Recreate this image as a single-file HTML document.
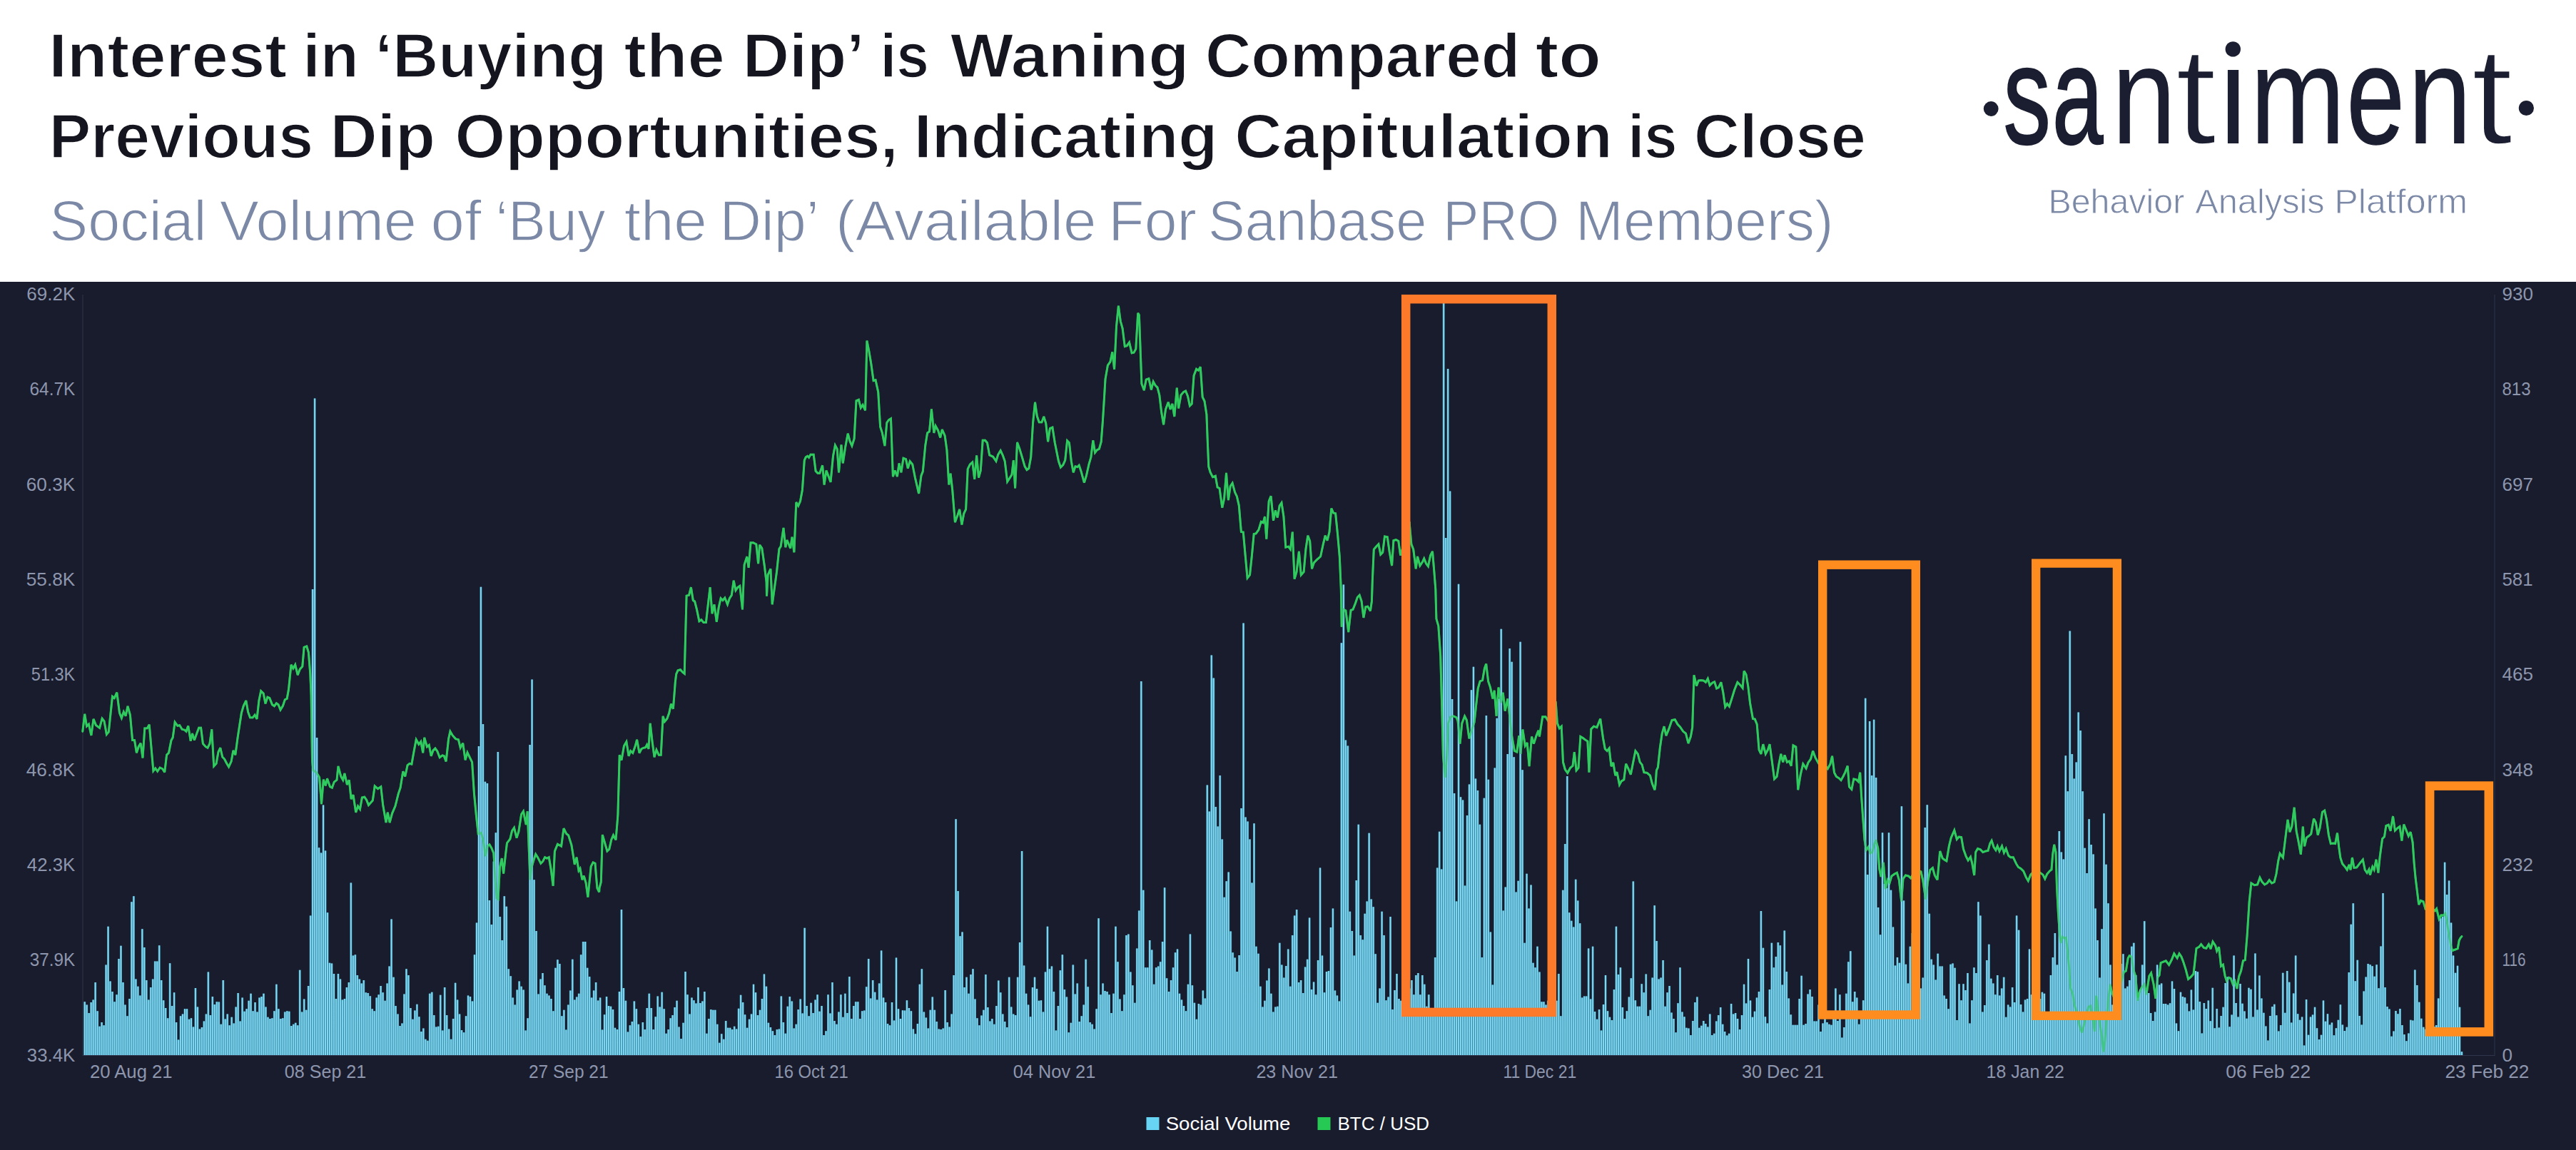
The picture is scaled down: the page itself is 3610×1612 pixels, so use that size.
<!DOCTYPE html>
<html><head><meta charset="utf-8"><title>Santiment chart</title>
<style>
html,body{margin:0;padding:0;background:#fff;}
body{width:3610px;height:1612px;overflow:hidden;font-family:"Liberation Sans",sans-serif;}
svg{display:block}
text{font-family:"Liberation Sans",sans-serif;}
.ax{font-size:26px;fill:#8d96ad;}
</style></head><body>
<svg width="3610" height="1612" viewBox="0 0 3610 1612">
<rect x="0" y="0" width="3610" height="395" fill="#ffffff"/>
<rect x="0" y="395" width="3610" height="1217" fill="#191c2d"/>
<!-- header -->
<text x="68.33" y="108" font-size="87" font-weight="700" fill="#14151f" stroke="#ffffff" stroke-width="1.6" textLength="333.73" lengthAdjust="spacingAndGlyphs">Interest</text>
<text x="424.3" y="108" font-size="87" font-weight="700" fill="#14151f" stroke="#ffffff" stroke-width="1.6" textLength="78.62" lengthAdjust="spacingAndGlyphs">in</text>
<text x="525.59" y="108" font-size="87" font-weight="700" fill="#14151f" stroke="#ffffff" stroke-width="1.6" textLength="324.92" lengthAdjust="spacingAndGlyphs">‘Buying</text>
<text x="874.62" y="108" font-size="87" font-weight="700" fill="#14151f" stroke="#ffffff" stroke-width="1.6" textLength="141.17" lengthAdjust="spacingAndGlyphs">the</text>
<text x="1040.66" y="108" font-size="87" font-weight="700" fill="#14151f" stroke="#ffffff" stroke-width="1.6" textLength="170.77" lengthAdjust="spacingAndGlyphs">Dip’</text>
<text x="1233.44" y="108" font-size="87" font-weight="700" fill="#14151f" stroke="#ffffff" stroke-width="1.6" textLength="68.42" lengthAdjust="spacingAndGlyphs">is</text>
<text x="1331.7" y="108" font-size="87" font-weight="700" fill="#14151f" stroke="#ffffff" stroke-width="1.6" textLength="334.73" lengthAdjust="spacingAndGlyphs">Waning</text>
<text x="1688.9" y="108" font-size="87" font-weight="700" fill="#14151f" stroke="#ffffff" stroke-width="1.6" textLength="441.42" lengthAdjust="spacingAndGlyphs">Compared</text>
<text x="2151.88" y="108" font-size="87" font-weight="700" fill="#14151f" stroke="#ffffff" stroke-width="1.6" textLength="92.02" lengthAdjust="spacingAndGlyphs">to</text>
<text x="68.65" y="221" font-size="87" font-weight="700" fill="#14151f" stroke="#ffffff" stroke-width="1.6" textLength="370.48" lengthAdjust="spacingAndGlyphs">Previous</text>
<text x="462.48" y="221" font-size="87" font-weight="700" fill="#14151f" stroke="#ffffff" stroke-width="1.6" textLength="147.65" lengthAdjust="spacingAndGlyphs">Dip</text>
<text x="637.62" y="221" font-size="87" font-weight="700" fill="#14151f" stroke="#ffffff" stroke-width="1.6" textLength="621.21" lengthAdjust="spacingAndGlyphs">Opportunities,</text>
<text x="1280.78" y="221" font-size="87" font-weight="700" fill="#14151f" stroke="#ffffff" stroke-width="1.6" textLength="425.57" lengthAdjust="spacingAndGlyphs">Indicating</text>
<text x="1730.29" y="221" font-size="87" font-weight="700" fill="#14151f" stroke="#ffffff" stroke-width="1.6" textLength="529.56" lengthAdjust="spacingAndGlyphs">Capitulation</text>
<text x="2281.17" y="221" font-size="87" font-weight="700" fill="#14151f" stroke="#ffffff" stroke-width="1.6" textLength="69.34" lengthAdjust="spacingAndGlyphs">is</text>
<text x="2374.14" y="221" font-size="87" font-weight="700" fill="#14151f" stroke="#ffffff" stroke-width="1.6" textLength="240.73" lengthAdjust="spacingAndGlyphs">Close</text>
<text x="69.26" y="337" font-size="80" font-weight="400" fill="#7b89a6" stroke="#ffffff" stroke-width="1.4" textLength="220.3" lengthAdjust="spacingAndGlyphs">Social</text>
<text x="307.77" y="337" font-size="80" font-weight="400" fill="#7b89a6" stroke="#ffffff" stroke-width="1.4" textLength="276.11" lengthAdjust="spacingAndGlyphs">Volume</text>
<text x="603.6" y="337" font-size="80" font-weight="400" fill="#7b89a6" stroke="#ffffff" stroke-width="1.4" textLength="71.1" lengthAdjust="spacingAndGlyphs">of</text>
<text x="694.45" y="337" font-size="80" font-weight="400" fill="#7b89a6" stroke="#ffffff" stroke-width="1.4" textLength="154.07" lengthAdjust="spacingAndGlyphs">‘Buy</text>
<text x="874.66" y="337" font-size="80" font-weight="400" fill="#7b89a6" stroke="#ffffff" stroke-width="1.4" textLength="116.21" lengthAdjust="spacingAndGlyphs">the</text>
<text x="1008.42" y="337" font-size="80" font-weight="400" fill="#7b89a6" stroke="#ffffff" stroke-width="1.4" textLength="139.45" lengthAdjust="spacingAndGlyphs">Dip’</text>
<text x="1170.97" y="337" font-size="80" font-weight="400" fill="#7b89a6" stroke="#ffffff" stroke-width="1.4" textLength="365.64" lengthAdjust="spacingAndGlyphs">(Available</text>
<text x="1553.39" y="337" font-size="80" font-weight="400" fill="#7b89a6" stroke="#ffffff" stroke-width="1.4" textLength="123.54" lengthAdjust="spacingAndGlyphs">For</text>
<text x="1693.12" y="337" font-size="80" font-weight="400" fill="#7b89a6" stroke="#ffffff" stroke-width="1.4" textLength="306.39" lengthAdjust="spacingAndGlyphs">Sanbase</text>
<text x="2022.22" y="337" font-size="80" font-weight="400" fill="#7b89a6" stroke="#ffffff" stroke-width="1.4" textLength="163.04" lengthAdjust="spacingAndGlyphs">PRO</text>
<text x="2208.07" y="337" font-size="80" font-weight="400" fill="#7b89a6" stroke="#ffffff" stroke-width="1.4" textLength="361.5" lengthAdjust="spacingAndGlyphs">Members)</text>
<text x="2870.47" y="298.7" font-size="48" font-weight="400" fill="#7b89a6" stroke="#ffffff" stroke-width="0.8" textLength="190.78" lengthAdjust="spacingAndGlyphs">Behavior</text>
<text x="3076.2" y="298.7" font-size="48" font-weight="400" fill="#7b89a6" stroke="#ffffff" stroke-width="0.8" textLength="181.56" lengthAdjust="spacingAndGlyphs">Analysis</text>
<text x="3271.32" y="298.7" font-size="48" font-weight="400" fill="#7b89a6" stroke="#ffffff" stroke-width="0.8" textLength="186.82" lengthAdjust="spacingAndGlyphs">Platform</text>
<text x="2807.5" y="200.6" font-size="194" font-weight="400" fill="#1b1e31" stroke="#1b1e31" stroke-width="2.4" textLength="66.28" lengthAdjust="spacingAndGlyphs">s</text>
<text x="2876.11" y="200.6" font-size="194" font-weight="400" fill="#1b1e31" stroke="#1b1e31" stroke-width="2.4" textLength="71.33" lengthAdjust="spacingAndGlyphs">a</text>
<text x="2959.31" y="200.6" font-size="194" font-weight="400" fill="#1b1e31" textLength="90.4" lengthAdjust="spacingAndGlyphs">n</text>
<text x="3048.36" y="200.6" font-size="194" font-weight="400" fill="#1b1e31" stroke="#ffffff" stroke-width="3.5" textLength="58.2" lengthAdjust="spacingAndGlyphs">t</text>
<text x="3105.41" y="200.6" font-size="194" font-weight="400" fill="#1b1e31" textLength="48.2" lengthAdjust="spacingAndGlyphs">ı</text>
<text x="3153.27" y="200.6" font-size="194" font-weight="400" fill="#1b1e31" textLength="133.45" lengthAdjust="spacingAndGlyphs">m</text>
<text x="3288.47" y="200.6" font-size="194" font-weight="400" fill="#1b1e31" stroke="#1b1e31" stroke-width="1.4" textLength="81.34" lengthAdjust="spacingAndGlyphs">e</text>
<text x="3374.2" y="200.6" font-size="194" font-weight="400" fill="#1b1e31" textLength="89.61" lengthAdjust="spacingAndGlyphs">n</text>
<text x="3463.03" y="200.6" font-size="194" font-weight="400" fill="#1b1e31" stroke="#ffffff" stroke-width="3.5" textLength="58.75" lengthAdjust="spacingAndGlyphs">t</text>
<!-- logo -->
<g fill="#1b1e31">
<circle cx="2790.2" cy="152.5" r="10.4"/>
<circle cx="3540.4" cy="151.5" r="10.6"/>
<circle cx="3129.3" cy="68.9" r="10.7"/>
</g>
<!-- axes -->
<rect x="115.5" y="413" width="1" height="1066" fill="#30354b"/>
<rect x="3495.5" y="413" width="1" height="1066" fill="#30354b"/>
<rect x="115.5" y="1479" width="3381" height="1" fill="#30354b"/>

<text class="ax" x="37.3" y="420.8" textLength="68.0" lengthAdjust="spacingAndGlyphs">69.2K</text>
<text class="ax" x="41.5" y="554.2" textLength="63.8" lengthAdjust="spacingAndGlyphs">64.7K</text>
<text class="ax" x="36.8" y="687.5" textLength="68.5" lengthAdjust="spacingAndGlyphs">60.3K</text>
<text class="ax" x="36.8" y="820.9" textLength="68.5" lengthAdjust="spacingAndGlyphs">55.8K</text>
<text class="ax" x="43.8" y="954.2" textLength="61.5" lengthAdjust="spacingAndGlyphs">51.3K</text>
<text class="ax" x="36.8" y="1087.6" textLength="68.5" lengthAdjust="spacingAndGlyphs">46.8K</text>
<text class="ax" x="37.8" y="1221.0" textLength="67.5" lengthAdjust="spacingAndGlyphs">42.3K</text>
<text class="ax" x="41.8" y="1354.3" textLength="63.5" lengthAdjust="spacingAndGlyphs">37.9K</text>
<text class="ax" x="37.8" y="1487.7" textLength="67.5" lengthAdjust="spacingAndGlyphs">33.4K</text>
<text class="ax" x="3506.5" y="420.8">930</text>
<text class="ax" x="3506.5" y="554.2" textLength="40.0" lengthAdjust="spacingAndGlyphs">813</text>
<text class="ax" x="3506.5" y="687.5">697</text>
<text class="ax" x="3506.5" y="820.9" textLength="43.0" lengthAdjust="spacingAndGlyphs">581</text>
<text class="ax" x="3506.5" y="954.2">465</text>
<text class="ax" x="3506.5" y="1087.6">348</text>
<text class="ax" x="3506.5" y="1221.0">232</text>
<text class="ax" x="3506.5" y="1354.3" textLength="33.1" lengthAdjust="spacingAndGlyphs">116</text>
<text class="ax" x="3506.5" y="1487.7">0</text>
<text class="ax" x="126" y="1510.6" textLength="115.6" lengthAdjust="spacingAndGlyphs">20 Aug 21</text>
<text class="ax" x="398.8" y="1510.6" textLength="114.5" lengthAdjust="spacingAndGlyphs">08 Sep 21</text>
<text class="ax" x="741" y="1510.6" textLength="111.5" lengthAdjust="spacingAndGlyphs">27 Sep 21</text>
<text class="ax" x="1085.4" y="1510.6" textLength="103.3" lengthAdjust="spacingAndGlyphs">16 Oct 21</text>
<text class="ax" x="1419.8" y="1510.6" textLength="115.5" lengthAdjust="spacingAndGlyphs">04 Nov 21</text>
<text class="ax" x="1760.4" y="1510.6" textLength="114.6" lengthAdjust="spacingAndGlyphs">23 Nov 21</text>
<text class="ax" x="2106.4" y="1510.6" textLength="102.8" lengthAdjust="spacingAndGlyphs">11 Dec 21</text>
<text class="ax" x="2441" y="1510.6" textLength="115.0" lengthAdjust="spacingAndGlyphs">30 Dec 21</text>
<text class="ax" x="2783.6" y="1510.6" textLength="109.2" lengthAdjust="spacingAndGlyphs">18 Jan 22</text>
<text class="ax" x="3119.3" y="1510.6" textLength="118.9" lengthAdjust="spacingAndGlyphs">06 Feb 22</text>
<text class="ax" x="3426.5" y="1510.6" textLength="117.9" lengthAdjust="spacingAndGlyphs">23 Feb 22</text>
<path d="M115.8 1025.2 L118.7 1000.8 L121.5 1018.0 L124.4 1015.1 L127.9 1030.9 L131.0 1007.9 L134.5 1016.6 L139.6 1020.3 L143.1 1007.1 L146.0 1010.8 L149.4 1029.5 L152.3 1026.0 L157.5 976.3 L160.3 978.4 L163.8 970.6 L167.5 999.3 L170.4 1006.5 L173.3 997.9 L176.1 1003.6 L179.0 989.8 L182.4 1002.2 L185.6 1037.5 L188.5 1037.5 L191.4 1055.3 L194.2 1046.7 L197.1 1041.6 L200.0 1062.5 L202.8 1020.9 L206.3 1020.9 L209.2 1015.7 L214.9 1080.6 L217.8 1076.9 L220.7 1081.2 L224.1 1076.0 L227.8 1077.8 L230.7 1082.6 L233.6 1058.2 L236.5 1055.3 L239.9 1038.1 L242.2 1033.8 L245.1 1012.3 L248.8 1017.4 L251.7 1016.6 L255.1 1022.3 L258.6 1023.2 L260.9 1025.2 L263.7 1017.4 L267.2 1038.7 L269.5 1028.1 L272.4 1037.5 L275.8 1028.1 L278.7 1020.3 L281.6 1020.3 L284.4 1042.4 L288.2 1046.7 L291.0 1048.2 L293.9 1042.4 L296.8 1022.3 L299.7 1074.0 L303.1 1070.3 L306.0 1053.9 L308.8 1048.2 L311.7 1061.1 L314.6 1064.0 L317.5 1069.7 L320.6 1074.9 L324.1 1067.4 L326.9 1051.9 L329.8 1058.2 L333.3 1032.4 L338.4 999.3 L341.3 989.3 L344.8 982.1 L347.6 997.9 L350.5 1005.9 L354.2 1005.9 L357.1 1002.2 L360.0 1007.9 L362.9 982.1 L365.7 968.6 L369.2 972.0 L372.0 986.4 L374.9 977.2 L377.8 978.4 L381.5 987.8 L384.4 989.8 L387.3 985.8 L390.1 987.8 L393.0 995.0 L396.5 989.3 L399.3 980.7 L402.2 979.2 L404.5 966.3 L408.0 931.8 L410.8 937.0 L413.7 931.8 L417.2 946.2 L420.3 938.1 L423.8 934.1 L426.1 907.4 L429.8 906.0 L432.4 914.6 L434.7 943.3 L436.1 974.9 L437.5 1066.8 L439.0 1079.8 L443.3 1082.6 L447.6 1089.8 L450.5 1127.2 L453.3 1092.7 L456.2 1101.3 L458.5 1091.3 L462.5 1102.7 L465.4 1104.2 L468.3 1096.1 L472.0 1093.3 L474.0 1074.0 L477.8 1088.4 L480.6 1093.3 L482.9 1084.1 L486.4 1099.9 L489.3 1093.3 L492.1 1120.0 L495.0 1114.2 L498.7 1138.7 L501.6 1130.0 L504.5 1134.3 L507.4 1118.0 L510.8 1117.1 L513.7 1121.4 L516.5 1128.6 L522.3 1122.0 L525.2 1101.9 L529.5 1105.6 L533.8 1102.7 L536.7 1128.6 L541.0 1153.0 L543.3 1138.7 L546.1 1153.0 L549.6 1140.1 L553.9 1130.0 L558.2 1112.8 L561.1 1104.2 L564.8 1081.2 L567.7 1088.4 L571.1 1072.6 L574.0 1070.3 L576.9 1071.1 L579.7 1055.3 L583.2 1036.7 L586.9 1043.3 L589.8 1039.5 L592.7 1055.3 L594.7 1033.8 L598.4 1046.7 L601.3 1044.4 L604.2 1059.7 L607.0 1051.9 L609.9 1049.0 L612.8 1053.0 L616.2 1061.7 L620.0 1058.8 L622.3 1059.7 L625.1 1067.4 L628.6 1035.8 L630.9 1025.2 L634.3 1030.9 L638.6 1035.8 L642.4 1036.7 L645.2 1048.2 L648.7 1041.6 L652.1 1065.4 L655.0 1054.8 L661.6 1068.3 L664.5 1112.8 L667.4 1143.0 L670.2 1168.8 L674.5 1167.4 L677.4 1178.9 L680.3 1200.3 L683.2 1185.9 L686.0 1183.9 L688.9 1188.8 L691.8 1196.0 L694.1 1233.3 L696.1 1259.2 L698.1 1260.6 L700.4 1216.1 L703.3 1203.1 L705.6 1224.7 L708.4 1198.8 L710.5 1181.7 L714.8 1176.0 L717.6 1164.5 L720.5 1160.2 L724.0 1174.6 L726.8 1165.9 L730.6 1141.5 L733.4 1137.2 L737.2 1155.9 L739.2 1137.2 L741.2 1189.9 L742.9 1233.3 L744.9 1216.1 L747.8 1206.0 L750.7 1197.4 L753.5 1201.7 L757.9 1210.3 L760.7 1207.5 L763.6 1201.7 L766.5 1203.1 L769.3 1201.7 L772.2 1218.9 L775.1 1241.9 L777.4 1193.1 L781.4 1183.2 L786.6 1186.1 L790.0 1161.1 L793.8 1168.8 L796.6 1170.8 L800.9 1184.6 L805.3 1211.8 L808.1 1201.7 L811.0 1220.4 L813.0 1217.5 L815.9 1233.3 L818.2 1227.6 L821.1 1237.6 L823.9 1257.7 L826.2 1234.7 L828.2 1214.6 L831.1 1208.9 L834.0 1210.3 L836.9 1244.8 L839.7 1250.5 L840.0 1244.8 L842.3 1236.2 L844.3 1170.1 L847.2 1180.2 L850.9 1193.1 L853.8 1190.2 L856.7 1177.3 L859.5 1170.7 L863.0 1177.3 L865.3 1150.0 L865.9 1141.7 L868.2 1058.4 L871.0 1065.6 L874.5 1045.5 L877.9 1039.7 L881.1 1059.8 L883.7 1052.6 L886.8 1055.5 L890.3 1045.5 L892.6 1036.8 L896.0 1055.5 L898.9 1049.8 L901.8 1048.3 L904.6 1047.8 L906.6 1044.0 L908.9 1049.8 L911.2 1013.9 L914.1 1039.7 L917.0 1061.3 L919.9 1051.2 L923.3 1058.4 L926.2 1058.4 L929.1 1003.8 L931.4 1011.6 L934.8 1007.5 L937.7 999.5 L940.5 986.6 L943.4 993.7 L946.3 956.4 L947.7 944.9 L950.0 939.7 L953.5 938.6 L956.3 942.0 L959.2 944.3 L962.1 835.2 L965.5 834.3 L968.4 823.2 L971.3 841.5 L973.6 842.9 L976.5 854.4 L979.9 870.8 L982.8 868.8 L985.9 872.5 L989.4 872.5 L992.3 847.2 L995.1 823.2 L998.0 860.2 L1000.9 847.2 L1004.3 871.7 L1007.2 851.5 L1010.1 838.6 L1012.9 841.5 L1015.8 838.0 L1019.5 847.2 L1022.4 838.6 L1025.3 834.3 L1028.2 813.7 L1031.0 827.5 L1033.9 823.2 L1036.8 821.2 L1040.5 854.4 L1042.0 816.0 L1043.1 791.6 L1046.8 780.1 L1049.1 795.9 L1052.0 760.8 L1055.5 760.8 L1059.8 762.9 L1062.6 790.1 L1064.6 763.7 L1067.8 768.6 L1071.3 793.0 L1074.1 816.0 L1074.5 835.7 L1076.1 805.9 L1079.9 797.3 L1082.2 847.2 L1088.5 801.6 L1091.9 769.5 L1094.2 765.7 L1098.0 739.9 L1100.8 767.2 L1102.9 757.1 L1105.7 763.7 L1107.7 768.6 L1110.0 752.8 L1112.9 774.3 L1115.8 704.0 L1118.7 709.1 L1121.5 702.5 L1124.4 686.7 L1127.3 645.1 L1129.3 640.8 L1131.6 639.3 L1133.6 641.3 L1135.9 637.3 L1140.2 637.3 L1143.1 660.3 L1145.9 663.2 L1148.8 663.2 L1152.6 652.3 L1155.1 679.5 L1158.0 659.4 L1161.2 668.1 L1164.0 675.8 L1167.5 639.3 L1170.4 624.1 L1173.2 629.3 L1175.5 662.3 L1179.0 623.5 L1181.3 649.4 L1184.7 626.4 L1188.2 607.7 L1191.0 618.4 L1193.9 625.0 L1197.1 614.9 L1200.0 561.8 L1203.4 560.3 L1206.3 571.8 L1209.1 567.5 L1212.6 575.3 L1214.9 477.6 L1217.8 491.9 L1220.7 509.2 L1224.1 533.6 L1227.0 532.7 L1230.7 549.4 L1233.6 598.2 L1236.4 606.9 L1239.9 625.0 L1242.8 592.5 L1245.6 588.5 L1248.5 586.8 L1251.4 668.1 L1254.2 659.4 L1257.4 668.1 L1260.0 649.4 L1262.9 662.3 L1266.0 642.2 L1269.5 643.6 L1272.3 656.6 L1275.2 646.5 L1278.7 650.8 L1282.4 669.5 L1287.6 691.9 L1291.0 666.6 L1293.3 660.9 L1296.8 624.1 L1299.6 606.9 L1302.5 604.9 L1305.4 573.3 L1308.8 606.9 L1311.1 597.1 L1314.6 603.4 L1317.7 613.5 L1320.3 602.0 L1324.1 610.6 L1326.9 630.7 L1329.8 679.5 L1332.1 663.7 L1334.7 686.7 L1338.4 732.1 L1341.3 724.1 L1344.7 714.0 L1347.9 735.6 L1350.8 719.8 L1353.6 714.0 L1356.2 657.4 L1359.4 650.8 L1362.8 647.9 L1365.7 671.8 L1368.6 638.5 L1371.5 669.5 L1374.3 659.4 L1377.2 617.2 L1380.6 617.2 L1383.5 620.7 L1386.7 637.9 L1391.6 640.2 L1395.9 646.5 L1398.7 637.3 L1402.2 631.6 L1405.4 638.5 L1408.2 646.5 L1411.7 675.2 L1415.1 670.1 L1418.0 665.2 L1420.3 645.1 L1422.6 684.4 L1425.5 620.1 L1428.9 629.3 L1432.4 640.8 L1436.1 653.7 L1439.0 658.6 L1441.8 656.6 L1444.7 640.8 L1447.6 592.5 L1450.5 563.8 L1453.3 583.3 L1456.2 591.9 L1459.9 591.9 L1462.8 583.9 L1465.7 593.4 L1468.6 619.2 L1471.4 600.5 L1474.9 599.1 L1478.3 620.7 L1483.5 646.5 L1486.4 655.1 L1489.8 651.7 L1492.7 645.1 L1495.6 617.8 L1498.4 620.7 L1501.3 646.5 L1504.2 662.3 L1507.0 653.7 L1509.9 654.6 L1512.2 652.3 L1515.1 660.9 L1519.4 676.7 L1522.3 667.2 L1526.0 650.8 L1528.9 640.8 L1531.8 617.2 L1534.6 634.4 L1537.5 630.7 L1540.4 629.3 L1543.2 619.2 L1545.3 591.9 L1547.3 560.3 L1549.0 531.6 L1552.4 512.1 L1555.9 507.2 L1558.8 493.4 L1561.6 517.8 L1564.5 457.5 L1567.4 428.7 L1570.3 450.3 L1573.1 460.3 L1576.3 485.6 L1579.2 484.7 L1582.6 479.9 L1586.1 494.8 L1588.9 494.2 L1591.8 489.1 L1594.7 438.8 L1596.4 441.7 L1599.9 537.9 L1603.3 547.1 L1606.2 532.1 L1609.9 530.7 L1613.4 546.5 L1616.2 535.0 L1619.1 540.2 L1622.0 543.1 L1624.8 553.7 L1627.7 578.1 L1630.6 595.3 L1633.5 573.8 L1637.2 563.7 L1640.1 573.8 L1642.9 566.0 L1645.8 583.9 L1649.3 543.6 L1651.6 572.4 L1655.0 553.7 L1658.7 549.4 L1661.6 547.9 L1664.5 555.1 L1667.4 568.9 L1670.2 566.0 L1673.1 526.4 L1676.6 517.2 L1679.4 519.2 L1682.3 514.3 L1685.2 556.6 L1688.0 562.3 L1690.9 581.0 L1692.4 621.2 L1693.8 654.2 L1696.1 662.0 L1699.5 668.6 L1703.3 667.2 L1706.1 683.0 L1709.0 684.4 L1712.8 711.7 L1715.6 698.8 L1718.5 662.9 L1721.4 701.1 L1724.2 681.5 L1727.1 677.2 L1730.6 690.1 L1733.4 695.9 L1736.3 708.8 L1739.4 745.6 L1742.3 746.1 L1745.2 778.6 L1748.1 810.2 L1751.5 805.9 L1754.4 778.6 L1757.2 748.4 L1760.1 747.9 L1763.9 742.7 L1767.3 731.2 L1770.2 732.6 L1772.5 724.0 L1774.8 755.6 L1778.2 702.5 L1781.1 695.3 L1784.5 729.8 L1787.4 715.4 L1790.3 725.5 L1793.2 708.8 L1796.0 704.8 L1798.9 724.0 L1801.8 767.1 L1805.5 766.2 L1808.4 770.0 L1811.3 745.6 L1814.1 811.6 L1817.0 801.6 L1820.4 772.9 L1823.3 805.9 L1827.1 801.6 L1829.9 770.0 L1832.8 750.7 L1835.7 758.5 L1838.5 797.3 L1841.4 788.7 L1845.7 784.3 L1850.6 780.0 L1854.3 762.8 L1857.2 750.7 L1860.1 757.6 L1863.0 745.6 L1865.8 712.5 L1868.7 719.1 L1871.6 719.7 L1874.5 748.4 L1877.3 780.0 L1879.3 826.0 L1880.2 878.8 L1883.1 854.4 L1885.9 855.9 L1889.7 886.0 L1893.1 855.3 L1896.0 854.4 L1899.4 845.8 L1902.3 837.2 L1905.2 834.3 L1908.1 842.9 L1910.9 865.9 L1913.8 850.7 L1916.7 850.1 L1920.4 856.4 L1922.4 842.9 L1923.3 814.5 L1925.3 770.0 L1929.0 765.7 L1931.9 762.8 L1934.8 777.2 L1937.7 774.3 L1940.5 751.9 L1944.3 752.7 L1947.1 772.9 L1950.6 793.0 L1952.9 757.6 L1956.3 756.5 L1959.8 758.5 L1962.6 778.6 L1966.4 765.7 L1970.7 757.1 L1975.0 731.2 L1977.9 762.8 L1980.7 770.0 L1984.2 797.3 L1986.5 780.0 L1989.9 793.0 L1993.7 787.2 L1995.7 782.9 L1998.6 790.1 L2001.4 793.8 L2004.6 778.6 L2007.5 772.9 L2010.0 803.0 L2011.8 826.0 L2012.9 867.3 L2015.8 877.4 L2018.7 919.1 L2021.0 1002.4 L2022.4 1059.8 L2025.3 1090.0 L2027.6 1059.8 L2029.6 1013.9 L2032.5 1005.2 L2036.8 1003.8 L2041.1 1005.8 L2043.1 1011.0 L2046.0 1042.6 L2048.8 1013.9 L2052.6 1003.8 L2055.4 1009.5 L2058.9 1035.4 L2062.6 1023.0 L2066.1 1012.4 L2068.4 990.9 L2071.2 965.0 L2074.1 955.0 L2077.6 953.5 L2080.4 936.9 L2082.7 930.5 L2085.6 955.0 L2088.5 963.6 L2091.9 979.4 L2094.2 967.9 L2097.1 1003.8 L2100.0 963.6 L2103.4 985.1 L2106.3 970.8 L2109.2 996.6 L2112.9 979.4 L2115.8 1005.2 L2118.6 1031.1 L2122.4 1052.6 L2125.8 1054.1 L2128.7 1031.1 L2131.0 1056.9 L2133.9 1022.5 L2137.3 1045.5 L2140.2 1041.1 L2143.1 1074.2 L2146.5 1032.5 L2149.4 1042.6 L2153.1 1031.1 L2156.0 1023.9 L2157.4 1032.5 L2161.7 1004.7 L2166.0 1004.7 L2168.9 1009.5 L2174.7 993.7 L2180.4 986.6 L2182.4 1013.9 L2185.3 1021.0 L2188.2 1018.2 L2190.5 1068.4 L2193.3 1078.5 L2196.8 1083.4 L2200.5 1076.5 L2204.0 1073.6 L2206.3 1054.1 L2209.1 1079.9 L2212.0 1076.5 L2214.9 1032.5 L2218.3 1034.5 L2222.1 1037.4 L2224.9 1039.1 L2226.9 1082.8 L2229.8 1021.9 L2233.5 1018.2 L2237.9 1019.6 L2242.7 1007.5 L2246.5 1034.5 L2249.3 1049.8 L2252.2 1052.6 L2255.1 1048.9 L2258.0 1074.2 L2260.8 1069.0 L2263.7 1087.1 L2266.0 1082.2 L2269.5 1100.0 L2272.3 1094.9 L2275.8 1092.9 L2278.6 1070.7 L2282.4 1078.5 L2285.3 1085.7 L2289.0 1067.0 L2291.9 1052.6 L2295.3 1056.9 L2298.2 1068.4 L2301.1 1071.9 L2303.9 1082.8 L2308.2 1083.4 L2312.5 1087.1 L2315.4 1098.6 L2318.9 1107.2 L2320.0 1100.0 L2321.4 1079.9 L2323.4 1075.6 L2326.3 1048.3 L2329.2 1028.2 L2332.1 1018.2 L2334.9 1031.1 L2338.7 1021.9 L2343.0 1009.5 L2347.3 1008.7 L2351.0 1015.3 L2354.5 1019.0 L2358.8 1025.3 L2362.5 1028.2 L2366.0 1042.0 L2369.4 1032.5 L2371.7 1019.6 L2374.0 946.3 L2377.5 961.6 L2380.3 954.1 L2383.8 953.5 L2387.5 954.1 L2390.4 956.4 L2393.3 951.2 L2396.1 960.7 L2399.9 957.0 L2402.7 955.8 L2405.6 965.0 L2408.5 963.6 L2411.9 956.4 L2414.8 970.8 L2417.7 990.9 L2420.5 986.6 L2423.4 990.3 L2426.9 979.4 L2430.6 967.3 L2434.9 956.4 L2439.2 960.7 L2442.1 964.4 L2444.1 940.6 L2447.0 945.5 L2449.8 962.1 L2452.7 986.6 L2456.5 1007.5 L2459.3 1008.1 L2462.2 1015.3 L2465.1 1051.2 L2467.9 1056.9 L2470.8 1043.2 L2474.3 1056.9 L2477.4 1051.2 L2480.0 1043.2 L2482.9 1064.1 L2486.6 1092.0 L2490.1 1088.5 L2492.9 1071.3 L2495.8 1056.9 L2498.7 1068.4 L2501.0 1058.4 L2504.4 1068.4 L2507.3 1067.0 L2510.2 1073.6 L2513.0 1044.9 L2516.8 1046.9 L2519.7 1107.2 L2523.4 1085.1 L2526.8 1070.7 L2531.1 1077.1 L2534.0 1069.0 L2537.5 1064.1 L2540.6 1052.6 L2544.1 1062.1 L2548.4 1069.9 L2554.1 1068.4 L2561.3 1077.6 L2564.8 1071.3 L2567.6 1059.8 L2570.5 1082.8 L2573.4 1088.5 L2577.1 1090.8 L2580.0 1093.7 L2582.9 1088.5 L2585.7 1082.8 L2589.2 1073.6 L2591.5 1102.9 L2594.9 1106.4 L2597.8 1092.0 L2601.5 1092.9 L2604.4 1095.7 L2606.7 1082.8 L2608.7 1117.3 L2610.7 1146.0 L2613.0 1177.3 L2615.3 1191.7 L2618.2 1187.3 L2621.1 1196.0 L2623.9 1194.5 L2626.8 1183.0 L2628.8 1177.3 L2631.7 1188.8 L2633.7 1217.5 L2636.0 1229.0 L2639.4 1208.9 L2642.3 1246.2 L2645.2 1233.3 L2648.1 1237.6 L2650.9 1228.1 L2654.7 1225.3 L2658.4 1223.3 L2661.3 1233.3 L2664.7 1263.5 L2667.0 1231.9 L2670.5 1227.0 L2674.8 1228.1 L2677.7 1231.0 L2684.8 1218.9 L2692.0 1221.8 L2694.9 1234.7 L2698.6 1260.6 L2701.5 1236.2 L2704.9 1219.5 L2708.4 1216.6 L2711.3 1227.0 L2715.0 1233.3 L2718.7 1193.1 L2722.2 1203.1 L2725.1 1205.2 L2727.9 1206.9 L2731.4 1185.9 L2734.2 1174.4 L2738.8 1163.8 L2742.3 1176.4 L2745.2 1173.0 L2748.6 1173.6 L2751.5 1190.2 L2755.2 1200.3 L2758.1 1206.0 L2761.5 1201.1 L2763.8 1210.3 L2766.7 1227.0 L2768.7 1194.5 L2771.6 1189.6 L2775.3 1190.8 L2778.8 1194.5 L2782.5 1193.1 L2786.0 1192.5 L2788.8 1182.2 L2791.1 1178.2 L2794.0 1187.3 L2796.9 1191.7 L2799.2 1185.9 L2802.0 1193.1 L2805.5 1185.9 L2808.4 1195.4 L2811.2 1189.6 L2814.7 1199.4 L2817.6 1201.7 L2821.3 1201.7 L2825.6 1210.9 L2828.5 1215.5 L2831.9 1217.5 L2835.7 1221.2 L2839.4 1229.9 L2842.3 1234.7 L2845.7 1226.1 L2852.9 1218.9 L2860.1 1224.1 L2862.9 1226.1 L2865.8 1231.9 L2868.7 1225.3 L2872.1 1221.2 L2875.0 1218.9 L2876.7 1197.4 L2878.7 1183.9 L2881.0 1194.5 L2882.5 1244.8 L2884.5 1282.1 L2886.5 1310.9 L2888.2 1321.8 L2890.2 1313.2 L2893.1 1315.2 L2895.4 1314.3 L2897.4 1331.0 L2899.7 1356.8 L2901.7 1385.6 L2904.6 1392.7 L2907.5 1410.0 L2911.2 1421.5 L2914.1 1437.3 L2917.5 1447.3 L2920.4 1437.3 L2923.3 1424.3 L2926.7 1411.4 L2929.6 1410.0 L2932.5 1425.8 L2935.3 1445.9 L2937.6 1395.6 L2940.5 1417.2 L2942.8 1434.4 L2945.7 1454.5 L2947.7 1474.6 L2949.7 1460.3 L2952.0 1430.1 L2954.9 1397.6 L2957.2 1379.8 L2959.2 1389.9 L2962.1 1397.1 L2967.8 1385.6 L2973.5 1374.1 L2976.4 1362.6 L2979.3 1361.1 L2982.2 1343.0 L2984.2 1339.6 L2987.0 1341.0 L2989.9 1359.7 L2992.8 1368.3 L2995.7 1402.8 L2998.0 1391.3 L3001.4 1384.1 L3005.1 1379.8 L3008.0 1394.2 L3011.8 1368.3 L3014.6 1364.0 L3018.1 1379.8 L3020.9 1399.9 L3023.8 1369.8 L3026.1 1366.9 L3028.1 1349.7 L3031.9 1348.2 L3035.3 1346.8 L3039.6 1352.5 L3043.4 1345.3 L3046.8 1336.7 L3051.1 1343.0 L3054.0 1336.7 L3056.9 1341.0 L3059.7 1348.2 L3063.1 1358.9 L3066.6 1372.4 L3070.3 1369.5 L3074.0 1365.2 L3078.0 1329.3 L3081.8 1327.3 L3084.6 1323.6 L3088.4 1328.5 L3091.8 1329.3 L3095.3 1323.6 L3098.1 1330.2 L3101.0 1319.9 L3104.7 1325.6 L3106.7 1333.1 L3109.6 1327.3 L3112.5 1354.3 L3115.4 1352.3 L3118.2 1368.1 L3120.5 1375.3 L3123.4 1370.4 L3126.3 1371.5 L3129.1 1379.6 L3132.0 1375.3 L3134.9 1385.9 L3137.7 1368.7 L3140.6 1360.9 L3143.5 1346.6 L3146.3 1345.7 L3149.2 1310.5 L3152.1 1264.6 L3154.9 1237.9 L3159.3 1240.8 L3163.6 1240.0 L3167.0 1230.2 L3169.9 1235.9 L3173.6 1240.0 L3177.3 1237.9 L3180.2 1233.6 L3183.6 1237.9 L3187.1 1236.5 L3190.0 1225.0 L3192.8 1206.4 L3195.1 1196.3 L3199.4 1202.1 L3202.3 1178.6 L3206.0 1149.0 L3208.9 1166.2 L3211.8 1158.5 L3215.2 1131.8 L3218.1 1164.8 L3220.9 1178.6 L3224.4 1197.8 L3227.3 1158.5 L3229.6 1186.3 L3232.4 1174.0 L3235.3 1172.0 L3238.7 1169.1 L3242.5 1147.6 L3245.3 1152.7 L3248.2 1170.5 L3251.1 1160.5 L3254.5 1138.4 L3257.7 1136.1 L3260.5 1149.0 L3263.4 1170.5 L3266.3 1182.6 L3269.7 1182.0 L3272.6 1182.6 L3275.5 1167.6 L3277.8 1187.7 L3279.8 1202.1 L3282.6 1210.7 L3286.9 1215.9 L3289.2 1219.3 L3292.1 1212.1 L3294.1 1219.3 L3296.4 1202.1 L3299.0 1216.4 L3302.7 1215.9 L3307.0 1210.1 L3311.3 1204.9 L3314.2 1219.3 L3317.1 1223.6 L3319.9 1218.7 L3321.4 1226.5 L3324.8 1215.0 L3327.1 1219.3 L3330.0 1204.9 L3332.9 1223.6 L3335.2 1200.6 L3338.6 1175.7 L3341.5 1172.8 L3343.8 1157.6 L3347.2 1156.2 L3350.1 1164.8 L3353.5 1144.1 L3356.4 1164.2 L3360.1 1160.5 L3363.0 1158.5 L3365.9 1178.6 L3368.7 1155.6 L3371.6 1162.5 L3375.3 1172.0 L3378.2 1166.2 L3381.1 1180.6 L3383.1 1209.3 L3385.1 1230.8 L3387.4 1249.4 L3389.7 1268.1 L3392.5 1262.3 L3396.0 1263.8 L3398.9 1273.8 L3405.2 1270.9 L3412.3 1276.7 L3414.6 1273.8 L3418.1 1288.2 L3420.9 1283.0 L3424.7 1283.0 L3427.0 1280.1 L3429.0 1291.0 L3431.9 1309.7 L3434.7 1325.5 L3436.7 1332.6 L3440.5 1331.2 L3444.2 1329.8 L3446.2 1318.3 L3448.2 1314.6 L3449.9 1312.6" fill="none" stroke="#2fcb5e" stroke-width="2.9" stroke-linejoin="miter" stroke-miterlimit="3" stroke-linecap="round"/>
<path d="M117.23 1479.0v-74.8h3.005v74.8zM120.22 1479.0v-70.6h3.005v70.6zM123.20 1479.0v-59.0h3.005v59.0zM126.19 1479.0v-73.9h3.005v73.9zM129.17 1479.0v-77.6h3.005v77.6zM132.16 1479.0v-102.1h3.005v102.1zM135.14 1479.0v-61.8h3.005v61.8zM138.12 1479.0v-40.3h3.005v40.3zM141.11 1479.0v-46.0h3.005v46.0zM144.09 1479.0v-41.7h3.005v41.7zM147.08 1479.0v-126.5h3.005v126.5zM150.06 1479.0v-180.2h3.005v180.2zM153.05 1479.0v-103.5h3.005v103.5zM156.03 1479.0v-89.1h3.005v89.1zM159.02 1479.0v-74.8h3.005v74.8zM162.00 1479.0v-84.8h3.005v84.8zM164.99 1479.0v-135.1h3.005v135.1zM167.97 1479.0v-153.2h3.005v153.2zM170.96 1479.0v-102.1h3.005v102.1zM173.94 1479.0v-70.5h3.005v70.5zM176.93 1479.0v-54.7h3.005v54.7zM179.91 1479.0v-79.1h3.005v79.1zM182.90 1479.0v-214.7h3.005v214.7zM185.88 1479.0v-222.7h3.005v222.7zM188.87 1479.0v-106.4h3.005v106.4zM191.86 1479.0v-96.3h3.005v96.3zM194.84 1479.0v-83.4h3.005v83.4zM197.82 1479.0v-176.7h3.005v176.7zM200.81 1479.0v-150.9h3.005v150.9zM203.80 1479.0v-104.9h3.005v104.9zM206.78 1479.0v-77.6h3.005v77.6zM209.76 1479.0v-94.9h3.005v94.9zM212.75 1479.0v-106.4h3.005v106.4zM215.74 1479.0v-131.4h3.005v131.4zM218.72 1479.0v-131.4h3.005v131.4zM221.70 1479.0v-153.8h3.005v153.8zM224.69 1479.0v-104.9h3.005v104.9zM227.68 1479.0v-76.8h3.005v76.8zM230.66 1479.0v-66.1h3.005v66.1zM233.64 1479.0v-51.8h3.005v51.8zM236.63 1479.0v-128.8h3.005v128.8zM239.62 1479.0v-69.0h3.005v69.0zM242.60 1479.0v-87.7h3.005v87.7zM245.58 1479.0v-46.0h3.005v46.0zM248.57 1479.0v-21.6h3.005v21.6zM251.56 1479.0v-54.7h3.005v54.7zM254.54 1479.0v-57.5h3.005v57.5zM257.52 1479.0v-64.7h3.005v64.7zM260.51 1479.0v-64.7h3.005v64.7zM263.50 1479.0v-50.3h3.005v50.3zM266.48 1479.0v-51.8h3.005v51.8zM269.46 1479.0v-39.4h3.005v39.4zM272.45 1479.0v-94.0h3.005v94.0zM275.44 1479.0v-67.6h3.005v67.6zM278.42 1479.0v-36.6h3.005v36.6zM281.40 1479.0v-38.9h3.005v38.9zM284.39 1479.0v-47.5h3.005v47.5zM287.38 1479.0v-57.5h3.005v57.5zM290.36 1479.0v-116.4h3.005v116.4zM293.34 1479.0v-56.1h3.005v56.1zM296.33 1479.0v-81.9h3.005v81.9zM299.31 1479.0v-71.0h3.005v71.0zM302.30 1479.0v-74.8h3.005v74.8zM305.28 1479.0v-74.4h3.005v74.4zM308.27 1479.0v-43.2h3.005v43.2zM311.25 1479.0v-104.9h3.005v104.9zM314.24 1479.0v-50.6h3.005v50.6zM317.23 1479.0v-57.5h3.005v57.5zM320.21 1479.0v-41.7h3.005v41.7zM323.19 1479.0v-53.2h3.005v53.2zM326.18 1479.0v-44.6h3.005v44.6zM329.17 1479.0v-67.6h3.005v67.6zM332.15 1479.0v-87.1h3.005v87.1zM335.13 1479.0v-47.5h3.005v47.5zM338.12 1479.0v-80.5h3.005v80.5zM341.11 1479.0v-61.3h3.005v61.3zM344.09 1479.0v-64.7h3.005v64.7zM347.07 1479.0v-76.2h3.005v76.2zM350.06 1479.0v-86.3h3.005v86.3zM353.05 1479.0v-61.8h3.005v61.8zM356.03 1479.0v-73.9h3.005v73.9zM359.01 1479.0v-60.4h3.005v60.4zM362.00 1479.0v-80.5h3.005v80.5zM364.99 1479.0v-81.9h3.005v81.9zM367.97 1479.0v-86.3h3.005v86.3zM370.95 1479.0v-67.6h3.005v67.6zM373.94 1479.0v-53.2h3.005v53.2zM376.93 1479.0v-50.9h3.005v50.9zM379.91 1479.0v-51.8h3.005v51.8zM382.89 1479.0v-61.8h3.005v61.8zM385.88 1479.0v-99.2h3.005v99.2zM388.87 1479.0v-64.7h3.005v64.7zM391.85 1479.0v-50.9h3.005v50.9zM394.83 1479.0v-51.8h3.005v51.8zM397.82 1479.0v-60.4h3.005v60.4zM400.81 1479.0v-61.8h3.005v61.8zM403.79 1479.0v-61.3h3.005v61.3zM406.78 1479.0v-40.9h3.005v40.9zM409.76 1479.0v-43.2h3.005v43.2zM412.75 1479.0v-45.2h3.005v45.2zM415.73 1479.0v-41.7h3.005v41.7zM418.72 1479.0v-119.3h3.005v119.3zM421.70 1479.0v-60.4h3.005v60.4zM424.69 1479.0v-78.5h3.005v78.5zM427.67 1479.0v-63.3h3.005v63.3zM430.66 1479.0v-96.9h3.005v96.9zM433.64 1479.0v-195.4h3.005v195.4zM436.62 1479.0v-653.0h3.005v653.0zM439.61 1479.0v-920.5h3.005v920.5zM442.60 1479.0v-445.1h3.005v445.1zM445.58 1479.0v-290.8h3.005v290.8zM448.56 1479.0v-283.6h3.005v283.6zM451.55 1479.0v-350.5h3.005v350.5zM454.54 1479.0v-286.5h3.005v286.5zM457.52 1479.0v-199.7h3.005v199.7zM460.50 1479.0v-129.3h3.005v129.3zM463.49 1479.0v-128.5h3.005v128.5zM466.48 1479.0v-114.1h3.005v114.1zM469.46 1479.0v-79.1h3.005v79.1zM472.44 1479.0v-114.1h3.005v114.1zM475.43 1479.0v-106.4h3.005v106.4zM478.42 1479.0v-77.6h3.005v77.6zM481.40 1479.0v-79.1h3.005v79.1zM484.38 1479.0v-94.9h3.005v94.9zM487.37 1479.0v-102.1h3.005v102.1zM490.36 1479.0v-241.4h3.005v241.4zM493.34 1479.0v-139.4h3.005v139.4zM496.32 1479.0v-140.8h3.005v140.8zM499.31 1479.0v-112.1h3.005v112.1zM502.30 1479.0v-106.4h3.005v106.4zM505.28 1479.0v-100.6h3.005v100.6zM508.26 1479.0v-104.9h3.005v104.9zM511.25 1479.0v-87.7h3.005v87.7zM514.24 1479.0v-87.1h3.005v87.1zM517.22 1479.0v-82.8h3.005v82.8zM520.20 1479.0v-64.7h3.005v64.7zM523.19 1479.0v-61.8h3.005v61.8zM526.17 1479.0v-80.6h3.005v80.6zM529.16 1479.0v-84.8h3.005v84.8zM532.14 1479.0v-96.9h3.005v96.9zM535.13 1479.0v-87.7h3.005v87.7zM538.12 1479.0v-76.2h3.005v76.2zM541.10 1479.0v-100.6h3.005v100.6zM544.08 1479.0v-124.5h3.005v124.5zM547.07 1479.0v-190.5h3.005v190.5zM550.05 1479.0v-109.2h3.005v109.2zM553.04 1479.0v-69.0h3.005v69.0zM556.02 1479.0v-57.5h3.005v57.5zM559.01 1479.0v-40.9h3.005v40.9zM562.00 1479.0v-44.6h3.005v44.6zM564.98 1479.0v-85.4h3.005v85.4zM567.96 1479.0v-120.7h3.005v120.7zM570.95 1479.0v-112.1h3.005v112.1zM573.93 1479.0v-66.1h3.005v66.1zM576.92 1479.0v-50.3h3.005v50.3zM579.90 1479.0v-62.4h3.005v62.4zM582.89 1479.0v-71.3h3.005v71.3zM585.88 1479.0v-53.8h3.005v53.8zM588.86 1479.0v-33.1h3.005v33.1zM591.84 1479.0v-37.4h3.005v37.4zM594.83 1479.0v-22.2h3.005v22.2zM597.81 1479.0v-20.2h3.005v20.2zM600.80 1479.0v-86.3h3.005v86.3zM603.78 1479.0v-88.3h3.005v88.3zM606.77 1479.0v-56.1h3.005v56.1zM609.75 1479.0v-39.4h3.005v39.4zM612.74 1479.0v-40.3h3.005v40.3zM615.73 1479.0v-84.2h3.005v84.2zM618.71 1479.0v-34.5h3.005v34.5zM621.69 1479.0v-94.9h3.005v94.9zM624.68 1479.0v-56.1h3.005v56.1zM627.66 1479.0v-36.6h3.005v36.6zM630.65 1479.0v-22.2h3.005v22.2zM633.63 1479.0v-50.9h3.005v50.9zM636.62 1479.0v-101.2h3.005v101.2zM639.61 1479.0v-77.6h3.005v77.6zM642.59 1479.0v-57.5h3.005v57.5zM645.58 1479.0v-35.1h3.005v35.1zM648.56 1479.0v-31.7h3.005v31.7zM651.54 1479.0v-54.7h3.005v54.7zM654.53 1479.0v-83.4h3.005v83.4zM657.51 1479.0v-81.9h3.005v81.9zM660.50 1479.0v-75.6h3.005v75.6zM663.49 1479.0v-140.8h3.005v140.8zM666.47 1479.0v-185.4h3.005v185.4zM669.46 1479.0v-433.0h3.005v433.0zM672.44 1479.0v-656.2h3.005v656.2zM675.42 1479.0v-464.0h3.005v464.0zM678.41 1479.0v-383.3h3.005v383.3zM681.39 1479.0v-381.0h3.005v381.0zM684.38 1479.0v-217.0h3.005v217.0zM687.37 1479.0v-183.1h3.005v183.1zM690.35 1479.0v-271.5h3.005v271.5zM693.34 1479.0v-311.8h3.005v311.8zM696.32 1479.0v-424.9h3.005v424.9zM699.30 1479.0v-194.0h3.005v194.0zM702.29 1479.0v-160.9h3.005v160.9zM705.27 1479.0v-222.7h3.005v222.7zM708.26 1479.0v-208.3h3.005v208.3zM711.25 1479.0v-120.7h3.005v120.7zM714.23 1479.0v-110.7h3.005v110.7zM717.22 1479.0v-80.5h3.005v80.5zM720.20 1479.0v-70.5h3.005v70.5zM723.18 1479.0v-91.5h3.005v91.5zM726.17 1479.0v-103.5h3.005v103.5zM729.15 1479.0v-96.3h3.005v96.3zM732.14 1479.0v-91.5h3.005v91.5zM735.12 1479.0v-34.5h3.005v34.5zM738.11 1479.0v-51.8h3.005v51.8zM741.10 1479.0v-435.0h3.005v435.0zM744.08 1479.0v-526.6h3.005v526.6zM747.06 1479.0v-245.7h3.005v245.7zM750.05 1479.0v-173.9h3.005v173.9zM753.03 1479.0v-85.4h3.005v85.4zM756.02 1479.0v-106.4h3.005v106.4zM759.00 1479.0v-115.0h3.005v115.0zM761.99 1479.0v-97.7h3.005v97.7zM764.98 1479.0v-86.3h3.005v86.3zM767.96 1479.0v-83.4h3.005v83.4zM770.94 1479.0v-79.1h3.005v79.1zM773.93 1479.0v-61.8h3.005v61.8zM776.91 1479.0v-122.2h3.005v122.2zM779.90 1479.0v-133.7h3.005v133.7zM782.88 1479.0v-127.9h3.005v127.9zM785.87 1479.0v-54.7h3.005v54.7zM788.86 1479.0v-63.3h3.005v63.3zM791.84 1479.0v-35.4h3.005v35.4zM794.83 1479.0v-70.5h3.005v70.5zM797.81 1479.0v-90.6h3.005v90.6zM800.79 1479.0v-134.2h3.005v134.2zM803.78 1479.0v-77.6h3.005v77.6zM806.76 1479.0v-81.4h3.005v81.4zM809.75 1479.0v-86.3h3.005v86.3zM812.74 1479.0v-140.8h3.005v140.8zM815.72 1479.0v-158.9h3.005v158.9zM818.71 1479.0v-158.9h3.005v158.9zM821.69 1479.0v-122.2h3.005v122.2zM824.67 1479.0v-110.1h3.005v110.1zM827.66 1479.0v-80.5h3.005v80.5zM830.64 1479.0v-90.6h3.005v90.6zM833.63 1479.0v-102.1h3.005v102.1zM836.62 1479.0v-76.5h3.005v76.5zM839.60 1479.0v-80.5h3.005v80.5zM842.59 1479.0v-35.4h3.005v35.4zM845.57 1479.0v-56.7h3.005v56.7zM848.55 1479.0v-81.9h3.005v81.9zM851.54 1479.0v-69.0h3.005v69.0zM854.52 1479.0v-68.2h3.005v68.2zM857.51 1479.0v-64.1h3.005v64.1zM860.50 1479.0v-38.3h3.005v38.3zM863.48 1479.0v-36.0h3.005v36.0zM866.47 1479.0v-89.1h3.005v89.1zM869.45 1479.0v-204.0h3.005v204.0zM872.43 1479.0v-94.0h3.005v94.0zM875.42 1479.0v-76.2h3.005v76.2zM878.40 1479.0v-32.5h3.005v32.5zM881.39 1479.0v-41.7h3.005v41.7zM884.38 1479.0v-46.9h3.005v46.9zM887.36 1479.0v-75.6h3.005v75.6zM890.35 1479.0v-64.7h3.005v64.7zM893.33 1479.0v-43.2h3.005v43.2zM896.31 1479.0v-25.9h3.005v25.9zM899.30 1479.0v-46.0h3.005v46.0zM902.28 1479.0v-36.0h3.005v36.0zM905.27 1479.0v-66.1h3.005v66.1zM908.25 1479.0v-86.3h3.005v86.3zM911.24 1479.0v-66.1h3.005v66.1zM914.23 1479.0v-36.0h3.005v36.0zM917.21 1479.0v-53.8h3.005v53.8zM920.19 1479.0v-82.5h3.005v82.5zM923.18 1479.0v-67.6h3.005v67.6zM926.16 1479.0v-88.3h3.005v88.3zM929.15 1479.0v-64.7h3.005v64.7zM932.13 1479.0v-30.2h3.005v30.2zM935.12 1479.0v-36.0h3.005v36.0zM938.11 1479.0v-51.8h3.005v51.8zM941.09 1479.0v-56.1h3.005v56.1zM944.07 1479.0v-67.0h3.005v67.0zM947.06 1479.0v-76.2h3.005v76.2zM950.04 1479.0v-39.4h3.005v39.4zM953.03 1479.0v-23.1h3.005v23.1zM956.01 1479.0v-45.2h3.005v45.2zM959.00 1479.0v-117.0h3.005v117.0zM961.99 1479.0v-84.8h3.005v84.8zM964.97 1479.0v-57.5h3.005v57.5zM967.95 1479.0v-80.6h3.005v80.6zM970.94 1479.0v-76.8h3.005v76.8zM973.92 1479.0v-72.4h3.005v72.4zM976.91 1479.0v-94.9h3.005v94.9zM979.89 1479.0v-72.9h3.005v72.9zM982.88 1479.0v-75.6h3.005v75.6zM985.87 1479.0v-89.1h3.005v89.1zM988.85 1479.0v-30.2h3.005v30.2zM991.84 1479.0v-50.9h3.005v50.9zM994.82 1479.0v-64.1h3.005v64.1zM997.80 1479.0v-63.3h3.005v63.3zM1000.79 1479.0v-63.3h3.005v63.3zM1003.77 1479.0v-43.2h3.005v43.2zM1006.76 1479.0v-17.3h3.005v17.3zM1009.75 1479.0v-29.7h3.005v29.7zM1012.73 1479.0v-22.2h3.005v22.2zM1015.72 1479.0v-48.0h3.005v48.0zM1018.70 1479.0v-38.3h3.005v38.3zM1021.68 1479.0v-38.3h3.005v38.3zM1024.67 1479.0v-36.0h3.005v36.0zM1027.65 1479.0v-40.3h3.005v40.3zM1030.64 1479.0v-36.6h3.005v36.6zM1033.62 1479.0v-65.3h3.005v65.3zM1036.61 1479.0v-84.2h3.005v84.2zM1039.60 1479.0v-73.9h3.005v73.9zM1042.58 1479.0v-56.7h3.005v56.7zM1045.56 1479.0v-38.3h3.005v38.3zM1048.55 1479.0v-50.3h3.005v50.3zM1051.53 1479.0v-57.5h3.005v57.5zM1054.52 1479.0v-99.2h3.005v99.2zM1057.50 1479.0v-87.7h3.005v87.7zM1060.49 1479.0v-56.1h3.005v56.1zM1063.47 1479.0v-63.3h3.005v63.3zM1066.46 1479.0v-79.1h3.005v79.1zM1069.44 1479.0v-113.5h3.005v113.5zM1072.43 1479.0v-96.3h3.005v96.3zM1075.41 1479.0v-45.2h3.005v45.2zM1078.40 1479.0v-38.9h3.005v38.9zM1081.38 1479.0v-33.7h3.005v33.7zM1084.37 1479.0v-27.9h3.005v27.9zM1087.36 1479.0v-36.0h3.005v36.0zM1090.34 1479.0v-36.6h3.005v36.6zM1093.32 1479.0v-82.5h3.005v82.5zM1096.31 1479.0v-46.0h3.005v46.0zM1099.29 1479.0v-30.2h3.005v30.2zM1102.28 1479.0v-68.2h3.005v68.2zM1105.26 1479.0v-81.9h3.005v81.9zM1108.25 1479.0v-75.6h3.005v75.6zM1111.23 1479.0v-37.4h3.005v37.4zM1114.22 1479.0v-43.2h3.005v43.2zM1117.20 1479.0v-64.1h3.005v64.1zM1120.19 1479.0v-78.5h3.005v78.5zM1123.17 1479.0v-58.4h3.005v58.4zM1126.16 1479.0v-178.2h3.005v178.2zM1129.14 1479.0v-69.0h3.005v69.0zM1132.13 1479.0v-54.7h3.005v54.7zM1135.12 1479.0v-73.3h3.005v73.3zM1138.10 1479.0v-59.0h3.005v59.0zM1141.08 1479.0v-77.6h3.005v77.6zM1144.07 1479.0v-84.8h3.005v84.8zM1147.06 1479.0v-61.3h3.005v61.3zM1150.04 1479.0v-69.0h3.005v69.0zM1153.02 1479.0v-27.9h3.005v27.9zM1156.01 1479.0v-33.7h3.005v33.7zM1158.99 1479.0v-84.8h3.005v84.8zM1161.98 1479.0v-58.4h3.005v58.4zM1164.96 1479.0v-102.1h3.005v102.1zM1167.95 1479.0v-48.0h3.005v48.0zM1170.93 1479.0v-43.2h3.005v43.2zM1173.92 1479.0v-60.4h3.005v60.4zM1176.90 1479.0v-84.8h3.005v84.8zM1179.89 1479.0v-53.2h3.005v53.2zM1182.88 1479.0v-86.3h3.005v86.3zM1185.86 1479.0v-59.0h3.005v59.0zM1188.85 1479.0v-110.1h3.005v110.1zM1191.83 1479.0v-50.9h3.005v50.9zM1194.82 1479.0v-69.0h3.005v69.0zM1197.80 1479.0v-74.8h3.005v74.8zM1200.79 1479.0v-74.8h3.005v74.8zM1203.77 1479.0v-50.9h3.005v50.9zM1206.75 1479.0v-61.8h3.005v61.8zM1209.74 1479.0v-62.4h3.005v62.4zM1212.72 1479.0v-95.7h3.005v95.7zM1215.71 1479.0v-135.1h3.005v135.1zM1218.69 1479.0v-79.6h3.005v79.6zM1221.68 1479.0v-104.9h3.005v104.9zM1224.66 1479.0v-88.3h3.005v88.3zM1227.65 1479.0v-77.6h3.005v77.6zM1230.63 1479.0v-100.6h3.005v100.6zM1233.62 1479.0v-146.6h3.005v146.6zM1236.61 1479.0v-80.5h3.005v80.5zM1239.59 1479.0v-73.9h3.005v73.9zM1242.58 1479.0v-44.0h3.005v44.0zM1245.56 1479.0v-41.7h3.005v41.7zM1248.55 1479.0v-73.9h3.005v73.9zM1251.53 1479.0v-48.4h3.005v48.4zM1254.51 1479.0v-136.5h3.005v136.5zM1257.50 1479.0v-64.7h3.005v64.7zM1260.48 1479.0v-50.9h3.005v50.9zM1263.47 1479.0v-62.8h3.005v62.8zM1266.45 1479.0v-62.4h3.005v62.4zM1269.44 1479.0v-76.8h3.005v76.8zM1272.42 1479.0v-66.1h3.005v66.1zM1275.41 1479.0v-61.8h3.005v61.8zM1278.39 1479.0v-36.6h3.005v36.6zM1281.38 1479.0v-29.7h3.005v29.7zM1284.37 1479.0v-44.0h3.005v44.0zM1287.35 1479.0v-99.2h3.005v99.2zM1290.34 1479.0v-120.7h3.005v120.7zM1293.32 1479.0v-60.4h3.005v60.4zM1296.31 1479.0v-52.6h3.005v52.6zM1299.29 1479.0v-37.4h3.005v37.4zM1302.27 1479.0v-63.3h3.005v63.3zM1305.26 1479.0v-81.4h3.005v81.4zM1308.24 1479.0v-63.3h3.005v63.3zM1311.23 1479.0v-46.9h3.005v46.9zM1314.21 1479.0v-36.6h3.005v36.6zM1317.20 1479.0v-36.0h3.005v36.0zM1320.18 1479.0v-37.4h3.005v37.4zM1323.17 1479.0v-91.1h3.005v91.1zM1326.15 1479.0v-46.0h3.005v46.0zM1329.14 1479.0v-39.4h3.005v39.4zM1332.12 1479.0v-57.5h3.005v57.5zM1335.11 1479.0v-112.1h3.005v112.1zM1338.10 1479.0v-330.7h3.005v330.7zM1341.08 1479.0v-229.9h3.005v229.9zM1344.07 1479.0v-166.7h3.005v166.7zM1347.05 1479.0v-172.4h3.005v172.4zM1350.03 1479.0v-94.9h3.005v94.9zM1353.02 1479.0v-109.2h3.005v109.2zM1356.00 1479.0v-86.3h3.005v86.3zM1358.99 1479.0v-113.0h3.005v113.0zM1361.97 1479.0v-120.7h3.005v120.7zM1364.96 1479.0v-78.5h3.005v78.5zM1367.94 1479.0v-51.8h3.005v51.8zM1370.93 1479.0v-41.7h3.005v41.7zM1373.91 1479.0v-55.5h3.005v55.5zM1376.90 1479.0v-63.3h3.005v63.3zM1379.88 1479.0v-113.0h3.005v113.0zM1382.87 1479.0v-67.0h3.005v67.0zM1385.86 1479.0v-47.5h3.005v47.5zM1388.84 1479.0v-50.9h3.005v50.9zM1391.83 1479.0v-43.2h3.005v43.2zM1394.81 1479.0v-69.0h3.005v69.0zM1397.80 1479.0v-104.4h3.005v104.4zM1400.78 1479.0v-87.7h3.005v87.7zM1403.76 1479.0v-57.5h3.005v57.5zM1406.75 1479.0v-46.9h3.005v46.9zM1409.73 1479.0v-38.9h3.005v38.9zM1412.72 1479.0v-109.2h3.005v109.2zM1415.70 1479.0v-67.6h3.005v67.6zM1418.69 1479.0v-57.5h3.005v57.5zM1421.67 1479.0v-56.1h3.005v56.1zM1424.66 1479.0v-109.2h3.005v109.2zM1427.64 1479.0v-158.1h3.005v158.1zM1430.63 1479.0v-285.9h3.005v285.9zM1433.62 1479.0v-125.6h3.005v125.6zM1436.60 1479.0v-86.3h3.005v86.3zM1439.59 1479.0v-70.5h3.005v70.5zM1442.57 1479.0v-53.8h3.005v53.8zM1445.56 1479.0v-94.9h3.005v94.9zM1448.54 1479.0v-109.2h3.005v109.2zM1451.52 1479.0v-92.9h3.005v92.9zM1454.51 1479.0v-76.2h3.005v76.2zM1457.49 1479.0v-76.8h3.005v76.8zM1460.48 1479.0v-60.4h3.005v60.4zM1463.46 1479.0v-116.4h3.005v116.4zM1466.45 1479.0v-180.2h3.005v180.2zM1469.43 1479.0v-120.7h3.005v120.7zM1472.42 1479.0v-124.5h3.005v124.5zM1475.40 1479.0v-89.1h3.005v89.1zM1478.39 1479.0v-34.5h3.005v34.5zM1481.38 1479.0v-69.0h3.005v69.0zM1484.36 1479.0v-118.7h3.005v118.7zM1487.35 1479.0v-140.8h3.005v140.8zM1490.33 1479.0v-92.0h3.005v92.0zM1493.32 1479.0v-81.4h3.005v81.4zM1496.30 1479.0v-31.7h3.005v31.7zM1499.28 1479.0v-45.2h3.005v45.2zM1502.27 1479.0v-126.5h3.005v126.5zM1505.25 1479.0v-85.4h3.005v85.4zM1508.24 1479.0v-100.6h3.005v100.6zM1511.22 1479.0v-46.9h3.005v46.9zM1514.21 1479.0v-54.7h3.005v54.7zM1517.19 1479.0v-70.5h3.005v70.5zM1520.18 1479.0v-134.2h3.005v134.2zM1523.16 1479.0v-95.7h3.005v95.7zM1526.15 1479.0v-46.0h3.005v46.0zM1529.13 1479.0v-43.2h3.005v43.2zM1532.12 1479.0v-36.6h3.005v36.6zM1535.11 1479.0v-64.7h3.005v64.7zM1538.09 1479.0v-191.7h3.005v191.7zM1541.08 1479.0v-84.7h3.005v84.7zM1544.06 1479.0v-100.6h3.005v100.6zM1547.04 1479.0v-90.1h3.005v90.1zM1550.03 1479.0v-89.1h3.005v89.1zM1553.01 1479.0v-84.7h3.005v84.7zM1556.00 1479.0v-59.0h3.005v59.0zM1558.98 1479.0v-86.3h3.005v86.3zM1561.97 1479.0v-180.2h3.005v180.2zM1564.95 1479.0v-130.8h3.005v130.8zM1567.94 1479.0v-78.5h3.005v78.5zM1570.92 1479.0v-61.8h3.005v61.8zM1573.91 1479.0v-84.8h3.005v84.8zM1576.89 1479.0v-168.1h3.005v168.1zM1579.88 1479.0v-169.6h3.005v169.6zM1582.87 1479.0v-116.4h3.005v116.4zM1585.85 1479.0v-97.7h3.005v97.7zM1588.84 1479.0v-73.3h3.005v73.3zM1591.82 1479.0v-149.5h3.005v149.5zM1594.81 1479.0v-202.6h3.005v202.6zM1597.79 1479.0v-524.1h3.005v524.1zM1600.77 1479.0v-231.3h3.005v231.3zM1603.76 1479.0v-122.7h3.005v122.7zM1606.74 1479.0v-122.7h3.005v122.7zM1609.73 1479.0v-160.9h3.005v160.9zM1612.71 1479.0v-147.4h3.005v147.4zM1615.70 1479.0v-99.2h3.005v99.2zM1618.68 1479.0v-122.7h3.005v122.7zM1621.67 1479.0v-124.5h3.005v124.5zM1624.65 1479.0v-130.8h3.005v130.8zM1627.64 1479.0v-158.9h3.005v158.9zM1630.62 1479.0v-234.8h3.005v234.8zM1633.61 1479.0v-107.8h3.005v107.8zM1636.60 1479.0v-89.1h3.005v89.1zM1639.58 1479.0v-104.9h3.005v104.9zM1642.57 1479.0v-122.7h3.005v122.7zM1645.55 1479.0v-143.7h3.005v143.7zM1648.53 1479.0v-148.6h3.005v148.6zM1651.52 1479.0v-86.3h3.005v86.3zM1654.50 1479.0v-77.6h3.005v77.6zM1657.49 1479.0v-69.0h3.005v69.0zM1660.47 1479.0v-61.8h3.005v61.8zM1663.46 1479.0v-99.2h3.005v99.2zM1666.44 1479.0v-169.6h3.005v169.6zM1669.43 1479.0v-97.7h3.005v97.7zM1672.41 1479.0v-73.3h3.005v73.3zM1675.40 1479.0v-50.3h3.005v50.3zM1678.38 1479.0v-71.9h3.005v71.9zM1681.37 1479.0v-70.5h3.005v70.5zM1684.36 1479.0v-90.6h3.005v90.6zM1687.34 1479.0v-79.6h3.005v79.6zM1690.33 1479.0v-378.4h3.005v378.4zM1693.31 1479.0v-341.6h3.005v341.6zM1696.29 1479.0v-560.5h3.005v560.5zM1699.28 1479.0v-528.4h3.005v528.4zM1702.26 1479.0v-348.0h3.005v348.0zM1705.25 1479.0v-320.4h3.005v320.4zM1708.23 1479.0v-391.9h3.005v391.9zM1711.22 1479.0v-302.6h3.005v302.6zM1714.20 1479.0v-221.3h3.005v221.3zM1717.19 1479.0v-243.8h3.005v243.8zM1720.17 1479.0v-256.6h3.005v256.6zM1723.16 1479.0v-173.4h3.005v173.4zM1726.14 1479.0v-143.7h3.005v143.7zM1729.13 1479.0v-136.5h3.005v136.5zM1732.12 1479.0v-117.0h3.005v117.0zM1735.10 1479.0v-140.0h3.005v140.0zM1738.09 1479.0v-345.9h3.005v345.9zM1741.07 1479.0v-605.4h3.005v605.4zM1744.06 1479.0v-333.6h3.005v333.6zM1747.04 1479.0v-327.6h3.005v327.6zM1750.02 1479.0v-302.6h3.005v302.6zM1753.01 1479.0v-241.4h3.005v241.4zM1755.99 1479.0v-324.7h3.005v324.7zM1758.98 1479.0v-152.3h3.005v152.3zM1761.96 1479.0v-142.3h3.005v142.3zM1764.95 1479.0v-96.3h3.005v96.3zM1767.93 1479.0v-67.6h3.005v67.6zM1770.92 1479.0v-76.2h3.005v76.2zM1773.90 1479.0v-104.4h3.005v104.4zM1776.89 1479.0v-121.6h3.005v121.6zM1779.88 1479.0v-86.3h3.005v86.3zM1782.86 1479.0v-60.4h3.005v60.4zM1785.85 1479.0v-67.6h3.005v67.6zM1788.83 1479.0v-68.2h3.005v68.2zM1791.82 1479.0v-157.2h3.005v157.2zM1794.80 1479.0v-126.5h3.005v126.5zM1797.78 1479.0v-108.4h3.005v108.4zM1800.77 1479.0v-125.0h3.005v125.0zM1803.75 1479.0v-148.6h3.005v148.6zM1806.74 1479.0v-96.3h3.005v96.3zM1809.72 1479.0v-168.1h3.005v168.1zM1812.71 1479.0v-195.4h3.005v195.4zM1815.69 1479.0v-204.0h3.005v204.0zM1818.68 1479.0v-102.1h3.005v102.1zM1821.66 1479.0v-104.9h3.005v104.9zM1824.65 1479.0v-87.1h3.005v87.1zM1827.63 1479.0v-123.6h3.005v123.6zM1830.62 1479.0v-134.2h3.005v134.2zM1833.61 1479.0v-192.5h3.005v192.5zM1836.59 1479.0v-92.0h3.005v92.0zM1839.58 1479.0v-102.6h3.005v102.6zM1842.56 1479.0v-84.8h3.005v84.8zM1845.54 1479.0v-133.1h3.005v133.1zM1848.53 1479.0v-262.4h3.005v262.4zM1851.51 1479.0v-139.4h3.005v139.4zM1854.50 1479.0v-87.7h3.005v87.7zM1857.48 1479.0v-117.0h3.005v117.0zM1860.47 1479.0v-117.9h3.005v117.9zM1863.45 1479.0v-179.0h3.005v179.0zM1866.44 1479.0v-205.5h3.005v205.5zM1869.42 1479.0v-90.6h3.005v90.6zM1872.41 1479.0v-83.4h3.005v83.4zM1875.39 1479.0v-75.6h3.005v75.6zM1878.38 1479.0v-577.8h3.005v577.8zM1881.37 1479.0v-659.4h3.005v659.4zM1884.35 1479.0v-441.6h3.005v441.6zM1887.34 1479.0v-433.6h3.005v433.6zM1890.32 1479.0v-201.2h3.005v201.2zM1893.30 1479.0v-173.9h3.005v173.9zM1896.29 1479.0v-139.4h3.005v139.4zM1899.27 1479.0v-245.1h3.005v245.1zM1902.26 1479.0v-323.3h3.005v323.3zM1905.24 1479.0v-168.1h3.005v168.1zM1908.23 1479.0v-161.8h3.005v161.8zM1911.21 1479.0v-198.3h3.005v198.3zM1914.20 1479.0v-215.5h3.005v215.5zM1917.18 1479.0v-311.2h3.005v311.2zM1920.17 1479.0v-218.4h3.005v218.4zM1923.15 1479.0v-207.8h3.005v207.8zM1926.14 1479.0v-141.7h3.005v141.7zM1929.12 1479.0v-73.3h3.005v73.3zM1932.11 1479.0v-93.4h3.005v93.4zM1935.10 1479.0v-201.2h3.005v201.2zM1938.08 1479.0v-168.1h3.005v168.1zM1941.07 1479.0v-76.8h3.005v76.8zM1944.05 1479.0v-81.4h3.005v81.4zM1947.03 1479.0v-194.0h3.005v194.0zM1950.02 1479.0v-64.1h3.005v64.1zM1953.00 1479.0v-91.1h3.005v91.1zM1955.99 1479.0v-114.1h3.005v114.1zM1958.97 1479.0v-79.1h3.005v79.1zM1961.96 1479.0v-76.2h3.005v76.2zM1964.94 1479.0v-81.9h3.005v81.9zM1967.93 1479.0v-70.5h3.005v70.5zM1970.91 1479.0v-79.1h3.005v79.1zM1973.90 1479.0v-93.4h3.005v93.4zM1976.88 1479.0v-104.9h3.005v104.9zM1979.87 1479.0v-84.8h3.005v84.8zM1982.86 1479.0v-112.1h3.005v112.1zM1985.84 1479.0v-115.0h3.005v115.0zM1988.83 1479.0v-84.8h3.005v84.8zM1991.81 1479.0v-112.1h3.005v112.1zM1994.79 1479.0v-99.2h3.005v99.2zM1997.78 1479.0v-68.2h3.005v68.2zM2000.76 1479.0v-84.8h3.005v84.8zM2003.75 1479.0v-61.8h3.005v61.8zM2006.73 1479.0v-61.8h3.005v61.8zM2009.72 1479.0v-137.1h3.005v137.1zM2012.70 1479.0v-262.4h3.005v262.4zM2015.69 1479.0v-313.2h3.005v313.2zM2018.67 1479.0v-260.6h3.005v260.6zM2021.66 1479.0v-1065.9h3.005v1065.9zM2024.64 1479.0v-724.9h3.005v724.9zM2027.63 1479.0v-961.9h3.005v961.9zM2030.62 1479.0v-790.4h3.005v790.4zM2033.60 1479.0v-499.1h3.005v499.1zM2036.59 1479.0v-366.9h3.005v366.9zM2039.57 1479.0v-215.5h3.005v215.5zM2042.55 1479.0v-660.2h3.005v660.2zM2045.54 1479.0v-361.7h3.005v361.7zM2048.52 1479.0v-357.4h3.005v357.4zM2051.51 1479.0v-237.6h3.005v237.6zM2054.49 1479.0v-335.9h3.005v335.9zM2057.48 1479.0v-379.6h3.005v379.6zM2060.46 1479.0v-511.7h3.005v511.7zM2063.45 1479.0v-544.2h3.005v544.2zM2066.43 1479.0v-387.6h3.005v387.6zM2069.42 1479.0v-370.9h3.005v370.9zM2072.40 1479.0v-323.3h3.005v323.3zM2075.39 1479.0v-137.1h3.005v137.1zM2078.38 1479.0v-360.3h3.005v360.3zM2081.36 1479.0v-476.1h3.005v476.1zM2084.34 1479.0v-386.2h3.005v386.2zM2087.33 1479.0v-172.4h3.005v172.4zM2090.31 1479.0v-98.6h3.005v98.6zM2093.30 1479.0v-402.5h3.005v402.5zM2096.28 1479.0v-472.3h3.005v472.3zM2099.27 1479.0v-499.6h3.005v499.6zM2102.25 1479.0v-597.3h3.005v597.3zM2105.24 1479.0v-202.6h3.005v202.6zM2108.22 1479.0v-235.6h3.005v235.6zM2111.21 1479.0v-422.1h3.005v422.1zM2114.19 1479.0v-570.0h3.005v570.0zM2117.18 1479.0v-551.3h3.005v551.3zM2120.16 1479.0v-417.8h3.005v417.8zM2123.15 1479.0v-228.5h3.005v228.5zM2126.13 1479.0v-244.3h3.005v244.3zM2129.12 1479.0v-579.2h3.005v579.2zM2132.11 1479.0v-399.7h3.005v399.7zM2135.09 1479.0v-157.2h3.005v157.2zM2138.07 1479.0v-254.3h3.005v254.3zM2141.06 1479.0v-205.5h3.005v205.5zM2144.04 1479.0v-238.5h3.005v238.5zM2147.03 1479.0v-129.3h3.005v129.3zM2150.01 1479.0v-122.7h3.005v122.7zM2153.00 1479.0v-152.3h3.005v152.3zM2155.98 1479.0v-116.4h3.005v116.4zM2158.97 1479.0v-74.8h3.005v74.8zM2161.95 1479.0v-74.8h3.005v74.8zM2164.94 1479.0v-70.5h3.005v70.5zM2167.92 1479.0v-76.2h3.005v76.2zM2170.91 1479.0v-67.6h3.005v67.6zM2173.89 1479.0v-73.3h3.005v73.3zM2176.88 1479.0v-70.5h3.005v70.5zM2179.86 1479.0v-76.2h3.005v76.2zM2182.85 1479.0v-114.1h3.005v114.1zM2185.84 1479.0v-54.7h3.005v54.7zM2188.82 1479.0v-231.3h3.005v231.3zM2191.80 1479.0v-296.0h3.005v296.0zM2194.79 1479.0v-391.1h3.005v391.1zM2197.78 1479.0v-199.7h3.005v199.7zM2200.76 1479.0v-188.2h3.005v188.2zM2203.74 1479.0v-179.6h3.005v179.6zM2206.73 1479.0v-246.3h3.005v246.3zM2209.72 1479.0v-216.4h3.005v216.4zM2212.70 1479.0v-184.8h3.005v184.8zM2215.68 1479.0v-80.5h3.005v80.5zM2218.67 1479.0v-82.5h3.005v82.5zM2221.65 1479.0v-82.5h3.005v82.5zM2224.64 1479.0v-149.5h3.005v149.5zM2227.62 1479.0v-78.4h3.005v78.4zM2230.61 1479.0v-152.3h3.005v152.3zM2233.59 1479.0v-60.9h3.005v60.9zM2236.58 1479.0v-50.3h3.005v50.3zM2239.57 1479.0v-64.1h3.005v64.1zM2242.55 1479.0v-34.5h3.005v34.5zM2245.53 1479.0v-71.0h3.005v71.0zM2248.52 1479.0v-112.1h3.005v112.1zM2251.51 1479.0v-61.8h3.005v61.8zM2254.49 1479.0v-53.2h3.005v53.2zM2257.47 1479.0v-48.9h3.005v48.9zM2260.46 1479.0v-92.0h3.005v92.0zM2263.44 1479.0v-180.2h3.005v180.2zM2266.43 1479.0v-113.0h3.005v113.0zM2269.41 1479.0v-122.7h3.005v122.7zM2272.40 1479.0v-67.0h3.005v67.0zM2275.38 1479.0v-50.9h3.005v50.9zM2278.37 1479.0v-61.8h3.005v61.8zM2281.36 1479.0v-81.4h3.005v81.4zM2284.34 1479.0v-107.8h3.005v107.8zM2287.32 1479.0v-243.4h3.005v243.4zM2290.31 1479.0v-76.8h3.005v76.8zM2293.30 1479.0v-68.2h3.005v68.2zM2296.28 1479.0v-68.2h3.005v68.2zM2299.26 1479.0v-99.8h3.005v99.8zM2302.25 1479.0v-87.7h3.005v87.7zM2305.24 1479.0v-113.5h3.005v113.5zM2308.22 1479.0v-54.7h3.005v54.7zM2311.20 1479.0v-63.3h3.005v63.3zM2314.19 1479.0v-108.4h3.005v108.4zM2317.17 1479.0v-209.8h3.005v209.8zM2320.16 1479.0v-160.1h3.005v160.1zM2323.14 1479.0v-106.4h3.005v106.4zM2326.13 1479.0v-108.4h3.005v108.4zM2329.11 1479.0v-133.1h3.005v133.1zM2332.10 1479.0v-68.2h3.005v68.2zM2335.09 1479.0v-87.7h3.005v87.7zM2338.07 1479.0v-96.9h3.005v96.9zM2341.05 1479.0v-59.5h3.005v59.5zM2344.04 1479.0v-50.9h3.005v50.9zM2347.03 1479.0v-31.7h3.005v31.7zM2350.01 1479.0v-72.8h3.005v72.8zM2352.99 1479.0v-122.7h3.005v122.7zM2355.98 1479.0v-60.4h3.005v60.4zM2358.97 1479.0v-53.8h3.005v53.8zM2361.95 1479.0v-38.3h3.005v38.3zM2364.93 1479.0v-37.4h3.005v37.4zM2367.92 1479.0v-27.9h3.005v27.9zM2370.90 1479.0v-48.0h3.005v48.0zM2373.89 1479.0v-73.9h3.005v73.9zM2376.88 1479.0v-81.4h3.005v81.4zM2379.86 1479.0v-38.3h3.005v38.3zM2382.84 1479.0v-41.2h3.005v41.2zM2385.83 1479.0v-48.0h3.005v48.0zM2388.82 1479.0v-44.0h3.005v44.0zM2391.80 1479.0v-39.4h3.005v39.4zM2394.78 1479.0v-57.5h3.005v57.5zM2397.77 1479.0v-27.9h3.005v27.9zM2400.76 1479.0v-30.2h3.005v30.2zM2403.74 1479.0v-47.5h3.005v47.5zM2406.72 1479.0v-56.1h3.005v56.1zM2409.71 1479.0v-67.0h3.005v67.0zM2412.69 1479.0v-43.2h3.005v43.2zM2415.68 1479.0v-33.1h3.005v33.1zM2418.66 1479.0v-27.4h3.005v27.4zM2421.65 1479.0v-30.2h3.005v30.2zM2424.63 1479.0v-71.9h3.005v71.9zM2427.62 1479.0v-57.5h3.005v57.5zM2430.61 1479.0v-59.0h3.005v59.0zM2433.59 1479.0v-50.9h3.005v50.9zM2436.57 1479.0v-36.0h3.005v36.0zM2439.56 1479.0v-56.0h3.005v56.0zM2442.55 1479.0v-99.2h3.005v99.2zM2445.53 1479.0v-72.4h3.005v72.4zM2448.51 1479.0v-135.1h3.005v135.1zM2451.50 1479.0v-76.5h3.005v76.5zM2454.49 1479.0v-53.2h3.005v53.2zM2457.47 1479.0v-61.3h3.005v61.3zM2460.45 1479.0v-80.5h3.005v80.5zM2463.44 1479.0v-89.1h3.005v89.1zM2466.42 1479.0v-202.0h3.005v202.0zM2469.41 1479.0v-150.3h3.005v150.3zM2472.39 1479.0v-53.8h3.005v53.8zM2475.38 1479.0v-44.6h3.005v44.6zM2478.36 1479.0v-92.0h3.005v92.0zM2481.35 1479.0v-157.2h3.005v157.2zM2484.34 1479.0v-122.7h3.005v122.7zM2487.32 1479.0v-138.0h3.005v138.0zM2490.30 1479.0v-158.1h3.005v158.1zM2493.29 1479.0v-153.8h3.005v153.8zM2496.28 1479.0v-98.6h3.005v98.6zM2499.26 1479.0v-174.4h3.005v174.4zM2502.24 1479.0v-117.0h3.005v117.0zM2505.23 1479.0v-79.6h3.005v79.6zM2508.22 1479.0v-56.7h3.005v56.7zM2511.20 1479.0v-42.3h3.005v42.3zM2514.18 1479.0v-42.3h3.005v42.3zM2517.17 1479.0v-42.3h3.005v42.3zM2520.15 1479.0v-79.1h3.005v79.1zM2523.14 1479.0v-111.2h3.005v111.2zM2526.12 1479.0v-42.3h3.005v42.3zM2529.11 1479.0v-44.0h3.005v44.0zM2532.09 1479.0v-85.4h3.005v85.4zM2535.08 1479.0v-92.0h3.005v92.0zM2538.07 1479.0v-81.9h3.005v81.9zM2541.05 1479.0v-47.5h3.005v47.5zM2544.03 1479.0v-47.5h3.005v47.5zM2547.02 1479.0v-70.5h3.005v70.5zM2550.01 1479.0v-33.1h3.005v33.1zM2552.99 1479.0v-44.6h3.005v44.6zM2555.97 1479.0v-53.2h3.005v53.2zM2558.96 1479.0v-46.0h3.005v46.0zM2561.94 1479.0v-43.2h3.005v43.2zM2564.93 1479.0v-42.3h3.005v42.3zM2567.91 1479.0v-59.0h3.005v59.0zM2570.90 1479.0v-93.4h3.005v93.4zM2573.88 1479.0v-48.1h3.005v48.1zM2576.87 1479.0v-84.8h3.005v84.8zM2579.86 1479.0v-24.5h3.005v24.5zM2582.84 1479.0v-38.9h3.005v38.9zM2585.82 1479.0v-86.3h3.005v86.3zM2588.81 1479.0v-130.8h3.005v130.8zM2591.80 1479.0v-145.7h3.005v145.7zM2594.78 1479.0v-74.8h3.005v74.8zM2597.76 1479.0v-89.1h3.005v89.1zM2600.75 1479.0v-80.5h3.005v80.5zM2603.74 1479.0v-43.2h3.005v43.2zM2606.72 1479.0v-61.8h3.005v61.8zM2609.70 1479.0v-76.8h3.005v76.8zM2612.69 1479.0v-500.2h3.005v500.2zM2615.67 1479.0v-252.9h3.005v252.9zM2618.66 1479.0v-468.0h3.005v468.0zM2621.64 1479.0v-391.9h3.005v391.9zM2624.63 1479.0v-470.3h3.005v470.3zM2627.61 1479.0v-389.0h3.005v389.0zM2630.60 1479.0v-206.9h3.005v206.9zM2633.59 1479.0v-168.7h3.005v168.7zM2636.57 1479.0v-311.8h3.005v311.8zM2639.55 1479.0v-239.9h3.005v239.9zM2642.54 1479.0v-234.2h3.005v234.2zM2645.53 1479.0v-311.8h3.005v311.8zM2648.51 1479.0v-231.3h3.005v231.3zM2651.49 1479.0v-179.6h3.005v179.6zM2654.48 1479.0v-125.6h3.005v125.6zM2657.46 1479.0v-137.1h3.005v137.1zM2660.45 1479.0v-129.3h3.005v129.3zM2663.43 1479.0v-348.8h3.005v348.8zM2666.42 1479.0v-216.4h3.005v216.4zM2669.40 1479.0v-127.3h3.005v127.3zM2672.39 1479.0v-100.6h3.005v100.6zM2675.38 1479.0v-152.3h3.005v152.3zM2678.36 1479.0v-171.0h3.005v171.0zM2681.34 1479.0v-122.2h3.005v122.2zM2684.33 1479.0v-99.2h3.005v99.2zM2687.32 1479.0v-110.7h3.005v110.7zM2690.30 1479.0v-93.4h3.005v93.4zM2693.28 1479.0v-108.4h3.005v108.4zM2696.27 1479.0v-318.9h3.005v318.9zM2699.26 1479.0v-350.8h3.005v350.8zM2702.24 1479.0v-198.3h3.005v198.3zM2705.22 1479.0v-134.2h3.005v134.2zM2708.21 1479.0v-126.5h3.005v126.5zM2711.19 1479.0v-105.5h3.005v105.5zM2714.18 1479.0v-142.3h3.005v142.3zM2717.16 1479.0v-124.5h3.005v124.5zM2720.15 1479.0v-124.5h3.005v124.5zM2723.13 1479.0v-83.4h3.005v83.4zM2726.12 1479.0v-79.1h3.005v79.1zM2729.11 1479.0v-64.7h3.005v64.7zM2732.09 1479.0v-127.3h3.005v127.3zM2735.07 1479.0v-128.5h3.005v128.5zM2738.06 1479.0v-122.2h3.005v122.2zM2741.05 1479.0v-48.9h3.005v48.9zM2744.03 1479.0v-99.8h3.005v99.8zM2747.01 1479.0v-76.8h3.005v76.8zM2750.00 1479.0v-99.8h3.005v99.8zM2752.99 1479.0v-91.1h3.005v91.1zM2755.97 1479.0v-115.0h3.005v115.0zM2758.95 1479.0v-44.6h3.005v44.6zM2761.94 1479.0v-76.8h3.005v76.8zM2764.92 1479.0v-122.7h3.005v122.7zM2767.91 1479.0v-115.0h3.005v115.0zM2770.89 1479.0v-214.7h3.005v214.7zM2773.88 1479.0v-195.4h3.005v195.4zM2776.86 1479.0v-60.4h3.005v60.4zM2779.85 1479.0v-69.9h3.005v69.9zM2782.84 1479.0v-133.1h3.005v133.1zM2785.82 1479.0v-155.2h3.005v155.2zM2788.80 1479.0v-107.2h3.005v107.2zM2791.79 1479.0v-100.6h3.005v100.6zM2794.78 1479.0v-84.8h3.005v84.8zM2797.76 1479.0v-112.1h3.005v112.1zM2800.74 1479.0v-83.4h3.005v83.4zM2803.73 1479.0v-93.4h3.005v93.4zM2806.71 1479.0v-109.2h3.005v109.2zM2809.70 1479.0v-53.2h3.005v53.2zM2812.68 1479.0v-70.5h3.005v70.5zM2815.67 1479.0v-67.6h3.005v67.6zM2818.65 1479.0v-94.9h3.005v94.9zM2821.64 1479.0v-73.9h3.005v73.9zM2824.62 1479.0v-195.4h3.005v195.4zM2827.61 1479.0v-175.3h3.005v175.3zM2830.59 1479.0v-71.0h3.005v71.0zM2833.58 1479.0v-60.4h3.005v60.4zM2836.57 1479.0v-77.6h3.005v77.6zM2839.55 1479.0v-79.1h3.005v79.1zM2842.53 1479.0v-148.6h3.005v148.6zM2845.52 1479.0v-84.8h3.005v84.8zM2848.51 1479.0v-76.2h3.005v76.2zM2851.49 1479.0v-81.9h3.005v81.9zM2854.47 1479.0v-73.3h3.005v73.3zM2857.46 1479.0v-79.1h3.005v79.1zM2860.44 1479.0v-88.3h3.005v88.3zM2863.43 1479.0v-86.3h3.005v86.3zM2866.41 1479.0v-56.1h3.005v56.1zM2869.40 1479.0v-59.0h3.005v59.0zM2872.38 1479.0v-112.1h3.005v112.1zM2875.37 1479.0v-137.1h3.005v137.1zM2878.36 1479.0v-171.0h3.005v171.0zM2881.34 1479.0v-126.5h3.005v126.5zM2884.32 1479.0v-314.1h3.005v314.1zM2887.31 1479.0v-284.5h3.005v284.5zM2890.30 1479.0v-274.4h3.005v274.4zM2893.28 1479.0v-419.8h3.005v419.8zM2896.26 1479.0v-369.8h3.005v369.8zM2899.25 1479.0v-594.4h3.005v594.4zM2902.24 1479.0v-422.1h3.005v422.1zM2905.22 1479.0v-387.6h3.005v387.6zM2908.20 1479.0v-410.6h3.005v410.6zM2911.19 1479.0v-480.4h3.005v480.4zM2914.17 1479.0v-455.1h3.005v455.1zM2917.16 1479.0v-369.8h3.005v369.8zM2920.14 1479.0v-290.2h3.005v290.2zM2923.13 1479.0v-254.9h3.005v254.9zM2926.11 1479.0v-330.7h3.005v330.7zM2929.10 1479.0v-295.1h3.005v295.1zM2932.09 1479.0v-281.6h3.005v281.6zM2935.07 1479.0v-205.5h3.005v205.5zM2938.05 1479.0v-160.9h3.005v160.9zM2941.04 1479.0v-108.4h3.005v108.4zM2944.03 1479.0v-176.7h3.005v176.7zM2947.01 1479.0v-338.8h3.005v338.8zM2949.99 1479.0v-267.2h3.005v267.2zM2952.98 1479.0v-212.7h3.005v212.7zM2955.96 1479.0v-126.5h3.005v126.5zM2958.95 1479.0v-70.5h3.005v70.5zM2961.93 1479.0v-76.2h3.005v76.2zM2964.92 1479.0v-87.7h3.005v87.7zM2967.90 1479.0v-99.2h3.005v99.2zM2970.89 1479.0v-127.9h3.005v127.9zM2973.88 1479.0v-141.7h3.005v141.7zM2976.86 1479.0v-93.4h3.005v93.4zM2979.84 1479.0v-96.3h3.005v96.3zM2982.83 1479.0v-104.9h3.005v104.9zM2985.82 1479.0v-152.3h3.005v152.3zM2988.80 1479.0v-157.2h3.005v157.2zM2991.78 1479.0v-112.1h3.005v112.1zM2994.77 1479.0v-80.5h3.005v80.5zM2997.76 1479.0v-92.0h3.005v92.0zM3000.74 1479.0v-126.5h3.005v126.5zM3003.72 1479.0v-187.7h3.005v187.7zM3006.71 1479.0v-91.1h3.005v91.1zM3009.69 1479.0v-87.1h3.005v87.1zM3012.68 1479.0v-59.0h3.005v59.0zM3015.66 1479.0v-48.0h3.005v48.0zM3018.65 1479.0v-60.4h3.005v60.4zM3021.63 1479.0v-126.5h3.005v126.5zM3024.62 1479.0v-98.6h3.005v98.6zM3027.61 1479.0v-100.6h3.005v100.6zM3030.59 1479.0v-71.9h3.005v71.9zM3033.57 1479.0v-71.9h3.005v71.9zM3036.56 1479.0v-70.5h3.005v70.5zM3039.55 1479.0v-72.8h3.005v72.8zM3042.53 1479.0v-103.5h3.005v103.5zM3045.51 1479.0v-92.9h3.005v92.9zM3048.50 1479.0v-44.6h3.005v44.6zM3051.48 1479.0v-33.7h3.005v33.7zM3054.47 1479.0v-88.3h3.005v88.3zM3057.45 1479.0v-81.9h3.005v81.9zM3060.44 1479.0v-80.8h3.005v80.8zM3063.42 1479.0v-72.2h3.005v72.2zM3066.41 1479.0v-61.6h3.005v61.6zM3069.39 1479.0v-91.4h3.005v91.4zM3072.38 1479.0v-63.6h3.005v63.6zM3075.36 1479.0v-118.1h3.005v118.1zM3078.35 1479.0v-116.7h3.005v116.7zM3081.34 1479.0v-75.1h3.005v75.1zM3084.32 1479.0v-30.6h3.005v30.6zM3087.30 1479.0v-73.0h3.005v73.0zM3090.29 1479.0v-65.0h3.005v65.0zM3093.28 1479.0v-76.5h3.005v76.5zM3096.26 1479.0v-47.8h3.005v47.8zM3099.24 1479.0v-94.3h3.005v94.3zM3102.23 1479.0v-37.8h3.005v37.8zM3105.21 1479.0v-65.0h3.005v65.0zM3108.20 1479.0v-38.6h3.005v38.6zM3111.18 1479.0v-55.0h3.005v55.0zM3114.17 1479.0v-67.3h3.005v67.3zM3117.15 1479.0v-100.9h3.005v100.9zM3120.14 1479.0v-109.5h3.005v109.5zM3123.12 1479.0v-39.8h3.005v39.8zM3126.11 1479.0v-56.4h3.005v56.4zM3129.09 1479.0v-139.6h3.005v139.6zM3132.08 1479.0v-73.0h3.005v73.0zM3135.07 1479.0v-53.5h3.005v53.5zM3138.05 1479.0v-100.0h3.005v100.0zM3141.03 1479.0v-72.2h3.005v72.2zM3144.02 1479.0v-61.6h3.005v61.6zM3147.01 1479.0v-51.2h3.005v51.2zM3149.99 1479.0v-94.3h3.005v94.3zM3152.97 1479.0v-92.3h3.005v92.3zM3155.96 1479.0v-53.5h3.005v53.5zM3158.94 1479.0v-142.5h3.005v142.5zM3161.93 1479.0v-63.6h3.005v63.6zM3164.91 1479.0v-111.5h3.005v111.5zM3167.90 1479.0v-79.4h3.005v79.4zM3170.88 1479.0v-59.3h3.005v59.3zM3173.87 1479.0v-40.6h3.005v40.6zM3176.86 1479.0v-20.5h3.005v20.5zM3179.84 1479.0v-55.0h3.005v55.0zM3182.82 1479.0v-67.9h3.005v67.9zM3185.81 1479.0v-71.3h3.005v71.3zM3188.80 1479.0v-55.8h3.005v55.8zM3191.78 1479.0v-33.4h3.005v33.4zM3194.76 1479.0v-42.1h3.005v42.1zM3197.75 1479.0v-115.2h3.005v115.2zM3200.73 1479.0v-59.3h3.005v59.3zM3203.72 1479.0v-118.1h3.005v118.1zM3206.70 1479.0v-102.3h3.005v102.3zM3209.69 1479.0v-45.5h3.005v45.5zM3212.67 1479.0v-86.5h3.005v86.5zM3215.66 1479.0v-139.6h3.005v139.6zM3218.64 1479.0v-57.8h3.005v57.8zM3221.63 1479.0v-49.2h3.005v49.2zM3224.61 1479.0v-53.5h3.005v53.5zM3227.60 1479.0v-13.4h3.005v13.4zM3230.59 1479.0v-77.9h3.005v77.9zM3233.57 1479.0v-28.3h3.005v28.3zM3236.55 1479.0v-53.5h3.005v53.5zM3239.54 1479.0v-56.4h3.005v56.4zM3242.53 1479.0v-67.3h3.005v67.3zM3245.51 1479.0v-37.8h3.005v37.8zM3248.49 1479.0v-22.0h3.005v22.0zM3251.48 1479.0v-28.3h3.005v28.3zM3254.46 1479.0v-76.5h3.005v76.5zM3257.45 1479.0v-47.2h3.005v47.2zM3260.43 1479.0v-57.8h3.005v57.8zM3263.42 1479.0v-42.6h3.005v42.6zM3266.40 1479.0v-45.5h3.005v45.5zM3269.39 1479.0v-27.7h3.005v27.7zM3272.38 1479.0v-37.8h3.005v37.8zM3275.36 1479.0v-49.2h3.005v49.2zM3278.34 1479.0v-70.8h3.005v70.8zM3281.33 1479.0v-42.6h3.005v42.6zM3284.32 1479.0v-34.0h3.005v34.0zM3287.30 1479.0v-39.2h3.005v39.2zM3290.28 1479.0v-116.1h3.005v116.1zM3293.27 1479.0v-183.2h3.005v183.2zM3296.26 1479.0v-212.8h3.005v212.8zM3299.24 1479.0v-103.7h3.005v103.7zM3302.22 1479.0v-133.3h3.005v133.3zM3305.21 1479.0v-55.0h3.005v55.0zM3308.19 1479.0v-42.6h3.005v42.6zM3311.18 1479.0v-89.4h3.005v89.4zM3314.16 1479.0v-109.5h3.005v109.5zM3317.15 1479.0v-128.1h3.005v128.1zM3320.13 1479.0v-126.7h3.005v126.7zM3323.12 1479.0v-124.7h3.005v124.7zM3326.11 1479.0v-110.3h3.005v110.3zM3329.09 1479.0v-126.7h3.005v126.7zM3332.07 1479.0v-93.7h3.005v93.7zM3335.06 1479.0v-152.5h3.005v152.5zM3338.05 1479.0v-227.1h3.005v227.1zM3341.03 1479.0v-95.1h3.005v95.1zM3344.01 1479.0v-67.9h3.005v67.9zM3347.00 1479.0v-64.4h3.005v64.4zM3349.98 1479.0v-26.3h3.005v26.3zM3352.97 1479.0v-33.4h3.005v33.4zM3355.95 1479.0v-62.1h3.005v62.1zM3358.94 1479.0v-57.8h3.005v57.8zM3361.92 1479.0v-65.0h3.005v65.0zM3364.91 1479.0v-42.1h3.005v42.1zM3367.89 1479.0v-29.1h3.005v29.1zM3370.88 1479.0v-19.7h3.005v19.7zM3373.86 1479.0v-30.6h3.005v30.6zM3376.85 1479.0v-49.2h3.005v49.2zM3379.84 1479.0v-48.4h3.005v48.4zM3382.82 1479.0v-119.5h3.005v119.5zM3385.80 1479.0v-98.0h3.005v98.0zM3388.79 1479.0v-74.2h3.005v74.2zM3391.78 1479.0v-51.2h3.005v51.2zM3394.76 1479.0v-39.2h3.005v39.2zM3397.74 1479.0v-36.3h3.005v36.3zM3400.73 1479.0v-42.1h3.005v42.1zM3403.71 1479.0v-33.4h3.005v33.4zM3406.70 1479.0v-39.2h3.005v39.2zM3409.68 1479.0v-40.0h3.005v40.0zM3412.67 1479.0v-42.1h3.005v42.1zM3415.65 1479.0v-79.4h3.005v79.4zM3418.64 1479.0v-191.8h3.005v191.8zM3421.62 1479.0v-194.1h3.005v194.1zM3424.61 1479.0v-270.2h3.005v270.2zM3427.59 1479.0v-225.1h3.005v225.1zM3430.58 1479.0v-244.4h3.005v244.4zM3433.57 1479.0v-185.5h3.005v185.5zM3436.55 1479.0v-139.6h3.005v139.6zM3439.53 1479.0v-115.2h3.005v115.2zM3442.52 1479.0v-125.3h3.005v125.3zM3445.50 1479.0v-67.3h3.005v67.3zM3448.49 1479.0v-4.8h3.005v4.8z" fill="#2f88a6"/>
<path d="M117.72 1479.0v-74.8h2.0v74.8zM120.71 1479.0v-70.6h2.0v70.6zM123.69 1479.0v-59.0h2.0v59.0zM126.68 1479.0v-73.9h2.0v73.9zM129.66 1479.0v-77.6h2.0v77.6zM132.65 1479.0v-102.1h2.0v102.1zM135.63 1479.0v-61.8h2.0v61.8zM138.62 1479.0v-40.3h2.0v40.3zM141.60 1479.0v-46.0h2.0v46.0zM144.59 1479.0v-41.7h2.0v41.7zM147.57 1479.0v-126.5h2.0v126.5zM150.56 1479.0v-180.2h2.0v180.2zM153.54 1479.0v-103.5h2.0v103.5zM156.53 1479.0v-89.1h2.0v89.1zM159.51 1479.0v-74.8h2.0v74.8zM162.50 1479.0v-84.8h2.0v84.8zM165.48 1479.0v-135.1h2.0v135.1zM168.47 1479.0v-153.2h2.0v153.2zM171.45 1479.0v-102.1h2.0v102.1zM174.44 1479.0v-70.5h2.0v70.5zM177.42 1479.0v-54.7h2.0v54.7zM180.41 1479.0v-79.1h2.0v79.1zM183.39 1479.0v-214.7h2.0v214.7zM186.38 1479.0v-222.7h2.0v222.7zM189.36 1479.0v-106.4h2.0v106.4zM192.35 1479.0v-96.3h2.0v96.3zM195.33 1479.0v-83.4h2.0v83.4zM198.32 1479.0v-176.7h2.0v176.7zM201.30 1479.0v-150.9h2.0v150.9zM204.29 1479.0v-104.9h2.0v104.9zM207.27 1479.0v-77.6h2.0v77.6zM210.26 1479.0v-94.9h2.0v94.9zM213.24 1479.0v-106.4h2.0v106.4zM216.23 1479.0v-131.4h2.0v131.4zM219.21 1479.0v-131.4h2.0v131.4zM222.20 1479.0v-153.8h2.0v153.8zM225.18 1479.0v-104.9h2.0v104.9zM228.17 1479.0v-76.8h2.0v76.8zM231.15 1479.0v-66.1h2.0v66.1zM234.14 1479.0v-51.8h2.0v51.8zM237.12 1479.0v-128.8h2.0v128.8zM240.11 1479.0v-69.0h2.0v69.0zM243.09 1479.0v-87.7h2.0v87.7zM246.08 1479.0v-46.0h2.0v46.0zM249.06 1479.0v-21.6h2.0v21.6zM252.05 1479.0v-54.7h2.0v54.7zM255.03 1479.0v-57.5h2.0v57.5zM258.02 1479.0v-64.7h2.0v64.7zM261.00 1479.0v-64.7h2.0v64.7zM263.99 1479.0v-50.3h2.0v50.3zM266.97 1479.0v-51.8h2.0v51.8zM269.96 1479.0v-39.4h2.0v39.4zM272.94 1479.0v-94.0h2.0v94.0zM275.93 1479.0v-67.6h2.0v67.6zM278.91 1479.0v-36.6h2.0v36.6zM281.90 1479.0v-38.9h2.0v38.9zM284.88 1479.0v-47.5h2.0v47.5zM287.87 1479.0v-57.5h2.0v57.5zM290.85 1479.0v-116.4h2.0v116.4zM293.84 1479.0v-56.1h2.0v56.1zM296.82 1479.0v-81.9h2.0v81.9zM299.81 1479.0v-71.0h2.0v71.0zM302.79 1479.0v-74.8h2.0v74.8zM305.78 1479.0v-74.4h2.0v74.4zM308.76 1479.0v-43.2h2.0v43.2zM311.75 1479.0v-104.9h2.0v104.9zM314.73 1479.0v-50.6h2.0v50.6zM317.72 1479.0v-57.5h2.0v57.5zM320.70 1479.0v-41.7h2.0v41.7zM323.69 1479.0v-53.2h2.0v53.2zM326.67 1479.0v-44.6h2.0v44.6zM329.66 1479.0v-67.6h2.0v67.6zM332.64 1479.0v-87.1h2.0v87.1zM335.63 1479.0v-47.5h2.0v47.5zM338.61 1479.0v-80.5h2.0v80.5zM341.60 1479.0v-61.3h2.0v61.3zM344.58 1479.0v-64.7h2.0v64.7zM347.57 1479.0v-76.2h2.0v76.2zM350.55 1479.0v-86.3h2.0v86.3zM353.54 1479.0v-61.8h2.0v61.8zM356.52 1479.0v-73.9h2.0v73.9zM359.51 1479.0v-60.4h2.0v60.4zM362.49 1479.0v-80.5h2.0v80.5zM365.48 1479.0v-81.9h2.0v81.9zM368.46 1479.0v-86.3h2.0v86.3zM371.45 1479.0v-67.6h2.0v67.6zM374.43 1479.0v-53.2h2.0v53.2zM377.42 1479.0v-50.9h2.0v50.9zM380.40 1479.0v-51.8h2.0v51.8zM383.39 1479.0v-61.8h2.0v61.8zM386.37 1479.0v-99.2h2.0v99.2zM389.36 1479.0v-64.7h2.0v64.7zM392.34 1479.0v-50.9h2.0v50.9zM395.33 1479.0v-51.8h2.0v51.8zM398.31 1479.0v-60.4h2.0v60.4zM401.30 1479.0v-61.8h2.0v61.8zM404.28 1479.0v-61.3h2.0v61.3zM407.27 1479.0v-40.9h2.0v40.9zM410.25 1479.0v-43.2h2.0v43.2zM413.24 1479.0v-45.2h2.0v45.2zM416.22 1479.0v-41.7h2.0v41.7zM419.21 1479.0v-119.3h2.0v119.3zM422.19 1479.0v-60.4h2.0v60.4zM425.18 1479.0v-78.5h2.0v78.5zM428.16 1479.0v-63.3h2.0v63.3zM431.15 1479.0v-96.9h2.0v96.9zM434.13 1479.0v-195.4h2.0v195.4zM437.12 1479.0v-653.0h2.0v653.0zM440.10 1479.0v-920.5h2.0v920.5zM443.09 1479.0v-445.1h2.0v445.1zM446.07 1479.0v-290.8h2.0v290.8zM449.06 1479.0v-283.6h2.0v283.6zM452.04 1479.0v-350.5h2.0v350.5zM455.03 1479.0v-286.5h2.0v286.5zM458.01 1479.0v-199.7h2.0v199.7zM461.00 1479.0v-129.3h2.0v129.3zM463.98 1479.0v-128.5h2.0v128.5zM466.97 1479.0v-114.1h2.0v114.1zM469.95 1479.0v-79.1h2.0v79.1zM472.94 1479.0v-114.1h2.0v114.1zM475.92 1479.0v-106.4h2.0v106.4zM478.91 1479.0v-77.6h2.0v77.6zM481.89 1479.0v-79.1h2.0v79.1zM484.88 1479.0v-94.9h2.0v94.9zM487.86 1479.0v-102.1h2.0v102.1zM490.85 1479.0v-241.4h2.0v241.4zM493.83 1479.0v-139.4h2.0v139.4zM496.82 1479.0v-140.8h2.0v140.8zM499.80 1479.0v-112.1h2.0v112.1zM502.79 1479.0v-106.4h2.0v106.4zM505.77 1479.0v-100.6h2.0v100.6zM508.76 1479.0v-104.9h2.0v104.9zM511.74 1479.0v-87.7h2.0v87.7zM514.73 1479.0v-87.1h2.0v87.1zM517.71 1479.0v-82.8h2.0v82.8zM520.70 1479.0v-64.7h2.0v64.7zM523.68 1479.0v-61.8h2.0v61.8zM526.67 1479.0v-80.6h2.0v80.6zM529.65 1479.0v-84.8h2.0v84.8zM532.64 1479.0v-96.9h2.0v96.9zM535.62 1479.0v-87.7h2.0v87.7zM538.61 1479.0v-76.2h2.0v76.2zM541.59 1479.0v-100.6h2.0v100.6zM544.58 1479.0v-124.5h2.0v124.5zM547.56 1479.0v-190.5h2.0v190.5zM550.55 1479.0v-109.2h2.0v109.2zM553.53 1479.0v-69.0h2.0v69.0zM556.52 1479.0v-57.5h2.0v57.5zM559.50 1479.0v-40.9h2.0v40.9zM562.49 1479.0v-44.6h2.0v44.6zM565.47 1479.0v-85.4h2.0v85.4zM568.46 1479.0v-120.7h2.0v120.7zM571.44 1479.0v-112.1h2.0v112.1zM574.43 1479.0v-66.1h2.0v66.1zM577.41 1479.0v-50.3h2.0v50.3zM580.40 1479.0v-62.4h2.0v62.4zM583.38 1479.0v-71.3h2.0v71.3zM586.37 1479.0v-53.8h2.0v53.8zM589.35 1479.0v-33.1h2.0v33.1zM592.34 1479.0v-37.4h2.0v37.4zM595.32 1479.0v-22.2h2.0v22.2zM598.31 1479.0v-20.2h2.0v20.2zM601.29 1479.0v-86.3h2.0v86.3zM604.28 1479.0v-88.3h2.0v88.3zM607.26 1479.0v-56.1h2.0v56.1zM610.25 1479.0v-39.4h2.0v39.4zM613.23 1479.0v-40.3h2.0v40.3zM616.22 1479.0v-84.2h2.0v84.2zM619.20 1479.0v-34.5h2.0v34.5zM622.19 1479.0v-94.9h2.0v94.9zM625.17 1479.0v-56.1h2.0v56.1zM628.16 1479.0v-36.6h2.0v36.6zM631.14 1479.0v-22.2h2.0v22.2zM634.13 1479.0v-50.9h2.0v50.9zM637.11 1479.0v-101.2h2.0v101.2zM640.10 1479.0v-77.6h2.0v77.6zM643.08 1479.0v-57.5h2.0v57.5zM646.07 1479.0v-35.1h2.0v35.1zM649.05 1479.0v-31.7h2.0v31.7zM652.04 1479.0v-54.7h2.0v54.7zM655.02 1479.0v-83.4h2.0v83.4zM658.01 1479.0v-81.9h2.0v81.9zM660.99 1479.0v-75.6h2.0v75.6zM663.98 1479.0v-140.8h2.0v140.8zM666.96 1479.0v-185.4h2.0v185.4zM669.95 1479.0v-433.0h2.0v433.0zM672.93 1479.0v-656.2h2.0v656.2zM675.92 1479.0v-464.0h2.0v464.0zM678.90 1479.0v-383.3h2.0v383.3zM681.89 1479.0v-381.0h2.0v381.0zM684.87 1479.0v-217.0h2.0v217.0zM687.86 1479.0v-183.1h2.0v183.1zM690.84 1479.0v-271.5h2.0v271.5zM693.83 1479.0v-311.8h2.0v311.8zM696.81 1479.0v-424.9h2.0v424.9zM699.80 1479.0v-194.0h2.0v194.0zM702.78 1479.0v-160.9h2.0v160.9zM705.77 1479.0v-222.7h2.0v222.7zM708.75 1479.0v-208.3h2.0v208.3zM711.74 1479.0v-120.7h2.0v120.7zM714.72 1479.0v-110.7h2.0v110.7zM717.71 1479.0v-80.5h2.0v80.5zM720.69 1479.0v-70.5h2.0v70.5zM723.68 1479.0v-91.5h2.0v91.5zM726.66 1479.0v-103.5h2.0v103.5zM729.65 1479.0v-96.3h2.0v96.3zM732.63 1479.0v-91.5h2.0v91.5zM735.62 1479.0v-34.5h2.0v34.5zM738.60 1479.0v-51.8h2.0v51.8zM741.59 1479.0v-435.0h2.0v435.0zM744.57 1479.0v-526.6h2.0v526.6zM747.56 1479.0v-245.7h2.0v245.7zM750.54 1479.0v-173.9h2.0v173.9zM753.53 1479.0v-85.4h2.0v85.4zM756.51 1479.0v-106.4h2.0v106.4zM759.50 1479.0v-115.0h2.0v115.0zM762.48 1479.0v-97.7h2.0v97.7zM765.47 1479.0v-86.3h2.0v86.3zM768.45 1479.0v-83.4h2.0v83.4zM771.44 1479.0v-79.1h2.0v79.1zM774.42 1479.0v-61.8h2.0v61.8zM777.41 1479.0v-122.2h2.0v122.2zM780.39 1479.0v-133.7h2.0v133.7zM783.38 1479.0v-127.9h2.0v127.9zM786.36 1479.0v-54.7h2.0v54.7zM789.35 1479.0v-63.3h2.0v63.3zM792.33 1479.0v-35.4h2.0v35.4zM795.32 1479.0v-70.5h2.0v70.5zM798.30 1479.0v-90.6h2.0v90.6zM801.29 1479.0v-134.2h2.0v134.2zM804.27 1479.0v-77.6h2.0v77.6zM807.26 1479.0v-81.4h2.0v81.4zM810.24 1479.0v-86.3h2.0v86.3zM813.23 1479.0v-140.8h2.0v140.8zM816.21 1479.0v-158.9h2.0v158.9zM819.20 1479.0v-158.9h2.0v158.9zM822.18 1479.0v-122.2h2.0v122.2zM825.17 1479.0v-110.1h2.0v110.1zM828.15 1479.0v-80.5h2.0v80.5zM831.14 1479.0v-90.6h2.0v90.6zM834.12 1479.0v-102.1h2.0v102.1zM837.11 1479.0v-76.5h2.0v76.5zM840.09 1479.0v-80.5h2.0v80.5zM843.08 1479.0v-35.4h2.0v35.4zM846.06 1479.0v-56.7h2.0v56.7zM849.05 1479.0v-81.9h2.0v81.9zM852.03 1479.0v-69.0h2.0v69.0zM855.02 1479.0v-68.2h2.0v68.2zM858.00 1479.0v-64.1h2.0v64.1zM860.99 1479.0v-38.3h2.0v38.3zM863.97 1479.0v-36.0h2.0v36.0zM866.96 1479.0v-89.1h2.0v89.1zM869.94 1479.0v-204.0h2.0v204.0zM872.93 1479.0v-94.0h2.0v94.0zM875.91 1479.0v-76.2h2.0v76.2zM878.90 1479.0v-32.5h2.0v32.5zM881.88 1479.0v-41.7h2.0v41.7zM884.87 1479.0v-46.9h2.0v46.9zM887.85 1479.0v-75.6h2.0v75.6zM890.84 1479.0v-64.7h2.0v64.7zM893.82 1479.0v-43.2h2.0v43.2zM896.81 1479.0v-25.9h2.0v25.9zM899.79 1479.0v-46.0h2.0v46.0zM902.78 1479.0v-36.0h2.0v36.0zM905.76 1479.0v-66.1h2.0v66.1zM908.75 1479.0v-86.3h2.0v86.3zM911.73 1479.0v-66.1h2.0v66.1zM914.72 1479.0v-36.0h2.0v36.0zM917.70 1479.0v-53.8h2.0v53.8zM920.69 1479.0v-82.5h2.0v82.5zM923.67 1479.0v-67.6h2.0v67.6zM926.66 1479.0v-88.3h2.0v88.3zM929.64 1479.0v-64.7h2.0v64.7zM932.63 1479.0v-30.2h2.0v30.2zM935.61 1479.0v-36.0h2.0v36.0zM938.60 1479.0v-51.8h2.0v51.8zM941.58 1479.0v-56.1h2.0v56.1zM944.57 1479.0v-67.0h2.0v67.0zM947.55 1479.0v-76.2h2.0v76.2zM950.54 1479.0v-39.4h2.0v39.4zM953.52 1479.0v-23.1h2.0v23.1zM956.51 1479.0v-45.2h2.0v45.2zM959.49 1479.0v-117.0h2.0v117.0zM962.48 1479.0v-84.8h2.0v84.8zM965.46 1479.0v-57.5h2.0v57.5zM968.45 1479.0v-80.6h2.0v80.6zM971.43 1479.0v-76.8h2.0v76.8zM974.42 1479.0v-72.4h2.0v72.4zM977.40 1479.0v-94.9h2.0v94.9zM980.39 1479.0v-72.9h2.0v72.9zM983.37 1479.0v-75.6h2.0v75.6zM986.36 1479.0v-89.1h2.0v89.1zM989.34 1479.0v-30.2h2.0v30.2zM992.33 1479.0v-50.9h2.0v50.9zM995.31 1479.0v-64.1h2.0v64.1zM998.30 1479.0v-63.3h2.0v63.3zM1001.28 1479.0v-63.3h2.0v63.3zM1004.27 1479.0v-43.2h2.0v43.2zM1007.25 1479.0v-17.3h2.0v17.3zM1010.24 1479.0v-29.7h2.0v29.7zM1013.22 1479.0v-22.2h2.0v22.2zM1016.21 1479.0v-48.0h2.0v48.0zM1019.19 1479.0v-38.3h2.0v38.3zM1022.18 1479.0v-38.3h2.0v38.3zM1025.16 1479.0v-36.0h2.0v36.0zM1028.15 1479.0v-40.3h2.0v40.3zM1031.13 1479.0v-36.6h2.0v36.6zM1034.12 1479.0v-65.3h2.0v65.3zM1037.10 1479.0v-84.2h2.0v84.2zM1040.09 1479.0v-73.9h2.0v73.9zM1043.07 1479.0v-56.7h2.0v56.7zM1046.06 1479.0v-38.3h2.0v38.3zM1049.04 1479.0v-50.3h2.0v50.3zM1052.03 1479.0v-57.5h2.0v57.5zM1055.01 1479.0v-99.2h2.0v99.2zM1058.00 1479.0v-87.7h2.0v87.7zM1060.98 1479.0v-56.1h2.0v56.1zM1063.97 1479.0v-63.3h2.0v63.3zM1066.95 1479.0v-79.1h2.0v79.1zM1069.94 1479.0v-113.5h2.0v113.5zM1072.92 1479.0v-96.3h2.0v96.3zM1075.91 1479.0v-45.2h2.0v45.2zM1078.89 1479.0v-38.9h2.0v38.9zM1081.88 1479.0v-33.7h2.0v33.7zM1084.86 1479.0v-27.9h2.0v27.9zM1087.85 1479.0v-36.0h2.0v36.0zM1090.83 1479.0v-36.6h2.0v36.6zM1093.82 1479.0v-82.5h2.0v82.5zM1096.80 1479.0v-46.0h2.0v46.0zM1099.79 1479.0v-30.2h2.0v30.2zM1102.77 1479.0v-68.2h2.0v68.2zM1105.76 1479.0v-81.9h2.0v81.9zM1108.74 1479.0v-75.6h2.0v75.6zM1111.73 1479.0v-37.4h2.0v37.4zM1114.71 1479.0v-43.2h2.0v43.2zM1117.70 1479.0v-64.1h2.0v64.1zM1120.68 1479.0v-78.5h2.0v78.5zM1123.67 1479.0v-58.4h2.0v58.4zM1126.65 1479.0v-178.2h2.0v178.2zM1129.64 1479.0v-69.0h2.0v69.0zM1132.62 1479.0v-54.7h2.0v54.7zM1135.61 1479.0v-73.3h2.0v73.3zM1138.59 1479.0v-59.0h2.0v59.0zM1141.58 1479.0v-77.6h2.0v77.6zM1144.56 1479.0v-84.8h2.0v84.8zM1147.55 1479.0v-61.3h2.0v61.3zM1150.53 1479.0v-69.0h2.0v69.0zM1153.52 1479.0v-27.9h2.0v27.9zM1156.50 1479.0v-33.7h2.0v33.7zM1159.49 1479.0v-84.8h2.0v84.8zM1162.47 1479.0v-58.4h2.0v58.4zM1165.46 1479.0v-102.1h2.0v102.1zM1168.44 1479.0v-48.0h2.0v48.0zM1171.43 1479.0v-43.2h2.0v43.2zM1174.41 1479.0v-60.4h2.0v60.4zM1177.40 1479.0v-84.8h2.0v84.8zM1180.38 1479.0v-53.2h2.0v53.2zM1183.37 1479.0v-86.3h2.0v86.3zM1186.35 1479.0v-59.0h2.0v59.0zM1189.34 1479.0v-110.1h2.0v110.1zM1192.32 1479.0v-50.9h2.0v50.9zM1195.31 1479.0v-69.0h2.0v69.0zM1198.29 1479.0v-74.8h2.0v74.8zM1201.28 1479.0v-74.8h2.0v74.8zM1204.26 1479.0v-50.9h2.0v50.9zM1207.25 1479.0v-61.8h2.0v61.8zM1210.23 1479.0v-62.4h2.0v62.4zM1213.22 1479.0v-95.7h2.0v95.7zM1216.20 1479.0v-135.1h2.0v135.1zM1219.19 1479.0v-79.6h2.0v79.6zM1222.17 1479.0v-104.9h2.0v104.9zM1225.16 1479.0v-88.3h2.0v88.3zM1228.14 1479.0v-77.6h2.0v77.6zM1231.13 1479.0v-100.6h2.0v100.6zM1234.11 1479.0v-146.6h2.0v146.6zM1237.10 1479.0v-80.5h2.0v80.5zM1240.08 1479.0v-73.9h2.0v73.9zM1243.07 1479.0v-44.0h2.0v44.0zM1246.05 1479.0v-41.7h2.0v41.7zM1249.04 1479.0v-73.9h2.0v73.9zM1252.02 1479.0v-48.4h2.0v48.4zM1255.01 1479.0v-136.5h2.0v136.5zM1257.99 1479.0v-64.7h2.0v64.7zM1260.98 1479.0v-50.9h2.0v50.9zM1263.96 1479.0v-62.8h2.0v62.8zM1266.95 1479.0v-62.4h2.0v62.4zM1269.93 1479.0v-76.8h2.0v76.8zM1272.92 1479.0v-66.1h2.0v66.1zM1275.90 1479.0v-61.8h2.0v61.8zM1278.89 1479.0v-36.6h2.0v36.6zM1281.87 1479.0v-29.7h2.0v29.7zM1284.86 1479.0v-44.0h2.0v44.0zM1287.84 1479.0v-99.2h2.0v99.2zM1290.83 1479.0v-120.7h2.0v120.7zM1293.81 1479.0v-60.4h2.0v60.4zM1296.80 1479.0v-52.6h2.0v52.6zM1299.78 1479.0v-37.4h2.0v37.4zM1302.77 1479.0v-63.3h2.0v63.3zM1305.75 1479.0v-81.4h2.0v81.4zM1308.74 1479.0v-63.3h2.0v63.3zM1311.72 1479.0v-46.9h2.0v46.9zM1314.71 1479.0v-36.6h2.0v36.6zM1317.69 1479.0v-36.0h2.0v36.0zM1320.68 1479.0v-37.4h2.0v37.4zM1323.66 1479.0v-91.1h2.0v91.1zM1326.65 1479.0v-46.0h2.0v46.0zM1329.63 1479.0v-39.4h2.0v39.4zM1332.62 1479.0v-57.5h2.0v57.5zM1335.60 1479.0v-112.1h2.0v112.1zM1338.59 1479.0v-330.7h2.0v330.7zM1341.57 1479.0v-229.9h2.0v229.9zM1344.56 1479.0v-166.7h2.0v166.7zM1347.54 1479.0v-172.4h2.0v172.4zM1350.53 1479.0v-94.9h2.0v94.9zM1353.51 1479.0v-109.2h2.0v109.2zM1356.50 1479.0v-86.3h2.0v86.3zM1359.48 1479.0v-113.0h2.0v113.0zM1362.47 1479.0v-120.7h2.0v120.7zM1365.45 1479.0v-78.5h2.0v78.5zM1368.44 1479.0v-51.8h2.0v51.8zM1371.42 1479.0v-41.7h2.0v41.7zM1374.41 1479.0v-55.5h2.0v55.5zM1377.39 1479.0v-63.3h2.0v63.3zM1380.38 1479.0v-113.0h2.0v113.0zM1383.36 1479.0v-67.0h2.0v67.0zM1386.35 1479.0v-47.5h2.0v47.5zM1389.33 1479.0v-50.9h2.0v50.9zM1392.32 1479.0v-43.2h2.0v43.2zM1395.30 1479.0v-69.0h2.0v69.0zM1398.29 1479.0v-104.4h2.0v104.4zM1401.27 1479.0v-87.7h2.0v87.7zM1404.26 1479.0v-57.5h2.0v57.5zM1407.24 1479.0v-46.9h2.0v46.9zM1410.23 1479.0v-38.9h2.0v38.9zM1413.21 1479.0v-109.2h2.0v109.2zM1416.20 1479.0v-67.6h2.0v67.6zM1419.18 1479.0v-57.5h2.0v57.5zM1422.17 1479.0v-56.1h2.0v56.1zM1425.15 1479.0v-109.2h2.0v109.2zM1428.14 1479.0v-158.1h2.0v158.1zM1431.12 1479.0v-285.9h2.0v285.9zM1434.11 1479.0v-125.6h2.0v125.6zM1437.09 1479.0v-86.3h2.0v86.3zM1440.08 1479.0v-70.5h2.0v70.5zM1443.06 1479.0v-53.8h2.0v53.8zM1446.05 1479.0v-94.9h2.0v94.9zM1449.03 1479.0v-109.2h2.0v109.2zM1452.02 1479.0v-92.9h2.0v92.9zM1455.00 1479.0v-76.2h2.0v76.2zM1457.99 1479.0v-76.8h2.0v76.8zM1460.97 1479.0v-60.4h2.0v60.4zM1463.96 1479.0v-116.4h2.0v116.4zM1466.94 1479.0v-180.2h2.0v180.2zM1469.93 1479.0v-120.7h2.0v120.7zM1472.91 1479.0v-124.5h2.0v124.5zM1475.90 1479.0v-89.1h2.0v89.1zM1478.88 1479.0v-34.5h2.0v34.5zM1481.87 1479.0v-69.0h2.0v69.0zM1484.85 1479.0v-118.7h2.0v118.7zM1487.84 1479.0v-140.8h2.0v140.8zM1490.82 1479.0v-92.0h2.0v92.0zM1493.81 1479.0v-81.4h2.0v81.4zM1496.79 1479.0v-31.7h2.0v31.7zM1499.78 1479.0v-45.2h2.0v45.2zM1502.76 1479.0v-126.5h2.0v126.5zM1505.75 1479.0v-85.4h2.0v85.4zM1508.73 1479.0v-100.6h2.0v100.6zM1511.72 1479.0v-46.9h2.0v46.9zM1514.70 1479.0v-54.7h2.0v54.7zM1517.69 1479.0v-70.5h2.0v70.5zM1520.67 1479.0v-134.2h2.0v134.2zM1523.66 1479.0v-95.7h2.0v95.7zM1526.64 1479.0v-46.0h2.0v46.0zM1529.63 1479.0v-43.2h2.0v43.2zM1532.61 1479.0v-36.6h2.0v36.6zM1535.60 1479.0v-64.7h2.0v64.7zM1538.58 1479.0v-191.7h2.0v191.7zM1541.57 1479.0v-84.7h2.0v84.7zM1544.55 1479.0v-100.6h2.0v100.6zM1547.54 1479.0v-90.1h2.0v90.1zM1550.52 1479.0v-89.1h2.0v89.1zM1553.51 1479.0v-84.7h2.0v84.7zM1556.49 1479.0v-59.0h2.0v59.0zM1559.48 1479.0v-86.3h2.0v86.3zM1562.46 1479.0v-180.2h2.0v180.2zM1565.45 1479.0v-130.8h2.0v130.8zM1568.43 1479.0v-78.5h2.0v78.5zM1571.42 1479.0v-61.8h2.0v61.8zM1574.40 1479.0v-84.8h2.0v84.8zM1577.39 1479.0v-168.1h2.0v168.1zM1580.37 1479.0v-169.6h2.0v169.6zM1583.36 1479.0v-116.4h2.0v116.4zM1586.34 1479.0v-97.7h2.0v97.7zM1589.33 1479.0v-73.3h2.0v73.3zM1592.31 1479.0v-149.5h2.0v149.5zM1595.30 1479.0v-202.6h2.0v202.6zM1598.28 1479.0v-524.1h2.0v524.1zM1601.27 1479.0v-231.3h2.0v231.3zM1604.25 1479.0v-122.7h2.0v122.7zM1607.24 1479.0v-122.7h2.0v122.7zM1610.22 1479.0v-160.9h2.0v160.9zM1613.21 1479.0v-147.4h2.0v147.4zM1616.19 1479.0v-99.2h2.0v99.2zM1619.18 1479.0v-122.7h2.0v122.7zM1622.16 1479.0v-124.5h2.0v124.5zM1625.15 1479.0v-130.8h2.0v130.8zM1628.13 1479.0v-158.9h2.0v158.9zM1631.12 1479.0v-234.8h2.0v234.8zM1634.10 1479.0v-107.8h2.0v107.8zM1637.09 1479.0v-89.1h2.0v89.1zM1640.07 1479.0v-104.9h2.0v104.9zM1643.06 1479.0v-122.7h2.0v122.7zM1646.04 1479.0v-143.7h2.0v143.7zM1649.03 1479.0v-148.6h2.0v148.6zM1652.01 1479.0v-86.3h2.0v86.3zM1655.00 1479.0v-77.6h2.0v77.6zM1657.98 1479.0v-69.0h2.0v69.0zM1660.97 1479.0v-61.8h2.0v61.8zM1663.95 1479.0v-99.2h2.0v99.2zM1666.94 1479.0v-169.6h2.0v169.6zM1669.92 1479.0v-97.7h2.0v97.7zM1672.91 1479.0v-73.3h2.0v73.3zM1675.89 1479.0v-50.3h2.0v50.3zM1678.88 1479.0v-71.9h2.0v71.9zM1681.86 1479.0v-70.5h2.0v70.5zM1684.85 1479.0v-90.6h2.0v90.6zM1687.83 1479.0v-79.6h2.0v79.6zM1690.82 1479.0v-378.4h2.0v378.4zM1693.80 1479.0v-341.6h2.0v341.6zM1696.79 1479.0v-560.5h2.0v560.5zM1699.77 1479.0v-528.4h2.0v528.4zM1702.76 1479.0v-348.0h2.0v348.0zM1705.74 1479.0v-320.4h2.0v320.4zM1708.73 1479.0v-391.9h2.0v391.9zM1711.71 1479.0v-302.6h2.0v302.6zM1714.70 1479.0v-221.3h2.0v221.3zM1717.68 1479.0v-243.8h2.0v243.8zM1720.67 1479.0v-256.6h2.0v256.6zM1723.65 1479.0v-173.4h2.0v173.4zM1726.64 1479.0v-143.7h2.0v143.7zM1729.62 1479.0v-136.5h2.0v136.5zM1732.61 1479.0v-117.0h2.0v117.0zM1735.59 1479.0v-140.0h2.0v140.0zM1738.58 1479.0v-345.9h2.0v345.9zM1741.56 1479.0v-605.4h2.0v605.4zM1744.55 1479.0v-333.6h2.0v333.6zM1747.53 1479.0v-327.6h2.0v327.6zM1750.52 1479.0v-302.6h2.0v302.6zM1753.50 1479.0v-241.4h2.0v241.4zM1756.49 1479.0v-324.7h2.0v324.7zM1759.47 1479.0v-152.3h2.0v152.3zM1762.46 1479.0v-142.3h2.0v142.3zM1765.44 1479.0v-96.3h2.0v96.3zM1768.43 1479.0v-67.6h2.0v67.6zM1771.41 1479.0v-76.2h2.0v76.2zM1774.40 1479.0v-104.4h2.0v104.4zM1777.38 1479.0v-121.6h2.0v121.6zM1780.37 1479.0v-86.3h2.0v86.3zM1783.35 1479.0v-60.4h2.0v60.4zM1786.34 1479.0v-67.6h2.0v67.6zM1789.32 1479.0v-68.2h2.0v68.2zM1792.31 1479.0v-157.2h2.0v157.2zM1795.29 1479.0v-126.5h2.0v126.5zM1798.28 1479.0v-108.4h2.0v108.4zM1801.26 1479.0v-125.0h2.0v125.0zM1804.25 1479.0v-148.6h2.0v148.6zM1807.23 1479.0v-96.3h2.0v96.3zM1810.22 1479.0v-168.1h2.0v168.1zM1813.20 1479.0v-195.4h2.0v195.4zM1816.19 1479.0v-204.0h2.0v204.0zM1819.17 1479.0v-102.1h2.0v102.1zM1822.16 1479.0v-104.9h2.0v104.9zM1825.14 1479.0v-87.1h2.0v87.1zM1828.13 1479.0v-123.6h2.0v123.6zM1831.11 1479.0v-134.2h2.0v134.2zM1834.10 1479.0v-192.5h2.0v192.5zM1837.08 1479.0v-92.0h2.0v92.0zM1840.07 1479.0v-102.6h2.0v102.6zM1843.05 1479.0v-84.8h2.0v84.8zM1846.04 1479.0v-133.1h2.0v133.1zM1849.02 1479.0v-262.4h2.0v262.4zM1852.01 1479.0v-139.4h2.0v139.4zM1854.99 1479.0v-87.7h2.0v87.7zM1857.98 1479.0v-117.0h2.0v117.0zM1860.96 1479.0v-117.9h2.0v117.9zM1863.95 1479.0v-179.0h2.0v179.0zM1866.93 1479.0v-205.5h2.0v205.5zM1869.92 1479.0v-90.6h2.0v90.6zM1872.90 1479.0v-83.4h2.0v83.4zM1875.89 1479.0v-75.6h2.0v75.6zM1878.87 1479.0v-577.8h2.0v577.8zM1881.86 1479.0v-659.4h2.0v659.4zM1884.84 1479.0v-441.6h2.0v441.6zM1887.83 1479.0v-433.6h2.0v433.6zM1890.81 1479.0v-201.2h2.0v201.2zM1893.80 1479.0v-173.9h2.0v173.9zM1896.78 1479.0v-139.4h2.0v139.4zM1899.77 1479.0v-245.1h2.0v245.1zM1902.75 1479.0v-323.3h2.0v323.3zM1905.74 1479.0v-168.1h2.0v168.1zM1908.72 1479.0v-161.8h2.0v161.8zM1911.71 1479.0v-198.3h2.0v198.3zM1914.69 1479.0v-215.5h2.0v215.5zM1917.68 1479.0v-311.2h2.0v311.2zM1920.66 1479.0v-218.4h2.0v218.4zM1923.65 1479.0v-207.8h2.0v207.8zM1926.63 1479.0v-141.7h2.0v141.7zM1929.62 1479.0v-73.3h2.0v73.3zM1932.60 1479.0v-93.4h2.0v93.4zM1935.59 1479.0v-201.2h2.0v201.2zM1938.57 1479.0v-168.1h2.0v168.1zM1941.56 1479.0v-76.8h2.0v76.8zM1944.54 1479.0v-81.4h2.0v81.4zM1947.53 1479.0v-194.0h2.0v194.0zM1950.51 1479.0v-64.1h2.0v64.1zM1953.50 1479.0v-91.1h2.0v91.1zM1956.48 1479.0v-114.1h2.0v114.1zM1959.47 1479.0v-79.1h2.0v79.1zM1962.45 1479.0v-76.2h2.0v76.2zM1965.44 1479.0v-81.9h2.0v81.9zM1968.42 1479.0v-70.5h2.0v70.5zM1971.41 1479.0v-79.1h2.0v79.1zM1974.39 1479.0v-93.4h2.0v93.4zM1977.38 1479.0v-104.9h2.0v104.9zM1980.36 1479.0v-84.8h2.0v84.8zM1983.35 1479.0v-112.1h2.0v112.1zM1986.33 1479.0v-115.0h2.0v115.0zM1989.32 1479.0v-84.8h2.0v84.8zM1992.30 1479.0v-112.1h2.0v112.1zM1995.29 1479.0v-99.2h2.0v99.2zM1998.27 1479.0v-68.2h2.0v68.2zM2001.26 1479.0v-84.8h2.0v84.8zM2004.24 1479.0v-61.8h2.0v61.8zM2007.23 1479.0v-61.8h2.0v61.8zM2010.21 1479.0v-137.1h2.0v137.1zM2013.20 1479.0v-262.4h2.0v262.4zM2016.18 1479.0v-313.2h2.0v313.2zM2019.17 1479.0v-260.6h2.0v260.6zM2022.15 1479.0v-1065.9h2.0v1065.9zM2025.14 1479.0v-724.9h2.0v724.9zM2028.12 1479.0v-961.9h2.0v961.9zM2031.11 1479.0v-790.4h2.0v790.4zM2034.09 1479.0v-499.1h2.0v499.1zM2037.08 1479.0v-366.9h2.0v366.9zM2040.06 1479.0v-215.5h2.0v215.5zM2043.05 1479.0v-660.2h2.0v660.2zM2046.03 1479.0v-361.7h2.0v361.7zM2049.02 1479.0v-357.4h2.0v357.4zM2052.00 1479.0v-237.6h2.0v237.6zM2054.99 1479.0v-335.9h2.0v335.9zM2057.97 1479.0v-379.6h2.0v379.6zM2060.96 1479.0v-511.7h2.0v511.7zM2063.94 1479.0v-544.2h2.0v544.2zM2066.93 1479.0v-387.6h2.0v387.6zM2069.91 1479.0v-370.9h2.0v370.9zM2072.90 1479.0v-323.3h2.0v323.3zM2075.88 1479.0v-137.1h2.0v137.1zM2078.87 1479.0v-360.3h2.0v360.3zM2081.85 1479.0v-476.1h2.0v476.1zM2084.84 1479.0v-386.2h2.0v386.2zM2087.82 1479.0v-172.4h2.0v172.4zM2090.81 1479.0v-98.6h2.0v98.6zM2093.79 1479.0v-402.5h2.0v402.5zM2096.78 1479.0v-472.3h2.0v472.3zM2099.76 1479.0v-499.6h2.0v499.6zM2102.75 1479.0v-597.3h2.0v597.3zM2105.73 1479.0v-202.6h2.0v202.6zM2108.72 1479.0v-235.6h2.0v235.6zM2111.70 1479.0v-422.1h2.0v422.1zM2114.69 1479.0v-570.0h2.0v570.0zM2117.67 1479.0v-551.3h2.0v551.3zM2120.66 1479.0v-417.8h2.0v417.8zM2123.64 1479.0v-228.5h2.0v228.5zM2126.63 1479.0v-244.3h2.0v244.3zM2129.61 1479.0v-579.2h2.0v579.2zM2132.60 1479.0v-399.7h2.0v399.7zM2135.58 1479.0v-157.2h2.0v157.2zM2138.57 1479.0v-254.3h2.0v254.3zM2141.55 1479.0v-205.5h2.0v205.5zM2144.54 1479.0v-238.5h2.0v238.5zM2147.52 1479.0v-129.3h2.0v129.3zM2150.51 1479.0v-122.7h2.0v122.7zM2153.49 1479.0v-152.3h2.0v152.3zM2156.48 1479.0v-116.4h2.0v116.4zM2159.46 1479.0v-74.8h2.0v74.8zM2162.45 1479.0v-74.8h2.0v74.8zM2165.43 1479.0v-70.5h2.0v70.5zM2168.42 1479.0v-76.2h2.0v76.2zM2171.40 1479.0v-67.6h2.0v67.6zM2174.39 1479.0v-73.3h2.0v73.3zM2177.37 1479.0v-70.5h2.0v70.5zM2180.36 1479.0v-76.2h2.0v76.2zM2183.34 1479.0v-114.1h2.0v114.1zM2186.33 1479.0v-54.7h2.0v54.7zM2189.31 1479.0v-231.3h2.0v231.3zM2192.30 1479.0v-296.0h2.0v296.0zM2195.28 1479.0v-391.1h2.0v391.1zM2198.27 1479.0v-199.7h2.0v199.7zM2201.25 1479.0v-188.2h2.0v188.2zM2204.24 1479.0v-179.6h2.0v179.6zM2207.22 1479.0v-246.3h2.0v246.3zM2210.21 1479.0v-216.4h2.0v216.4zM2213.19 1479.0v-184.8h2.0v184.8zM2216.18 1479.0v-80.5h2.0v80.5zM2219.16 1479.0v-82.5h2.0v82.5zM2222.15 1479.0v-82.5h2.0v82.5zM2225.13 1479.0v-149.5h2.0v149.5zM2228.12 1479.0v-78.4h2.0v78.4zM2231.10 1479.0v-152.3h2.0v152.3zM2234.09 1479.0v-60.9h2.0v60.9zM2237.07 1479.0v-50.3h2.0v50.3zM2240.06 1479.0v-64.1h2.0v64.1zM2243.04 1479.0v-34.5h2.0v34.5zM2246.03 1479.0v-71.0h2.0v71.0zM2249.01 1479.0v-112.1h2.0v112.1zM2252.00 1479.0v-61.8h2.0v61.8zM2254.98 1479.0v-53.2h2.0v53.2zM2257.97 1479.0v-48.9h2.0v48.9zM2260.95 1479.0v-92.0h2.0v92.0zM2263.94 1479.0v-180.2h2.0v180.2zM2266.92 1479.0v-113.0h2.0v113.0zM2269.91 1479.0v-122.7h2.0v122.7zM2272.89 1479.0v-67.0h2.0v67.0zM2275.88 1479.0v-50.9h2.0v50.9zM2278.86 1479.0v-61.8h2.0v61.8zM2281.85 1479.0v-81.4h2.0v81.4zM2284.83 1479.0v-107.8h2.0v107.8zM2287.82 1479.0v-243.4h2.0v243.4zM2290.80 1479.0v-76.8h2.0v76.8zM2293.79 1479.0v-68.2h2.0v68.2zM2296.77 1479.0v-68.2h2.0v68.2zM2299.76 1479.0v-99.8h2.0v99.8zM2302.74 1479.0v-87.7h2.0v87.7zM2305.73 1479.0v-113.5h2.0v113.5zM2308.71 1479.0v-54.7h2.0v54.7zM2311.70 1479.0v-63.3h2.0v63.3zM2314.68 1479.0v-108.4h2.0v108.4zM2317.67 1479.0v-209.8h2.0v209.8zM2320.65 1479.0v-160.1h2.0v160.1zM2323.64 1479.0v-106.4h2.0v106.4zM2326.62 1479.0v-108.4h2.0v108.4zM2329.61 1479.0v-133.1h2.0v133.1zM2332.59 1479.0v-68.2h2.0v68.2zM2335.58 1479.0v-87.7h2.0v87.7zM2338.56 1479.0v-96.9h2.0v96.9zM2341.55 1479.0v-59.5h2.0v59.5zM2344.53 1479.0v-50.9h2.0v50.9zM2347.52 1479.0v-31.7h2.0v31.7zM2350.50 1479.0v-72.8h2.0v72.8zM2353.49 1479.0v-122.7h2.0v122.7zM2356.47 1479.0v-60.4h2.0v60.4zM2359.46 1479.0v-53.8h2.0v53.8zM2362.44 1479.0v-38.3h2.0v38.3zM2365.43 1479.0v-37.4h2.0v37.4zM2368.41 1479.0v-27.9h2.0v27.9zM2371.40 1479.0v-48.0h2.0v48.0zM2374.38 1479.0v-73.9h2.0v73.9zM2377.37 1479.0v-81.4h2.0v81.4zM2380.35 1479.0v-38.3h2.0v38.3zM2383.34 1479.0v-41.2h2.0v41.2zM2386.32 1479.0v-48.0h2.0v48.0zM2389.31 1479.0v-44.0h2.0v44.0zM2392.29 1479.0v-39.4h2.0v39.4zM2395.28 1479.0v-57.5h2.0v57.5zM2398.26 1479.0v-27.9h2.0v27.9zM2401.25 1479.0v-30.2h2.0v30.2zM2404.23 1479.0v-47.5h2.0v47.5zM2407.22 1479.0v-56.1h2.0v56.1zM2410.20 1479.0v-67.0h2.0v67.0zM2413.19 1479.0v-43.2h2.0v43.2zM2416.17 1479.0v-33.1h2.0v33.1zM2419.16 1479.0v-27.4h2.0v27.4zM2422.14 1479.0v-30.2h2.0v30.2zM2425.13 1479.0v-71.9h2.0v71.9zM2428.11 1479.0v-57.5h2.0v57.5zM2431.10 1479.0v-59.0h2.0v59.0zM2434.08 1479.0v-50.9h2.0v50.9zM2437.07 1479.0v-36.0h2.0v36.0zM2440.05 1479.0v-56.0h2.0v56.0zM2443.04 1479.0v-99.2h2.0v99.2zM2446.02 1479.0v-72.4h2.0v72.4zM2449.01 1479.0v-135.1h2.0v135.1zM2451.99 1479.0v-76.5h2.0v76.5zM2454.98 1479.0v-53.2h2.0v53.2zM2457.96 1479.0v-61.3h2.0v61.3zM2460.95 1479.0v-80.5h2.0v80.5zM2463.93 1479.0v-89.1h2.0v89.1zM2466.92 1479.0v-202.0h2.0v202.0zM2469.90 1479.0v-150.3h2.0v150.3zM2472.89 1479.0v-53.8h2.0v53.8zM2475.87 1479.0v-44.6h2.0v44.6zM2478.86 1479.0v-92.0h2.0v92.0zM2481.84 1479.0v-157.2h2.0v157.2zM2484.83 1479.0v-122.7h2.0v122.7zM2487.81 1479.0v-138.0h2.0v138.0zM2490.80 1479.0v-158.1h2.0v158.1zM2493.78 1479.0v-153.8h2.0v153.8zM2496.77 1479.0v-98.6h2.0v98.6zM2499.75 1479.0v-174.4h2.0v174.4zM2502.74 1479.0v-117.0h2.0v117.0zM2505.72 1479.0v-79.6h2.0v79.6zM2508.71 1479.0v-56.7h2.0v56.7zM2511.69 1479.0v-42.3h2.0v42.3zM2514.68 1479.0v-42.3h2.0v42.3zM2517.66 1479.0v-42.3h2.0v42.3zM2520.65 1479.0v-79.1h2.0v79.1zM2523.63 1479.0v-111.2h2.0v111.2zM2526.62 1479.0v-42.3h2.0v42.3zM2529.60 1479.0v-44.0h2.0v44.0zM2532.59 1479.0v-85.4h2.0v85.4zM2535.57 1479.0v-92.0h2.0v92.0zM2538.56 1479.0v-81.9h2.0v81.9zM2541.54 1479.0v-47.5h2.0v47.5zM2544.53 1479.0v-47.5h2.0v47.5zM2547.51 1479.0v-70.5h2.0v70.5zM2550.50 1479.0v-33.1h2.0v33.1zM2553.48 1479.0v-44.6h2.0v44.6zM2556.47 1479.0v-53.2h2.0v53.2zM2559.45 1479.0v-46.0h2.0v46.0zM2562.44 1479.0v-43.2h2.0v43.2zM2565.42 1479.0v-42.3h2.0v42.3zM2568.41 1479.0v-59.0h2.0v59.0zM2571.39 1479.0v-93.4h2.0v93.4zM2574.38 1479.0v-48.1h2.0v48.1zM2577.36 1479.0v-84.8h2.0v84.8zM2580.35 1479.0v-24.5h2.0v24.5zM2583.33 1479.0v-38.9h2.0v38.9zM2586.32 1479.0v-86.3h2.0v86.3zM2589.30 1479.0v-130.8h2.0v130.8zM2592.29 1479.0v-145.7h2.0v145.7zM2595.27 1479.0v-74.8h2.0v74.8zM2598.26 1479.0v-89.1h2.0v89.1zM2601.24 1479.0v-80.5h2.0v80.5zM2604.23 1479.0v-43.2h2.0v43.2zM2607.21 1479.0v-61.8h2.0v61.8zM2610.20 1479.0v-76.8h2.0v76.8zM2613.18 1479.0v-500.2h2.0v500.2zM2616.17 1479.0v-252.9h2.0v252.9zM2619.15 1479.0v-468.0h2.0v468.0zM2622.14 1479.0v-391.9h2.0v391.9zM2625.12 1479.0v-470.3h2.0v470.3zM2628.11 1479.0v-389.0h2.0v389.0zM2631.09 1479.0v-206.9h2.0v206.9zM2634.08 1479.0v-168.7h2.0v168.7zM2637.06 1479.0v-311.8h2.0v311.8zM2640.05 1479.0v-239.9h2.0v239.9zM2643.03 1479.0v-234.2h2.0v234.2zM2646.02 1479.0v-311.8h2.0v311.8zM2649.00 1479.0v-231.3h2.0v231.3zM2651.99 1479.0v-179.6h2.0v179.6zM2654.97 1479.0v-125.6h2.0v125.6zM2657.96 1479.0v-137.1h2.0v137.1zM2660.94 1479.0v-129.3h2.0v129.3zM2663.93 1479.0v-348.8h2.0v348.8zM2666.91 1479.0v-216.4h2.0v216.4zM2669.90 1479.0v-127.3h2.0v127.3zM2672.88 1479.0v-100.6h2.0v100.6zM2675.87 1479.0v-152.3h2.0v152.3zM2678.85 1479.0v-171.0h2.0v171.0zM2681.84 1479.0v-122.2h2.0v122.2zM2684.82 1479.0v-99.2h2.0v99.2zM2687.81 1479.0v-110.7h2.0v110.7zM2690.79 1479.0v-93.4h2.0v93.4zM2693.78 1479.0v-108.4h2.0v108.4zM2696.76 1479.0v-318.9h2.0v318.9zM2699.75 1479.0v-350.8h2.0v350.8zM2702.73 1479.0v-198.3h2.0v198.3zM2705.72 1479.0v-134.2h2.0v134.2zM2708.70 1479.0v-126.5h2.0v126.5zM2711.69 1479.0v-105.5h2.0v105.5zM2714.67 1479.0v-142.3h2.0v142.3zM2717.66 1479.0v-124.5h2.0v124.5zM2720.64 1479.0v-124.5h2.0v124.5zM2723.63 1479.0v-83.4h2.0v83.4zM2726.61 1479.0v-79.1h2.0v79.1zM2729.60 1479.0v-64.7h2.0v64.7zM2732.58 1479.0v-127.3h2.0v127.3zM2735.57 1479.0v-128.5h2.0v128.5zM2738.55 1479.0v-122.2h2.0v122.2zM2741.54 1479.0v-48.9h2.0v48.9zM2744.52 1479.0v-99.8h2.0v99.8zM2747.51 1479.0v-76.8h2.0v76.8zM2750.49 1479.0v-99.8h2.0v99.8zM2753.48 1479.0v-91.1h2.0v91.1zM2756.46 1479.0v-115.0h2.0v115.0zM2759.45 1479.0v-44.6h2.0v44.6zM2762.43 1479.0v-76.8h2.0v76.8zM2765.42 1479.0v-122.7h2.0v122.7zM2768.40 1479.0v-115.0h2.0v115.0zM2771.39 1479.0v-214.7h2.0v214.7zM2774.37 1479.0v-195.4h2.0v195.4zM2777.36 1479.0v-60.4h2.0v60.4zM2780.34 1479.0v-69.9h2.0v69.9zM2783.33 1479.0v-133.1h2.0v133.1zM2786.31 1479.0v-155.2h2.0v155.2zM2789.30 1479.0v-107.2h2.0v107.2zM2792.28 1479.0v-100.6h2.0v100.6zM2795.27 1479.0v-84.8h2.0v84.8zM2798.25 1479.0v-112.1h2.0v112.1zM2801.24 1479.0v-83.4h2.0v83.4zM2804.22 1479.0v-93.4h2.0v93.4zM2807.21 1479.0v-109.2h2.0v109.2zM2810.19 1479.0v-53.2h2.0v53.2zM2813.18 1479.0v-70.5h2.0v70.5zM2816.16 1479.0v-67.6h2.0v67.6zM2819.15 1479.0v-94.9h2.0v94.9zM2822.13 1479.0v-73.9h2.0v73.9zM2825.12 1479.0v-195.4h2.0v195.4zM2828.10 1479.0v-175.3h2.0v175.3zM2831.09 1479.0v-71.0h2.0v71.0zM2834.07 1479.0v-60.4h2.0v60.4zM2837.06 1479.0v-77.6h2.0v77.6zM2840.04 1479.0v-79.1h2.0v79.1zM2843.03 1479.0v-148.6h2.0v148.6zM2846.01 1479.0v-84.8h2.0v84.8zM2849.00 1479.0v-76.2h2.0v76.2zM2851.98 1479.0v-81.9h2.0v81.9zM2854.97 1479.0v-73.3h2.0v73.3zM2857.95 1479.0v-79.1h2.0v79.1zM2860.94 1479.0v-88.3h2.0v88.3zM2863.92 1479.0v-86.3h2.0v86.3zM2866.91 1479.0v-56.1h2.0v56.1zM2869.89 1479.0v-59.0h2.0v59.0zM2872.88 1479.0v-112.1h2.0v112.1zM2875.86 1479.0v-137.1h2.0v137.1zM2878.85 1479.0v-171.0h2.0v171.0zM2881.83 1479.0v-126.5h2.0v126.5zM2884.82 1479.0v-314.1h2.0v314.1zM2887.80 1479.0v-284.5h2.0v284.5zM2890.79 1479.0v-274.4h2.0v274.4zM2893.77 1479.0v-419.8h2.0v419.8zM2896.76 1479.0v-369.8h2.0v369.8zM2899.74 1479.0v-594.4h2.0v594.4zM2902.73 1479.0v-422.1h2.0v422.1zM2905.71 1479.0v-387.6h2.0v387.6zM2908.70 1479.0v-410.6h2.0v410.6zM2911.68 1479.0v-480.4h2.0v480.4zM2914.67 1479.0v-455.1h2.0v455.1zM2917.65 1479.0v-369.8h2.0v369.8zM2920.64 1479.0v-290.2h2.0v290.2zM2923.62 1479.0v-254.9h2.0v254.9zM2926.61 1479.0v-330.7h2.0v330.7zM2929.59 1479.0v-295.1h2.0v295.1zM2932.58 1479.0v-281.6h2.0v281.6zM2935.56 1479.0v-205.5h2.0v205.5zM2938.55 1479.0v-160.9h2.0v160.9zM2941.53 1479.0v-108.4h2.0v108.4zM2944.52 1479.0v-176.7h2.0v176.7zM2947.50 1479.0v-338.8h2.0v338.8zM2950.49 1479.0v-267.2h2.0v267.2zM2953.47 1479.0v-212.7h2.0v212.7zM2956.46 1479.0v-126.5h2.0v126.5zM2959.44 1479.0v-70.5h2.0v70.5zM2962.43 1479.0v-76.2h2.0v76.2zM2965.41 1479.0v-87.7h2.0v87.7zM2968.40 1479.0v-99.2h2.0v99.2zM2971.38 1479.0v-127.9h2.0v127.9zM2974.37 1479.0v-141.7h2.0v141.7zM2977.35 1479.0v-93.4h2.0v93.4zM2980.34 1479.0v-96.3h2.0v96.3zM2983.32 1479.0v-104.9h2.0v104.9zM2986.31 1479.0v-152.3h2.0v152.3zM2989.29 1479.0v-157.2h2.0v157.2zM2992.28 1479.0v-112.1h2.0v112.1zM2995.26 1479.0v-80.5h2.0v80.5zM2998.25 1479.0v-92.0h2.0v92.0zM3001.23 1479.0v-126.5h2.0v126.5zM3004.22 1479.0v-187.7h2.0v187.7zM3007.20 1479.0v-91.1h2.0v91.1zM3010.19 1479.0v-87.1h2.0v87.1zM3013.17 1479.0v-59.0h2.0v59.0zM3016.16 1479.0v-48.0h2.0v48.0zM3019.14 1479.0v-60.4h2.0v60.4zM3022.13 1479.0v-126.5h2.0v126.5zM3025.11 1479.0v-98.6h2.0v98.6zM3028.10 1479.0v-100.6h2.0v100.6zM3031.08 1479.0v-71.9h2.0v71.9zM3034.07 1479.0v-71.9h2.0v71.9zM3037.05 1479.0v-70.5h2.0v70.5zM3040.04 1479.0v-72.8h2.0v72.8zM3043.02 1479.0v-103.5h2.0v103.5zM3046.01 1479.0v-92.9h2.0v92.9zM3048.99 1479.0v-44.6h2.0v44.6zM3051.98 1479.0v-33.7h2.0v33.7zM3054.96 1479.0v-88.3h2.0v88.3zM3057.95 1479.0v-81.9h2.0v81.9zM3060.93 1479.0v-80.8h2.0v80.8zM3063.92 1479.0v-72.2h2.0v72.2zM3066.90 1479.0v-61.6h2.0v61.6zM3069.89 1479.0v-91.4h2.0v91.4zM3072.87 1479.0v-63.6h2.0v63.6zM3075.86 1479.0v-118.1h2.0v118.1zM3078.84 1479.0v-116.7h2.0v116.7zM3081.83 1479.0v-75.1h2.0v75.1zM3084.81 1479.0v-30.6h2.0v30.6zM3087.80 1479.0v-73.0h2.0v73.0zM3090.78 1479.0v-65.0h2.0v65.0zM3093.77 1479.0v-76.5h2.0v76.5zM3096.75 1479.0v-47.8h2.0v47.8zM3099.74 1479.0v-94.3h2.0v94.3zM3102.72 1479.0v-37.8h2.0v37.8zM3105.71 1479.0v-65.0h2.0v65.0zM3108.69 1479.0v-38.6h2.0v38.6zM3111.68 1479.0v-55.0h2.0v55.0zM3114.66 1479.0v-67.3h2.0v67.3zM3117.65 1479.0v-100.9h2.0v100.9zM3120.63 1479.0v-109.5h2.0v109.5zM3123.62 1479.0v-39.8h2.0v39.8zM3126.60 1479.0v-56.4h2.0v56.4zM3129.59 1479.0v-139.6h2.0v139.6zM3132.57 1479.0v-73.0h2.0v73.0zM3135.56 1479.0v-53.5h2.0v53.5zM3138.54 1479.0v-100.0h2.0v100.0zM3141.53 1479.0v-72.2h2.0v72.2zM3144.51 1479.0v-61.6h2.0v61.6zM3147.50 1479.0v-51.2h2.0v51.2zM3150.48 1479.0v-94.3h2.0v94.3zM3153.47 1479.0v-92.3h2.0v92.3zM3156.45 1479.0v-53.5h2.0v53.5zM3159.44 1479.0v-142.5h2.0v142.5zM3162.42 1479.0v-63.6h2.0v63.6zM3165.41 1479.0v-111.5h2.0v111.5zM3168.39 1479.0v-79.4h2.0v79.4zM3171.38 1479.0v-59.3h2.0v59.3zM3174.36 1479.0v-40.6h2.0v40.6zM3177.35 1479.0v-20.5h2.0v20.5zM3180.33 1479.0v-55.0h2.0v55.0zM3183.32 1479.0v-67.9h2.0v67.9zM3186.30 1479.0v-71.3h2.0v71.3zM3189.29 1479.0v-55.8h2.0v55.8zM3192.27 1479.0v-33.4h2.0v33.4zM3195.26 1479.0v-42.1h2.0v42.1zM3198.24 1479.0v-115.2h2.0v115.2zM3201.23 1479.0v-59.3h2.0v59.3zM3204.21 1479.0v-118.1h2.0v118.1zM3207.20 1479.0v-102.3h2.0v102.3zM3210.18 1479.0v-45.5h2.0v45.5zM3213.17 1479.0v-86.5h2.0v86.5zM3216.15 1479.0v-139.6h2.0v139.6zM3219.14 1479.0v-57.8h2.0v57.8zM3222.12 1479.0v-49.2h2.0v49.2zM3225.11 1479.0v-53.5h2.0v53.5zM3228.09 1479.0v-13.4h2.0v13.4zM3231.08 1479.0v-77.9h2.0v77.9zM3234.06 1479.0v-28.3h2.0v28.3zM3237.05 1479.0v-53.5h2.0v53.5zM3240.03 1479.0v-56.4h2.0v56.4zM3243.02 1479.0v-67.3h2.0v67.3zM3246.00 1479.0v-37.8h2.0v37.8zM3248.99 1479.0v-22.0h2.0v22.0zM3251.97 1479.0v-28.3h2.0v28.3zM3254.96 1479.0v-76.5h2.0v76.5zM3257.94 1479.0v-47.2h2.0v47.2zM3260.93 1479.0v-57.8h2.0v57.8zM3263.91 1479.0v-42.6h2.0v42.6zM3266.90 1479.0v-45.5h2.0v45.5zM3269.88 1479.0v-27.7h2.0v27.7zM3272.87 1479.0v-37.8h2.0v37.8zM3275.85 1479.0v-49.2h2.0v49.2zM3278.84 1479.0v-70.8h2.0v70.8zM3281.82 1479.0v-42.6h2.0v42.6zM3284.81 1479.0v-34.0h2.0v34.0zM3287.79 1479.0v-39.2h2.0v39.2zM3290.78 1479.0v-116.1h2.0v116.1zM3293.76 1479.0v-183.2h2.0v183.2zM3296.75 1479.0v-212.8h2.0v212.8zM3299.73 1479.0v-103.7h2.0v103.7zM3302.72 1479.0v-133.3h2.0v133.3zM3305.70 1479.0v-55.0h2.0v55.0zM3308.69 1479.0v-42.6h2.0v42.6zM3311.67 1479.0v-89.4h2.0v89.4zM3314.66 1479.0v-109.5h2.0v109.5zM3317.64 1479.0v-128.1h2.0v128.1zM3320.63 1479.0v-126.7h2.0v126.7zM3323.61 1479.0v-124.7h2.0v124.7zM3326.60 1479.0v-110.3h2.0v110.3zM3329.58 1479.0v-126.7h2.0v126.7zM3332.57 1479.0v-93.7h2.0v93.7zM3335.55 1479.0v-152.5h2.0v152.5zM3338.54 1479.0v-227.1h2.0v227.1zM3341.52 1479.0v-95.1h2.0v95.1zM3344.51 1479.0v-67.9h2.0v67.9zM3347.49 1479.0v-64.4h2.0v64.4zM3350.48 1479.0v-26.3h2.0v26.3zM3353.46 1479.0v-33.4h2.0v33.4zM3356.45 1479.0v-62.1h2.0v62.1zM3359.43 1479.0v-57.8h2.0v57.8zM3362.42 1479.0v-65.0h2.0v65.0zM3365.40 1479.0v-42.1h2.0v42.1zM3368.39 1479.0v-29.1h2.0v29.1zM3371.37 1479.0v-19.7h2.0v19.7zM3374.36 1479.0v-30.6h2.0v30.6zM3377.34 1479.0v-49.2h2.0v49.2zM3380.33 1479.0v-48.4h2.0v48.4zM3383.31 1479.0v-119.5h2.0v119.5zM3386.30 1479.0v-98.0h2.0v98.0zM3389.28 1479.0v-74.2h2.0v74.2zM3392.27 1479.0v-51.2h2.0v51.2zM3395.25 1479.0v-39.2h2.0v39.2zM3398.24 1479.0v-36.3h2.0v36.3zM3401.22 1479.0v-42.1h2.0v42.1zM3404.21 1479.0v-33.4h2.0v33.4zM3407.19 1479.0v-39.2h2.0v39.2zM3410.18 1479.0v-40.0h2.0v40.0zM3413.16 1479.0v-42.1h2.0v42.1zM3416.15 1479.0v-79.4h2.0v79.4zM3419.13 1479.0v-191.8h2.0v191.8zM3422.12 1479.0v-194.1h2.0v194.1zM3425.10 1479.0v-270.2h2.0v270.2zM3428.09 1479.0v-225.1h2.0v225.1zM3431.07 1479.0v-244.4h2.0v244.4zM3434.06 1479.0v-185.5h2.0v185.5zM3437.04 1479.0v-139.6h2.0v139.6zM3440.03 1479.0v-115.2h2.0v115.2zM3443.01 1479.0v-125.3h2.0v125.3zM3446.00 1479.0v-67.3h2.0v67.3zM3448.98 1479.0v-4.8h2.0v4.8z" fill="#84d5ee"/>
<path d="M115.8 1025.2 L118.7 1000.8 L121.5 1018.0 L124.4 1015.1 L127.9 1030.9 L131.0 1007.9 L134.5 1016.6 L139.6 1020.3 L143.1 1007.1 L146.0 1010.8 L149.4 1029.5 L152.3 1026.0 L157.5 976.3 L160.3 978.4 L163.8 970.6 L167.5 999.3 L170.4 1006.5 L173.3 997.9 L176.1 1003.6 L179.0 989.8 L182.4 1002.2 L185.6 1037.5 L188.5 1037.5 L191.4 1055.3 L194.2 1046.7 L197.1 1041.6 L200.0 1062.5 L202.8 1020.9 L206.3 1020.9 L209.2 1015.7 L214.9 1080.6 L217.8 1076.9 L220.7 1081.2 L224.1 1076.0 L227.8 1077.8 L230.7 1082.6 L233.6 1058.2 L236.5 1055.3 L239.9 1038.1 L242.2 1033.8 L245.1 1012.3 L248.8 1017.4 L251.7 1016.6 L255.1 1022.3 L258.6 1023.2 L260.9 1025.2 L263.7 1017.4 L267.2 1038.7 L269.5 1028.1 L272.4 1037.5 L275.8 1028.1 L278.7 1020.3 L281.6 1020.3 L284.4 1042.4 L288.2 1046.7 L291.0 1048.2 L293.9 1042.4 L296.8 1022.3 L299.7 1074.0 L303.1 1070.3 L306.0 1053.9 L308.8 1048.2 L311.7 1061.1 L314.6 1064.0 L317.5 1069.7 L320.6 1074.9 L324.1 1067.4 L326.9 1051.9 L329.8 1058.2 L333.3 1032.4 L338.4 999.3 L341.3 989.3 L344.8 982.1 L347.6 997.9 L350.5 1005.9 L354.2 1005.9 L357.1 1002.2 L360.0 1007.9 L362.9 982.1 L365.7 968.6 L369.2 972.0 L372.0 986.4 L374.9 977.2 L377.8 978.4 L381.5 987.8 L384.4 989.8 L387.3 985.8 L390.1 987.8 L393.0 995.0 L396.5 989.3 L399.3 980.7 L402.2 979.2 L404.5 966.3 L408.0 931.8 L410.8 937.0 L413.7 931.8 L417.2 946.2 L420.3 938.1 L423.8 934.1 L426.1 907.4 L429.8 906.0 L432.4 914.6 L434.7 943.3 L436.1 974.9 L437.5 1066.8 L439.0 1079.8 L443.3 1082.6 L447.6 1089.8 L450.5 1127.2 L453.3 1092.7 L456.2 1101.3 L458.5 1091.3 L462.5 1102.7 L465.4 1104.2 L468.3 1096.1 L472.0 1093.3 L474.0 1074.0 L477.8 1088.4 L480.6 1093.3 L482.9 1084.1 L486.4 1099.9 L489.3 1093.3 L492.1 1120.0 L495.0 1114.2 L498.7 1138.7 L501.6 1130.0 L504.5 1134.3 L507.4 1118.0 L510.8 1117.1 L513.7 1121.4 L516.5 1128.6 L522.3 1122.0 L525.2 1101.9 L529.5 1105.6 L533.8 1102.7 L536.7 1128.6 L541.0 1153.0 L543.3 1138.7 L546.1 1153.0 L549.6 1140.1 L553.9 1130.0 L558.2 1112.8 L561.1 1104.2 L564.8 1081.2 L567.7 1088.4 L571.1 1072.6 L574.0 1070.3 L576.9 1071.1 L579.7 1055.3 L583.2 1036.7 L586.9 1043.3 L589.8 1039.5 L592.7 1055.3 L594.7 1033.8 L598.4 1046.7 L601.3 1044.4 L604.2 1059.7 L607.0 1051.9 L609.9 1049.0 L612.8 1053.0 L616.2 1061.7 L620.0 1058.8 L622.3 1059.7 L625.1 1067.4 L628.6 1035.8 L630.9 1025.2 L634.3 1030.9 L638.6 1035.8 L642.4 1036.7 L645.2 1048.2 L648.7 1041.6 L652.1 1065.4 L655.0 1054.8 L661.6 1068.3 L664.5 1112.8 L667.4 1143.0 L670.2 1168.8 L674.5 1167.4 L677.4 1178.9 L680.3 1200.3 L683.2 1185.9 L686.0 1183.9 L688.9 1188.8 L691.8 1196.0 L694.1 1233.3 L696.1 1259.2 L698.1 1260.6 L700.4 1216.1 L703.3 1203.1 L705.6 1224.7 L708.4 1198.8 L710.5 1181.7 L714.8 1176.0 L717.6 1164.5 L720.5 1160.2 L724.0 1174.6 L726.8 1165.9 L730.6 1141.5 L733.4 1137.2 L737.2 1155.9 L739.2 1137.2 L741.2 1189.9 L742.9 1233.3 L744.9 1216.1 L747.8 1206.0 L750.7 1197.4 L753.5 1201.7 L757.9 1210.3 L760.7 1207.5 L763.6 1201.7 L766.5 1203.1 L769.3 1201.7 L772.2 1218.9 L775.1 1241.9 L777.4 1193.1 L781.4 1183.2 L786.6 1186.1 L790.0 1161.1 L793.8 1168.8 L796.6 1170.8 L800.9 1184.6 L805.3 1211.8 L808.1 1201.7 L811.0 1220.4 L813.0 1217.5 L815.9 1233.3 L818.2 1227.6 L821.1 1237.6 L823.9 1257.7 L826.2 1234.7 L828.2 1214.6 L831.1 1208.9 L834.0 1210.3 L836.9 1244.8 L839.7 1250.5 L840.0 1244.8 L842.3 1236.2 L844.3 1170.1 L847.2 1180.2 L850.9 1193.1 L853.8 1190.2 L856.7 1177.3 L859.5 1170.7 L863.0 1177.3 L865.3 1150.0 L865.9 1141.7 L868.2 1058.4 L871.0 1065.6 L874.5 1045.5 L877.9 1039.7 L881.1 1059.8 L883.7 1052.6 L886.8 1055.5 L890.3 1045.5 L892.6 1036.8 L896.0 1055.5 L898.9 1049.8 L901.8 1048.3 L904.6 1047.8 L906.6 1044.0 L908.9 1049.8 L911.2 1013.9 L914.1 1039.7 L917.0 1061.3 L919.9 1051.2 L923.3 1058.4 L926.2 1058.4 L929.1 1003.8 L931.4 1011.6 L934.8 1007.5 L937.7 999.5 L940.5 986.6 L943.4 993.7 L946.3 956.4 L947.7 944.9 L950.0 939.7 L953.5 938.6 L956.3 942.0 L959.2 944.3 L962.1 835.2 L965.5 834.3 L968.4 823.2 L971.3 841.5 L973.6 842.9 L976.5 854.4 L979.9 870.8 L982.8 868.8 L985.9 872.5 L989.4 872.5 L992.3 847.2 L995.1 823.2 L998.0 860.2 L1000.9 847.2 L1004.3 871.7 L1007.2 851.5 L1010.1 838.6 L1012.9 841.5 L1015.8 838.0 L1019.5 847.2 L1022.4 838.6 L1025.3 834.3 L1028.2 813.7 L1031.0 827.5 L1033.9 823.2 L1036.8 821.2 L1040.5 854.4 L1042.0 816.0 L1043.1 791.6 L1046.8 780.1 L1049.1 795.9 L1052.0 760.8 L1055.5 760.8 L1059.8 762.9 L1062.6 790.1 L1064.6 763.7 L1067.8 768.6 L1071.3 793.0 L1074.1 816.0 L1074.5 835.7 L1076.1 805.9 L1079.9 797.3 L1082.2 847.2 L1088.5 801.6 L1091.9 769.5 L1094.2 765.7 L1098.0 739.9 L1100.8 767.2 L1102.9 757.1 L1105.7 763.7 L1107.7 768.6 L1110.0 752.8 L1112.9 774.3 L1115.8 704.0 L1118.7 709.1 L1121.5 702.5 L1124.4 686.7 L1127.3 645.1 L1129.3 640.8 L1131.6 639.3 L1133.6 641.3 L1135.9 637.3 L1140.2 637.3 L1143.1 660.3 L1145.9 663.2 L1148.8 663.2 L1152.6 652.3 L1155.1 679.5 L1158.0 659.4 L1161.2 668.1 L1164.0 675.8 L1167.5 639.3 L1170.4 624.1 L1173.2 629.3 L1175.5 662.3 L1179.0 623.5 L1181.3 649.4 L1184.7 626.4 L1188.2 607.7 L1191.0 618.4 L1193.9 625.0 L1197.1 614.9 L1200.0 561.8 L1203.4 560.3 L1206.3 571.8 L1209.1 567.5 L1212.6 575.3 L1214.9 477.6 L1217.8 491.9 L1220.7 509.2 L1224.1 533.6 L1227.0 532.7 L1230.7 549.4 L1233.6 598.2 L1236.4 606.9 L1239.9 625.0 L1242.8 592.5 L1245.6 588.5 L1248.5 586.8 L1251.4 668.1 L1254.2 659.4 L1257.4 668.1 L1260.0 649.4 L1262.9 662.3 L1266.0 642.2 L1269.5 643.6 L1272.3 656.6 L1275.2 646.5 L1278.7 650.8 L1282.4 669.5 L1287.6 691.9 L1291.0 666.6 L1293.3 660.9 L1296.8 624.1 L1299.6 606.9 L1302.5 604.9 L1305.4 573.3 L1308.8 606.9 L1311.1 597.1 L1314.6 603.4 L1317.7 613.5 L1320.3 602.0 L1324.1 610.6 L1326.9 630.7 L1329.8 679.5 L1332.1 663.7 L1334.7 686.7 L1338.4 732.1 L1341.3 724.1 L1344.7 714.0 L1347.9 735.6 L1350.8 719.8 L1353.6 714.0 L1356.2 657.4 L1359.4 650.8 L1362.8 647.9 L1365.7 671.8 L1368.6 638.5 L1371.5 669.5 L1374.3 659.4 L1377.2 617.2 L1380.6 617.2 L1383.5 620.7 L1386.7 637.9 L1391.6 640.2 L1395.9 646.5 L1398.7 637.3 L1402.2 631.6 L1405.4 638.5 L1408.2 646.5 L1411.7 675.2 L1415.1 670.1 L1418.0 665.2 L1420.3 645.1 L1422.6 684.4 L1425.5 620.1 L1428.9 629.3 L1432.4 640.8 L1436.1 653.7 L1439.0 658.6 L1441.8 656.6 L1444.7 640.8 L1447.6 592.5 L1450.5 563.8 L1453.3 583.3 L1456.2 591.9 L1459.9 591.9 L1462.8 583.9 L1465.7 593.4 L1468.6 619.2 L1471.4 600.5 L1474.9 599.1 L1478.3 620.7 L1483.5 646.5 L1486.4 655.1 L1489.8 651.7 L1492.7 645.1 L1495.6 617.8 L1498.4 620.7 L1501.3 646.5 L1504.2 662.3 L1507.0 653.7 L1509.9 654.6 L1512.2 652.3 L1515.1 660.9 L1519.4 676.7 L1522.3 667.2 L1526.0 650.8 L1528.9 640.8 L1531.8 617.2 L1534.6 634.4 L1537.5 630.7 L1540.4 629.3 L1543.2 619.2 L1545.3 591.9 L1547.3 560.3 L1549.0 531.6 L1552.4 512.1 L1555.9 507.2 L1558.8 493.4 L1561.6 517.8 L1564.5 457.5 L1567.4 428.7 L1570.3 450.3 L1573.1 460.3 L1576.3 485.6 L1579.2 484.7 L1582.6 479.9 L1586.1 494.8 L1588.9 494.2 L1591.8 489.1 L1594.7 438.8 L1596.4 441.7 L1599.9 537.9 L1603.3 547.1 L1606.2 532.1 L1609.9 530.7 L1613.4 546.5 L1616.2 535.0 L1619.1 540.2 L1622.0 543.1 L1624.8 553.7 L1627.7 578.1 L1630.6 595.3 L1633.5 573.8 L1637.2 563.7 L1640.1 573.8 L1642.9 566.0 L1645.8 583.9 L1649.3 543.6 L1651.6 572.4 L1655.0 553.7 L1658.7 549.4 L1661.6 547.9 L1664.5 555.1 L1667.4 568.9 L1670.2 566.0 L1673.1 526.4 L1676.6 517.2 L1679.4 519.2 L1682.3 514.3 L1685.2 556.6 L1688.0 562.3 L1690.9 581.0 L1692.4 621.2 L1693.8 654.2 L1696.1 662.0 L1699.5 668.6 L1703.3 667.2 L1706.1 683.0 L1709.0 684.4 L1712.8 711.7 L1715.6 698.8 L1718.5 662.9 L1721.4 701.1 L1724.2 681.5 L1727.1 677.2 L1730.6 690.1 L1733.4 695.9 L1736.3 708.8 L1739.4 745.6 L1742.3 746.1 L1745.2 778.6 L1748.1 810.2 L1751.5 805.9 L1754.4 778.6 L1757.2 748.4 L1760.1 747.9 L1763.9 742.7 L1767.3 731.2 L1770.2 732.6 L1772.5 724.0 L1774.8 755.6 L1778.2 702.5 L1781.1 695.3 L1784.5 729.8 L1787.4 715.4 L1790.3 725.5 L1793.2 708.8 L1796.0 704.8 L1798.9 724.0 L1801.8 767.1 L1805.5 766.2 L1808.4 770.0 L1811.3 745.6 L1814.1 811.6 L1817.0 801.6 L1820.4 772.9 L1823.3 805.9 L1827.1 801.6 L1829.9 770.0 L1832.8 750.7 L1835.7 758.5 L1838.5 797.3 L1841.4 788.7 L1845.7 784.3 L1850.6 780.0 L1854.3 762.8 L1857.2 750.7 L1860.1 757.6 L1863.0 745.6 L1865.8 712.5 L1868.7 719.1 L1871.6 719.7 L1874.5 748.4 L1877.3 780.0 L1879.3 826.0 L1880.2 878.8 L1883.1 854.4 L1885.9 855.9 L1889.7 886.0 L1893.1 855.3 L1896.0 854.4 L1899.4 845.8 L1902.3 837.2 L1905.2 834.3 L1908.1 842.9 L1910.9 865.9 L1913.8 850.7 L1916.7 850.1 L1920.4 856.4 L1922.4 842.9 L1923.3 814.5 L1925.3 770.0 L1929.0 765.7 L1931.9 762.8 L1934.8 777.2 L1937.7 774.3 L1940.5 751.9 L1944.3 752.7 L1947.1 772.9 L1950.6 793.0 L1952.9 757.6 L1956.3 756.5 L1959.8 758.5 L1962.6 778.6 L1966.4 765.7 L1970.7 757.1 L1975.0 731.2 L1977.9 762.8 L1980.7 770.0 L1984.2 797.3 L1986.5 780.0 L1989.9 793.0 L1993.7 787.2 L1995.7 782.9 L1998.6 790.1 L2001.4 793.8 L2004.6 778.6 L2007.5 772.9 L2010.0 803.0 L2011.8 826.0 L2012.9 867.3 L2015.8 877.4 L2018.7 919.1 L2021.0 1002.4 L2022.4 1059.8 L2025.3 1090.0 L2027.6 1059.8 L2029.6 1013.9 L2032.5 1005.2 L2036.8 1003.8 L2041.1 1005.8 L2043.1 1011.0 L2046.0 1042.6 L2048.8 1013.9 L2052.6 1003.8 L2055.4 1009.5 L2058.9 1035.4 L2062.6 1023.0 L2066.1 1012.4 L2068.4 990.9 L2071.2 965.0 L2074.1 955.0 L2077.6 953.5 L2080.4 936.9 L2082.7 930.5 L2085.6 955.0 L2088.5 963.6 L2091.9 979.4 L2094.2 967.9 L2097.1 1003.8 L2100.0 963.6 L2103.4 985.1 L2106.3 970.8 L2109.2 996.6 L2112.9 979.4 L2115.8 1005.2 L2118.6 1031.1 L2122.4 1052.6 L2125.8 1054.1 L2128.7 1031.1 L2131.0 1056.9 L2133.9 1022.5 L2137.3 1045.5 L2140.2 1041.1 L2143.1 1074.2 L2146.5 1032.5 L2149.4 1042.6 L2153.1 1031.1 L2156.0 1023.9 L2157.4 1032.5 L2161.7 1004.7 L2166.0 1004.7 L2168.9 1009.5 L2174.7 993.7 L2180.4 986.6 L2182.4 1013.9 L2185.3 1021.0 L2188.2 1018.2 L2190.5 1068.4 L2193.3 1078.5 L2196.8 1083.4 L2200.5 1076.5 L2204.0 1073.6 L2206.3 1054.1 L2209.1 1079.9 L2212.0 1076.5 L2214.9 1032.5 L2218.3 1034.5 L2222.1 1037.4 L2224.9 1039.1 L2226.9 1082.8 L2229.8 1021.9 L2233.5 1018.2 L2237.9 1019.6 L2242.7 1007.5 L2246.5 1034.5 L2249.3 1049.8 L2252.2 1052.6 L2255.1 1048.9 L2258.0 1074.2 L2260.8 1069.0 L2263.7 1087.1 L2266.0 1082.2 L2269.5 1100.0 L2272.3 1094.9 L2275.8 1092.9 L2278.6 1070.7 L2282.4 1078.5 L2285.3 1085.7 L2289.0 1067.0 L2291.9 1052.6 L2295.3 1056.9 L2298.2 1068.4 L2301.1 1071.9 L2303.9 1082.8 L2308.2 1083.4 L2312.5 1087.1 L2315.4 1098.6 L2318.9 1107.2 L2320.0 1100.0 L2321.4 1079.9 L2323.4 1075.6 L2326.3 1048.3 L2329.2 1028.2 L2332.1 1018.2 L2334.9 1031.1 L2338.7 1021.9 L2343.0 1009.5 L2347.3 1008.7 L2351.0 1015.3 L2354.5 1019.0 L2358.8 1025.3 L2362.5 1028.2 L2366.0 1042.0 L2369.4 1032.5 L2371.7 1019.6 L2374.0 946.3 L2377.5 961.6 L2380.3 954.1 L2383.8 953.5 L2387.5 954.1 L2390.4 956.4 L2393.3 951.2 L2396.1 960.7 L2399.9 957.0 L2402.7 955.8 L2405.6 965.0 L2408.5 963.6 L2411.9 956.4 L2414.8 970.8 L2417.7 990.9 L2420.5 986.6 L2423.4 990.3 L2426.9 979.4 L2430.6 967.3 L2434.9 956.4 L2439.2 960.7 L2442.1 964.4 L2444.1 940.6 L2447.0 945.5 L2449.8 962.1 L2452.7 986.6 L2456.5 1007.5 L2459.3 1008.1 L2462.2 1015.3 L2465.1 1051.2 L2467.9 1056.9 L2470.8 1043.2 L2474.3 1056.9 L2477.4 1051.2 L2480.0 1043.2 L2482.9 1064.1 L2486.6 1092.0 L2490.1 1088.5 L2492.9 1071.3 L2495.8 1056.9 L2498.7 1068.4 L2501.0 1058.4 L2504.4 1068.4 L2507.3 1067.0 L2510.2 1073.6 L2513.0 1044.9 L2516.8 1046.9 L2519.7 1107.2 L2523.4 1085.1 L2526.8 1070.7 L2531.1 1077.1 L2534.0 1069.0 L2537.5 1064.1 L2540.6 1052.6 L2544.1 1062.1 L2548.4 1069.9 L2554.1 1068.4 L2561.3 1077.6 L2564.8 1071.3 L2567.6 1059.8 L2570.5 1082.8 L2573.4 1088.5 L2577.1 1090.8 L2580.0 1093.7 L2582.9 1088.5 L2585.7 1082.8 L2589.2 1073.6 L2591.5 1102.9 L2594.9 1106.4 L2597.8 1092.0 L2601.5 1092.9 L2604.4 1095.7 L2606.7 1082.8 L2608.7 1117.3 L2610.7 1146.0 L2613.0 1177.3 L2615.3 1191.7 L2618.2 1187.3 L2621.1 1196.0 L2623.9 1194.5 L2626.8 1183.0 L2628.8 1177.3 L2631.7 1188.8 L2633.7 1217.5 L2636.0 1229.0 L2639.4 1208.9 L2642.3 1246.2 L2645.2 1233.3 L2648.1 1237.6 L2650.9 1228.1 L2654.7 1225.3 L2658.4 1223.3 L2661.3 1233.3 L2664.7 1263.5 L2667.0 1231.9 L2670.5 1227.0 L2674.8 1228.1 L2677.7 1231.0 L2684.8 1218.9 L2692.0 1221.8 L2694.9 1234.7 L2698.6 1260.6 L2701.5 1236.2 L2704.9 1219.5 L2708.4 1216.6 L2711.3 1227.0 L2715.0 1233.3 L2718.7 1193.1 L2722.2 1203.1 L2725.1 1205.2 L2727.9 1206.9 L2731.4 1185.9 L2734.2 1174.4 L2738.8 1163.8 L2742.3 1176.4 L2745.2 1173.0 L2748.6 1173.6 L2751.5 1190.2 L2755.2 1200.3 L2758.1 1206.0 L2761.5 1201.1 L2763.8 1210.3 L2766.7 1227.0 L2768.7 1194.5 L2771.6 1189.6 L2775.3 1190.8 L2778.8 1194.5 L2782.5 1193.1 L2786.0 1192.5 L2788.8 1182.2 L2791.1 1178.2 L2794.0 1187.3 L2796.9 1191.7 L2799.2 1185.9 L2802.0 1193.1 L2805.5 1185.9 L2808.4 1195.4 L2811.2 1189.6 L2814.7 1199.4 L2817.6 1201.7 L2821.3 1201.7 L2825.6 1210.9 L2828.5 1215.5 L2831.9 1217.5 L2835.7 1221.2 L2839.4 1229.9 L2842.3 1234.7 L2845.7 1226.1 L2852.9 1218.9 L2860.1 1224.1 L2862.9 1226.1 L2865.8 1231.9 L2868.7 1225.3 L2872.1 1221.2 L2875.0 1218.9 L2876.7 1197.4 L2878.7 1183.9 L2881.0 1194.5 L2882.5 1244.8 L2884.5 1282.1 L2886.5 1310.9 L2888.2 1321.8 L2890.2 1313.2 L2893.1 1315.2 L2895.4 1314.3 L2897.4 1331.0 L2899.7 1356.8 L2901.7 1385.6 L2904.6 1392.7 L2907.5 1410.0 L2911.2 1421.5 L2914.1 1437.3 L2917.5 1447.3 L2920.4 1437.3 L2923.3 1424.3 L2926.7 1411.4 L2929.6 1410.0 L2932.5 1425.8 L2935.3 1445.9 L2937.6 1395.6 L2940.5 1417.2 L2942.8 1434.4 L2945.7 1454.5 L2947.7 1474.6 L2949.7 1460.3 L2952.0 1430.1 L2954.9 1397.6 L2957.2 1379.8 L2959.2 1389.9 L2962.1 1397.1 L2967.8 1385.6 L2973.5 1374.1 L2976.4 1362.6 L2979.3 1361.1 L2982.2 1343.0 L2984.2 1339.6 L2987.0 1341.0 L2989.9 1359.7 L2992.8 1368.3 L2995.7 1402.8 L2998.0 1391.3 L3001.4 1384.1 L3005.1 1379.8 L3008.0 1394.2 L3011.8 1368.3 L3014.6 1364.0 L3018.1 1379.8 L3020.9 1399.9 L3023.8 1369.8 L3026.1 1366.9 L3028.1 1349.7 L3031.9 1348.2 L3035.3 1346.8 L3039.6 1352.5 L3043.4 1345.3 L3046.8 1336.7 L3051.1 1343.0 L3054.0 1336.7 L3056.9 1341.0 L3059.7 1348.2 L3063.1 1358.9 L3066.6 1372.4 L3070.3 1369.5 L3074.0 1365.2 L3078.0 1329.3 L3081.8 1327.3 L3084.6 1323.6 L3088.4 1328.5 L3091.8 1329.3 L3095.3 1323.6 L3098.1 1330.2 L3101.0 1319.9 L3104.7 1325.6 L3106.7 1333.1 L3109.6 1327.3 L3112.5 1354.3 L3115.4 1352.3 L3118.2 1368.1 L3120.5 1375.3 L3123.4 1370.4 L3126.3 1371.5 L3129.1 1379.6 L3132.0 1375.3 L3134.9 1385.9 L3137.7 1368.7 L3140.6 1360.9 L3143.5 1346.6 L3146.3 1345.7 L3149.2 1310.5 L3152.1 1264.6 L3154.9 1237.9 L3159.3 1240.8 L3163.6 1240.0 L3167.0 1230.2 L3169.9 1235.9 L3173.6 1240.0 L3177.3 1237.9 L3180.2 1233.6 L3183.6 1237.9 L3187.1 1236.5 L3190.0 1225.0 L3192.8 1206.4 L3195.1 1196.3 L3199.4 1202.1 L3202.3 1178.6 L3206.0 1149.0 L3208.9 1166.2 L3211.8 1158.5 L3215.2 1131.8 L3218.1 1164.8 L3220.9 1178.6 L3224.4 1197.8 L3227.3 1158.5 L3229.6 1186.3 L3232.4 1174.0 L3235.3 1172.0 L3238.7 1169.1 L3242.5 1147.6 L3245.3 1152.7 L3248.2 1170.5 L3251.1 1160.5 L3254.5 1138.4 L3257.7 1136.1 L3260.5 1149.0 L3263.4 1170.5 L3266.3 1182.6 L3269.7 1182.0 L3272.6 1182.6 L3275.5 1167.6 L3277.8 1187.7 L3279.8 1202.1 L3282.6 1210.7 L3286.9 1215.9 L3289.2 1219.3 L3292.1 1212.1 L3294.1 1219.3 L3296.4 1202.1 L3299.0 1216.4 L3302.7 1215.9 L3307.0 1210.1 L3311.3 1204.9 L3314.2 1219.3 L3317.1 1223.6 L3319.9 1218.7 L3321.4 1226.5 L3324.8 1215.0 L3327.1 1219.3 L3330.0 1204.9 L3332.9 1223.6 L3335.2 1200.6 L3338.6 1175.7 L3341.5 1172.8 L3343.8 1157.6 L3347.2 1156.2 L3350.1 1164.8 L3353.5 1144.1 L3356.4 1164.2 L3360.1 1160.5 L3363.0 1158.5 L3365.9 1178.6 L3368.7 1155.6 L3371.6 1162.5 L3375.3 1172.0 L3378.2 1166.2 L3381.1 1180.6 L3383.1 1209.3 L3385.1 1230.8 L3387.4 1249.4 L3389.7 1268.1 L3392.5 1262.3 L3396.0 1263.8 L3398.9 1273.8 L3405.2 1270.9 L3412.3 1276.7 L3414.6 1273.8 L3418.1 1288.2 L3420.9 1283.0 L3424.7 1283.0 L3427.0 1280.1 L3429.0 1291.0 L3431.9 1309.7 L3434.7 1325.5 L3436.7 1332.6 L3440.5 1331.2 L3444.2 1329.8 L3446.2 1318.3 L3448.2 1314.6 L3449.9 1312.6" fill="none" stroke="#2fcb5e" stroke-width="2.9" stroke-linejoin="miter" stroke-miterlimit="3" stroke-linecap="round" opacity="0.65"/>
<rect x="1970.2" y="419.2" width="204.6" height="999.7" fill="none" stroke="#fd7a2b" stroke-width="12.5"/>
<rect x="2554.2" y="791.7" width="130.6" height="630.8" fill="none" stroke="#ff8c1e" stroke-width="12.4"/>
<rect x="2853.2" y="789.6" width="113.7" height="634.2" fill="none" stroke="#ff8c1e" stroke-width="12.3"/>
<rect x="3405.1" y="1101.6" width="82.7" height="344.8" fill="none" stroke="#ff8c1e" stroke-width="12.6"/>
<rect x="1606.5" y="1566" width="18" height="18" fill="#68d4f4"/>
<text x="1633.7" y="1583.5" font-size="26" fill="#ffffff" textLength="174.7" lengthAdjust="spacingAndGlyphs">Social Volume</text>
<rect x="1846.5" y="1566" width="18" height="18" fill="#26c953"/>
<text x="1874.5" y="1583.5" font-size="26" fill="#ffffff" textLength="128.5" lengthAdjust="spacingAndGlyphs">BTC / USD</text>
</svg></body></html>
